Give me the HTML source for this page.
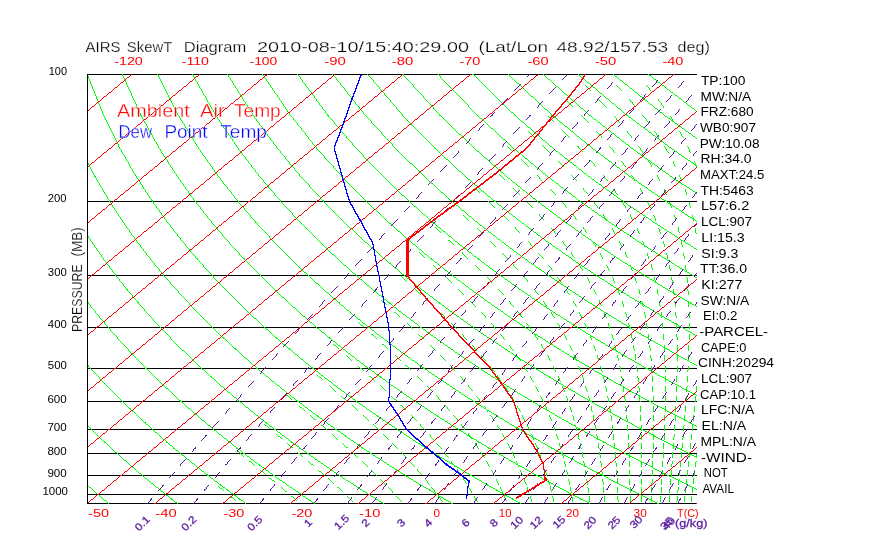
<!DOCTYPE html><html><head><meta charset="utf-8"><title>AIRS SkewT Diagram</title>
<style>html,body{margin:0;padding:0;background:#fff}svg{display:block}text{font-family:"Liberation Sans",sans-serif}</style></head><body>
<svg width="870" height="560" viewBox="0 0 870 560">
<rect width="870" height="560" fill="#fff"/>
<g fill="none" stroke-width="1" shape-rendering="crispEdges">
<path stroke="#000" d="M87 74.5h610m-610 127h610m-610 74h610m-610 52h610m-610 41h610m-610 33h610m-610 28h610m-610 24h610m-610 22h610m-610 19h610m-610 9h610"/>
<path stroke="#00ff00" d="M87 74.5h1m34 0h1m34 0h1m34 0h1m34 0h1m34 0h1m34 0h1m34 0h1m34 0h1m35 0h1m34 0h1m33 0h2m34 0h1m34 0h1m34 0h1m34 0h1m34 0h1m-562 1h1m34 0h1m35 0h1m34 0h1m34 0h1m34 0h1m34 0h1m34 0h1m34 0h1m34 0h1m35 0h1m34 0h1m34 0h1m34 0h1m34 0h1m34 0h1m34 0h2m-563 1h1m34 0h1m34 0h1m34 0h1m34 0h1m35 0h1m34 0h1m34 0h1m34 0h1m34 0h1m35 0h1m34 0h1m34 0h1m34 0h1m34 0h1m34 0h2m34 0h1m-564 1h1m34 0h1m35 0h1m34 0h1m34 0h1m34 0h1m35 0h1m34 0h1m34 0h1m34 0h1m34 0h1m35 0h1m34 0h1m34 0h1m34 0h2m34 0h1m34 0h1m-565 1h1m35 0h1m34 0h1m34 0h1m35 0h1m34 0h1m34 0h1m35 0h1m34 0h1m34 0h1m34 0h1m35 0h1m34 0h1m34 0h1m35 0h1m34 0h1m34 0h1m-565 1h1m34 0h1m35 0h1m34 0h1m34 0h1m35 0h1m34 0h1m34 0h1m35 0h1m34 0h1m34 0h1m35 0h1m34 0h1m34 0h2m34 0h1m34 0h1m34 0h2m-567 1h1m35 0h1m34 0h1m34 0h1m35 0h1m34 0h1m35 0h1m34 0h1m35 0h1m34 0h1m34 0h1m35 0h1m34 0h1m35 0h1m34 0h1m34 0h2m34 0h1m-567 1h1m34 0h1m35 0h1m34 0h1m35 0h1m34 0h1m34 0h1m35 0h1m34 0h1m35 0h1m34 0h1m35 0h1m34 0h1m35 0h1m34 0h1m35 0h1m34 0h1m-568 1h1m35 0h1m34 0h1m35 0h1m34 0h1m35 0h1m34 0h1m35 0h1m34 0h1m35 0h1m34 0h1m35 0h1m34 0h1m35 0h1m34 0h2m34 0h1m34 0h2m-570 1h1m35 0h1m35 0h1m34 0h1m35 0h1m34 0h1m35 0h1m35 0h1m34 0h1m35 0h1m34 0h1m35 0h1m34 0h2m34 0h1m35 0h1m34 0h1m35 0h1m-570 1h1m34 0h1m35 0h1m35 0h1m34 0h1m35 0h1m35 0h1m34 0h1m35 0h1m35 0h1m34 0h1m35 0h1m35 0h1m34 0h1m35 0h1m34 0h2m34 0h1m-571 1h1m35 0h1m35 0h1m34 0h1m35 0h1m35 0h1m34 0h1m35 0h1m35 0h1m35 0h1m34 0h1m35 0h1m35 0h1m34 0h1m35 0h1m35 0h1m34 0h2m-572 1h1m34 0h1m35 0h1m35 0h1m35 0h1m34 0h1m35 0h1m35 0h1m35 0h1m34 0h1m35 0h1m35 0h1m35 0h1m34 0h2m34 0h1m35 0h1m35 0h1m-573 1h1m35 0h1m35 0h1m34 0h1m35 0h1m35 0h1m35 0h1m35 0h1m35 0h1m34 0h1m35 0h1m35 0h1m35 0h1m35 0h1m34 0h2m34 0h1m35 0h1m-574 1h1m35 0h1m35 0h1m35 0h1m35 0h1m35 0h1m35 0h1m35 0h1m34 0h1m35 0h1m35 0h1m35 0h1m35 0h1m35 0h1m35 0h1m34 0h2m34 0h1m-574 1h1m35 0h1m35 0h1m35 0h1m35 0h1m34 0h1m35 0h1m35 0h1m35 0h1m35 0h1m35 0h1m35 0h1m35 0h1m35 0h1m35 0h1m35 0h1m34 0h2m-576 1h1m35 0h1m35 0h1m35 0h1m35 0h1m35 0h1m35 0h1m35 0h1m35 0h1m35 0h1m35 0h1m35 0h1m35 0h1m35 0h1m35 0h1m35 0h1m35 0h1m-576 1h1m35 0h1m35 0h1m35 0h1m35 0h1m35 0h1m35 0h1m35 0h1m35 0h1m35 0h1m35 0h1m35 0h1m35 0h1m35 0h1m35 0h1m35 0h1m35 0h1m-577 1h1m35 0h1m35 0h1m35 0h1m35 0h1m35 0h1m36 0h1m35 0h1m35 0h1m35 0h1m35 0h1m35 0h1m35 0h1m35 0h1m35 0h1m35 0h2m34 0h2m-579 1h1m36 0h1m35 0h1m35 0h1m35 0h1m35 0h1m35 0h1m35 0h1m36 0h1m35 0h1m35 0h1m35 0h1m35 0h1m35 0h1m35 0h2m35 0h1m35 0h1m-579 1h1m35 0h1m35 0h1m35 0h1m36 0h1m35 0h1m35 0h1m35 0h1m35 0h1m36 0h1m35 0h1m35 0h1m35 0h1m35 0h2m35 0h1m35 0h1m35 0h1m-580 1h1m35 0h1m36 0h1m35 0h1m35 0h1m36 0h1m35 0h1m35 0h1m35 0h1m36 0h1m35 0h1m35 0h1m35 0h1m36 0h1m35 0h1m35 0h1m35 0h2m-581 1h1m35 0h1m35 0h1m36 0h1m35 0h1m35 0h1m36 0h1m35 0h1m35 0h1m36 0h1m35 0h1m35 0h1m35 0h2m35 0h1m35 0h1m35 0h2m35 0h1m-582 1h1m35 0h1m36 0h1m35 0h1m36 0h1m35 0h1m35 0h1m36 0h1m35 0h1m35 0h1m36 0h1m35 0h1m36 0h1m35 0h1m35 0h1m36 0h1m35 0h1m-583 1h1m36 0h1m35 0h1m36 0h1m35 0h1m36 0h1m35 0h1m35 0h1m36 0h1m35 0h1m36 0h1m35 0h1m36 0h1m35 0h1m35 0h2m35 0h1m35 0h2m-584 1h1m35 0h1m36 0h1m35 0h1m36 0h1m35 0h1m36 0h1m35 0h1m36 0h1m35 0h1m36 0h1m35 0h1m36 0h1m35 0h1m36 0h1m35 0h1m36 0h1m-585 1h1m36 0h1m35 0h1m36 0h1m35 0h1m36 0h1m35 0h1m36 0h1m36 0h1m35 0h1m36 0h1m35 0h1m36 0h1m35 0h1m36 0h1m35 0h2m35 0h1m-585 1h1m35 0h1m36 0h1m35 0h1m36 0h1m36 0h1m35 0h1m36 0h1m35 0h1m36 0h1m36 0h1m35 0h1m36 0h1m35 0h2m35 0h1m36 0h1m35 0h1m-586 1h1m36 0h1m35 0h1m36 0h1m36 0h1m35 0h1m36 0h1m36 0h1m35 0h1m36 0h1m36 0h1m35 0h1m36 0h1m36 0h1m35 0h1m36 0h1m35 0h2m-588 1h1m36 0h1m36 0h1m36 0h1m35 0h1m36 0h1m36 0h1m35 0h1m36 0h1m36 0h1m36 0h1m35 0h1m36 0h1m36 0h1m35 0h2m35 0h1m36 0h1m-588 1h1m36 0h1m35 0h1m36 0h1m36 0h1m36 0h1m35 0h1m36 0h1m36 0h1m36 0h1m36 0h1m35 0h1m36 0h1m36 0h1m36 0h1m35 0h2m35 0h1m-589 1h1m36 0h1m36 0h1m36 0h1m36 0h1m35 0h1m36 0h1m36 0h1m36 0h1m36 0h1m36 0h1m35 0h1m36 0h1m36 0h1m36 0h1m36 0h1m35 0h2m-590 1h1m35 0h1m36 0h1m36 0h1m36 0h1m36 0h1m36 0h1m36 0h1m36 0h1m36 0h1m35 0h1m36 0h1m36 0h1m36 0h1m36 0h1m36 0h1m36 0h1m-591 1h1m36 0h1m36 0h1m36 0h1m36 0h1m36 0h1m36 0h1m36 0h1m36 0h1m36 0h1m35 0h1m36 0h1m36 0h1m36 0h1m36 0h1m36 0h1m36 0h1m-592 1h1m36 0h1m36 0h1m36 0h1m36 0h1m36 0h1m36 0h1m36 0h1m36 0h1m36 0h1m36 0h1m36 0h1m36 0h1m36 0h2m35 0h2m35 0h2m35 0h2m-593 1h1m36 0h1m36 0h1m36 0h1m36 0h1m36 0h1m36 0h1m36 0h1m36 0h1m36 0h1m36 0h1m36 0h1m36 0h2m36 0h1m36 0h1m36 0h1m36 0h1m-594 1h1m36 0h1m36 0h1m37 0h1m36 0h1m36 0h1m36 0h1m36 0h1m36 0h1m36 0h1m36 0h1m36 0h1m37 0h1m36 0h1m36 0h1m36 0h1m36 0h1m-594 1h1m36 0h1m36 0h1m36 0h1m36 0h1m36 0h1m37 0h1m36 0h1m36 0h1m36 0h1m36 0h1m36 0h1m37 0h1m36 0h1m36 0h1m36 0h1m36 0h1m-595 1h1m36 0h1m36 0h1m37 0h1m36 0h1m36 0h1m36 0h1m37 0h1m36 0h1m36 0h1m36 0h1m36 0h2m36 0h1m36 0h1m36 0h1m36 0h2m-560 1h1m37 0h1m36 0h1m36 0h1m37 0h1m36 0h1m36 0h1m36 0h1m37 0h1m36 0h1m36 0h1m37 0h1m36 0h1m36 0h1m36 0h1m37 0h1m-560 1h1m36 0h1m36 0h1m37 0h1m36 0h1m36 0h1m37 0h1m36 0h1m37 0h1m36 0h1m36 0h1m37 0h1m36 0h1m36 0h1m36 0h2m36 0h1m-561 1h1m36 0h2m36 0h1m36 0h1m36 0h2m36 0h1m36 0h2m36 0h1m36 0h1m36 0h2m36 0h1m36 0h2m35 0h2m36 0h2m35 0h2m36 0h1m-561 1h1m36 0h1m37 0h1m36 0h1m37 0h1m36 0h1m36 0h1m37 0h1m36 0h1m37 0h1m36 0h1m37 0h1m36 0h1m37 0h1m36 0h1m36 0h2m-563 1h1m37 0h1m36 0h1m37 0h1m36 0h1m37 0h1m36 0h1m37 0h1m36 0h1m37 0h1m36 0h1m37 0h1m36 0h2m36 0h1m36 0h2m36 0h1m-563 1h1m36 0h1m37 0h1m36 0h1m37 0h1m37 0h1m36 0h1m37 0h1m36 0h1m37 0h1m36 0h2m36 0h1m37 0h1m36 0h1m37 0h1m36 0h2m-565 1h1m37 0h1m36 0h1m37 0h1m37 0h1m36 0h1m37 0h1m37 0h1m36 0h1m37 0h1m37 0h1m36 0h1m37 0h1m36 0h2m36 0h1m37 0h1m-565 1h1m36 0h1m37 0h1m37 0h1m36 0h1m37 0h1m37 0h1m37 0h1m36 0h1m37 0h1m37 0h1m36 0h1m37 0h1m37 0h1m36 0h2m36 0h1m-566 1h1m37 0h1m37 0h1m36 0h1m37 0h1m37 0h1m37 0h1m37 0h1m36 0h1m37 0h1m37 0h1m36 0h2m36 0h1m37 0h1m37 0h1m36 0h2m-567 1h1m36 0h1m37 0h1m37 0h1m37 0h1m37 0h1m37 0h1m36 0h1m37 0h1m37 0h1m37 0h1m37 0h1m36 0h2m36 0h2m36 0h1m37 0h1m-568 1h1m37 0h1m37 0h1m37 0h1m37 0h1m37 0h1m36 0h1m37 0h1m37 0h1m37 0h1m37 0h1m37 0h1m37 0h1m37 0h1m36 0h2m36 0h2m-569 1h1m37 0h1m37 0h1m36 0h1m37 0h1m37 0h1m37 0h1m37 0h1m37 0h1m37 0h1m37 0h1m37 0h1m37 0h1m37 0h1m37 0h1m37 0h1m-570 1h1m37 0h1m37 0h1m37 0h1m37 0h1m37 0h1m37 0h1m37 0h1m37 0h1m37 0h1m37 0h1m37 0h1m37 0h1m37 0h1m37 0h1m37 0h1m-570 1h1m37 0h1m37 0h1m37 0h1m37 0h1m37 0h1m37 0h1m37 0h1m37 0h1m37 0h1m37 0h1m37 0h1m37 0h2m36 0h2m36 0h2m36 0h2m-572 1h1m37 0h1m37 0h1m37 0h1m38 0h1m37 0h1m37 0h1m37 0h1m37 0h1m37 0h1m37 0h1m37 0h2m37 0h1m37 0h1m37 0h1m37 0h1m-572 1h1m37 0h1m37 0h1m37 0h1m37 0h1m38 0h1m37 0h1m37 0h1m37 0h1m37 0h1m37 0h2m37 0h1m37 0h1m37 0h1m37 0h1m37 0h2m-574 1h1m37 0h1m38 0h1m37 0h1m37 0h1m37 0h1m38 0h1m37 0h1m37 0h1m37 0h1m38 0h1m37 0h1m37 0h1m37 0h1m37 0h2m37 0h1m-574 1h1m37 0h1m37 0h1m38 0h1m37 0h1m37 0h1m37 0h1m38 0h1m37 0h1m37 0h1m38 0h1m37 0h1m37 0h1m37 0h2m37 0h1m37 0h1m-575 1h1m37 0h1m38 0h1m37 0h1m38 0h1m37 0h1m37 0h1m38 0h1m37 0h1m37 0h1m38 0h1m37 0h1m37 0h2m37 0h1m37 0h1m37 0h2m-576 1h1m37 0h1m37 0h1m38 0h1m37 0h1m38 0h1m37 0h1m38 0h1m37 0h1m37 0h1m38 0h1m37 0h1m38 0h1m37 0h1m37 0h2m37 0h1m-577 1h1m38 0h1m37 0h1m38 0h1m37 0h1m38 0h1m37 0h1m37 0h1m38 0h1m37 0h1m38 0h1m37 0h2m37 0h1m37 0h2m37 0h1m37 0h2m-578 1h1m37 0h1m38 0h1m37 0h1m38 0h1m37 0h1m38 0h1m37 0h1m38 0h1m37 0h2m37 0h1m38 0h1m37 0h1m38 0h1m37 0h1m38 0h1m-579 1h1m38 0h1m37 0h1m38 0h1m37 0h1m38 0h1m38 0h1m37 0h1m38 0h1m38 0h1m37 0h1m38 0h1m37 0h1m38 0h1m37 0h2m37 0h1m-579 1h1m37 0h1m38 0h1m38 0h1m37 0h1m38 0h1m38 0h1m37 0h1m38 0h1m38 0h1m37 0h1m38 0h1m37 0h2m37 0h1m38 0h1m37 0h2m-581 1h1m38 0h1m38 0h1m37 0h1m38 0h1m38 0h1m37 0h1m38 0h1m38 0h1m38 0h1m37 0h1m38 0h1m38 0h1m37 0h2m37 0h1m38 0h1m-581 1h1m37 0h1m38 0h1m38 0h1m38 0h1m37 0h1m38 0h1m38 0h1m38 0h1m38 0h1m37 0h1m38 0h1m38 0h1m38 0h1m37 0h2m37 0h1m-582 1h1m38 0h1m38 0h1m38 0h1m37 0h1m38 0h1m38 0h1m38 0h1m38 0h1m38 0h1m37 0h2m37 0h1m38 0h1m38 0h1m38 0h1m-544 1h1m37 0h1m38 0h1m38 0h1m38 0h1m38 0h1m38 0h1m38 0h1m38 0h1m38 0h1m38 0h1m37 0h2m37 0h2m37 0h1m38 0h1m-545 1h1m38 0h1m38 0h1m38 0h1m38 0h1m38 0h1m38 0h1m38 0h1m38 0h1m38 0h1m38 0h1m38 0h1m38 0h1m37 0h2m37 0h2m-546 1h1m38 0h1m38 0h1m38 0h1m38 0h1m38 0h1m38 0h1m38 0h1m38 0h1m38 0h1m38 0h1m38 0h1m38 0h1m38 0h1m38 0h1m-547 1h1m38 0h1m38 0h1m38 0h1m38 0h1m38 0h1m39 0h1m38 0h1m38 0h1m38 0h1m38 0h1m38 0h1m38 0h1m38 0h1m38 0h1m-547 1h1m38 0h1m38 0h1m38 0h1m38 0h1m38 0h1m38 0h1m39 0h1m38 0h1m38 0h1m38 0h1m38 0h1m38 0h1m38 0h2m37 0h2m-549 1h1m38 0h1m38 0h1m39 0h1m38 0h1m38 0h1m38 0h1m38 0h1m39 0h1m38 0h1m38 0h1m38 0h1m38 0h2m38 0h1m38 0h1m-550 1h1m39 0h1m38 0h1m38 0h1m39 0h1m38 0h1m38 0h1m38 0h1m39 0h1m38 0h1m38 0h1m38 0h2m38 0h1m38 0h1m38 0h1m-550 1h1m38 0h1m39 0h1m38 0h1m38 0h1m39 0h1m38 0h1m38 0h1m39 0h1m38 0h1m38 0h1m39 0h1m38 0h1m38 0h1m38 0h2m-552 1h1m39 0h1m38 0h1m39 0h1m38 0h1m38 0h1m39 0h1m38 0h1m38 0h2m38 0h1m38 0h1m39 0h1m38 0h1m38 0h2m38 0h1m-552 1h1m39 0h1m38 0h1m38 0h1m39 0h1m38 0h1m39 0h1m38 0h1m39 0h1m38 0h1m38 0h2m38 0h1m38 0h2m38 0h1m38 0h2m-553 1h1m38 0h1m39 0h1m38 0h1m39 0h1m38 0h1m39 0h1m38 0h1m39 0h1m38 0h1m39 0h1m38 0h1m39 0h1m38 0h2m38 0h1m-554 1h1m39 0h1m38 0h1m39 0h1m39 0h1m38 0h1m39 0h1m38 0h1m39 0h1m38 0h2m38 0h1m38 0h2m38 0h1m39 0h1m38 0h2m-555 1h1m38 0h1m39 0h1m39 0h1m38 0h1m39 0h1m39 0h1m38 0h1m39 0h1m39 0h1m38 0h1m39 0h1m38 0h2m38 0h1m39 0h1m-556 1h1m39 0h1m39 0h1m38 0h1m39 0h1m39 0h1m39 0h1m38 0h1m39 0h1m39 0h1m38 0h2m38 0h1m39 0h1m38 0h2m38 0h1m-556 1h1m39 0h1m38 0h1m39 0h1m39 0h1m39 0h1m39 0h1m38 0h1m39 0h1m39 0h1m39 0h1m38 0h2m38 0h1m39 0h1m38 0h2m-557 1h1m38 0h1m39 0h1m39 0h1m39 0h1m39 0h1m39 0h1m38 0h1m39 0h1m39 0h1m39 0h1m39 0h1m38 0h2m38 0h2m38 0h1m-558 1h1m39 0h1m39 0h1m39 0h1m39 0h1m39 0h1m38 0h1m39 0h1m39 0h1m39 0h1m39 0h1m39 0h1m39 0h1m39 0h1m38 0h2m-559 1h1m39 0h1m39 0h1m39 0h1m39 0h1m38 0h1m39 0h1m39 0h1m39 0h1m39 0h1m39 0h1m39 0h1m39 0h1m39 0h1m39 0h1m-560 1h1m39 0h1m39 0h1m39 0h1m39 0h1m39 0h1m39 0h1m39 0h1m39 0h1m39 0h2m38 0h2m38 0h2m38 0h2m38 0h2m38 0h2m-561 1h1m39 0h1m39 0h1m39 0h1m39 0h1m39 0h1m39 0h1m39 0h1m39 0h2m39 0h1m39 0h1m39 0h1m39 0h1m39 0h1m39 0h1m-562 1h1m40 0h1m39 0h1m39 0h1m39 0h1m39 0h1m39 0h1m39 0h1m40 0h1m39 0h1m39 0h1m39 0h1m39 0h1m39 0h2m38 0h2m-603 1h1m39 0h1m39 0h1m39 0h1m40 0h1m39 0h1m39 0h1m39 0h1m39 0h1m40 0h1m39 0h1m39 0h1m39 0h1m39 0h2m39 0h1m39 0h1m-604 1h1m40 0h1m39 0h1m39 0h1m39 0h1m40 0h1m39 0h1m39 0h1m39 0h1m40 0h1m39 0h1m39 0h1m39 0h2m39 0h1m39 0h1m39 0h2m-605 1h1m39 0h1m39 0h1m40 0h1m39 0h1m39 0h1m40 0h1m39 0h1m39 0h2m39 0h1m39 0h1m39 0h2m39 0h1m39 0h1m39 0h2m39 0h1m-606 1h1m40 0h1m39 0h1m40 0h1m39 0h1m39 0h1m40 0h1m39 0h1m40 0h1m39 0h1m39 0h1m40 0h1m39 0h1m39 0h2m39 0h1m39 0h2m-607 1h1m39 0h1m40 0h1m39 0h1m40 0h1m39 0h1m40 0h1m39 0h1m40 0h1m39 0h1m39 0h2m39 0h1m39 0h2m39 0h1m39 0h2m39 0h1m-608 1h1m40 0h1m39 0h1m40 0h1m39 0h1m40 0h1m40 0h1m39 0h1m40 0h1m39 0h1m40 0h1m39 0h1m40 0h1m39 0h1m40 0h1m-568 1h1m39 0h1m40 0h1m40 0h1m39 0h1m40 0h1m39 0h1m40 0h1m40 0h1m39 0h1m40 0h1m39 0h1m40 0h1m39 0h2m39 0h1m-569 1h1m40 0h1m40 0h1m39 0h1m40 0h1m40 0h1m39 0h1m40 0h1m40 0h1m39 0h1m40 0h1m39 0h2m39 0h1m40 0h1m39 0h2m-570 1h1m40 0h1m39 0h1m40 0h1m40 0h1m39 0h1m40 0h1m40 0h1m40 0h1m39 0h1m40 0h1m40 0h1m39 0h2m39 0h1m40 0h1m-571 1h1m40 0h1m40 0h1m40 0h1m40 0h1m39 0h1m40 0h1m40 0h1m40 0h1m39 0h1m40 0h1m40 0h1m40 0h1m39 0h2m39 0h1m-571 1h1m40 0h1m40 0h1m39 0h1m40 0h1m40 0h1m40 0h1m40 0h1m40 0h1m39 0h2m39 0h1m40 0h1m40 0h1m40 0h1m39 0h2m-573 1h1m40 0h1m40 0h1m40 0h1m40 0h1m40 0h1m40 0h1m40 0h1m40 0h1m40 0h1m39 0h2m39 0h1m40 0h1m40 0h1m40 0h1m-573 1h1m40 0h1m40 0h1m40 0h1m40 0h1m40 0h1m40 0h1m40 0h1m40 0h1m40 0h1m40 0h1m39 0h2m39 0h2m39 0h2m39 0h2m-575 1h1m41 0h1m40 0h1m40 0h1m40 0h1m40 0h1m40 0h1m40 0h1m40 0h1m40 0h1m40 0h1m40 0h1m40 0h1m40 0h1m40 0h1m-575 1h1m40 0h1m40 0h1m40 0h1m40 0h1m40 0h1m41 0h1m40 0h1m40 0h1m40 0h1m40 0h1m40 0h1m40 0h1m40 0h1m40 0h1m-576 1h2m40 0h1m40 0h1m40 0h1m40 0h1m40 0h1m40 0h1m41 0h1m40 0h1m40 0h1m40 0h1m40 0h1m40 0h2m39 0h2m39 0h2m-577 1h1m40 0h1m41 0h1m40 0h1m40 0h1m40 0h1m40 0h1m41 0h1m40 0h1m40 0h1m40 0h1m40 0h2m40 0h1m40 0h1m40 0h1m-577 1h1m40 0h1m40 0h1m41 0h1m40 0h1m40 0h1m40 0h1m41 0h1m40 0h1m40 0h1m40 0h2m40 0h1m40 0h1m40 0h2m39 0h2m-579 1h1m41 0h1m40 0h1m40 0h1m41 0h1m40 0h1m40 0h1m41 0h1m40 0h1m40 0h2m40 0h1m40 0h1m40 0h2m40 0h1m40 0h1m-579 1h1m40 0h1m41 0h1m40 0h1m41 0h1m40 0h1m40 0h1m41 0h1m40 0h1m41 0h1m40 0h1m40 0h2m40 0h1m40 0h2m39 0h2m-581 1h1m41 0h1m40 0h1m41 0h1m40 0h1m41 0h1m40 0h1m41 0h1m40 0h1m41 0h1m40 0h1m41 0h1m40 0h1m41 0h1m40 0h1m-581 1h1m41 0h1m40 0h1m41 0h1m40 0h1m41 0h1m40 0h1m41 0h1m40 0h1m41 0h1m40 0h2m40 0h1m40 0h2m40 0h1m40 0h2m-582 1h1m40 0h1m41 0h1m40 0h1m41 0h1m41 0h1m40 0h1m41 0h1m40 0h2m40 0h1m41 0h1m40 0h2m40 0h1m40 0h2m40 0h1m-583 1h1m41 0h1m41 0h1m40 0h1m41 0h1m41 0h1m40 0h1m41 0h1m41 0h1m40 0h1m41 0h1m41 0h1m40 0h2m40 0h1m40 0h2m-584 1h1m41 0h1m40 0h1m41 0h1m41 0h1m41 0h1m40 0h1m41 0h1m41 0h1m40 0h2m40 0h1m41 0h1m41 0h1m40 0h2m40 0h2m-586 1h1m41 0h1m41 0h1m41 0h1m41 0h1m40 0h1m41 0h1m41 0h1m41 0h1m41 0h1m40 0h2m40 0h1m41 0h1m41 0h1m41 0h1m-586 1h1m41 0h1m41 0h1m41 0h1m40 0h1m41 0h1m41 0h1m41 0h1m41 0h1m41 0h1m41 0h1m40 0h2m40 0h2m40 0h2m40 0h2m-587 1h1m40 0h1m41 0h1m41 0h1m41 0h1m41 0h1m41 0h1m41 0h1m41 0h1m41 0h1m41 0h1m41 0h1m41 0h1m41 0h1m41 0h1m-588 1h1m41 0h1m41 0h1m41 0h1m41 0h1m41 0h1m41 0h1m41 0h1m41 0h1m41 0h1m41 0h1m41 0h1m41 0h1m41 0h1m41 0h2m-589 1h1m41 0h1m41 0h1m41 0h1m41 0h1m41 0h1m41 0h1m41 0h1m41 0h1m41 0h1m41 0h2m40 0h2m40 0h2m40 0h2m41 0h1m-590 1h1m41 0h1m42 0h1m41 0h1m41 0h1m41 0h1m41 0h1m41 0h1m41 0h1m41 0h2m41 0h1m41 0h1m41 0h1m41 0h1m41 0h2m-591 1h1m41 0h1m41 0h1m42 0h1m41 0h1m41 0h1m41 0h1m41 0h1m41 0h2m41 0h1m41 0h1m41 0h1m41 0h2m40 0h2m41 0h1m-592 1h1m42 0h1m41 0h1m41 0h1m42 0h1m41 0h1m41 0h1m41 0h1m42 0h1m41 0h1m41 0h1m41 0h2m41 0h1m41 0h1m41 0h1m-592 1h1m41 0h1m42 0h1m41 0h1m41 0h1m42 0h1m41 0h1m41 0h1m42 0h1m41 0h1m41 0h2m41 0h1m41 0h1m41 0h2m-551 1h1m41 0h1m41 0h1m42 0h1m41 0h1m42 0h1m41 0h1m41 0h2m41 0h1m41 0h1m42 0h1m41 0h1m41 0h2m41 0h1m-552 1h1m42 0h1m41 0h1m42 0h1m41 0h1m42 0h1m41 0h1m42 0h1m41 0h1m41 0h2m41 0h1m41 0h2m41 0h1m41 0h2m-553 1h1m41 0h1m42 0h1m41 0h1m42 0h1m42 0h1m41 0h1m42 0h1m41 0h1m42 0h1m41 0h1m42 0h1m41 0h1m42 0h1m-554 1h1m42 0h1m42 0h1m41 0h1m42 0h1m41 0h1m42 0h1m42 0h1m41 0h1m42 0h1m41 0h2m41 0h1m41 0h2m41 0h1m-554 1h1m42 0h1m41 0h1m42 0h1m42 0h1m41 0h1m42 0h1m42 0h1m41 0h1m42 0h1m42 0h1m41 0h1m42 0h1m41 0h2m-555 1h1m41 0h2m41 0h1m42 0h1m42 0h1m41 0h2m41 0h1m42 0h1m41 0h2m41 0h2m41 0h1m41 0h2m41 0h2m41 0h2m-557 1h1m42 0h1m42 0h1m42 0h1m41 0h1m42 0h1m42 0h1m42 0h1m42 0h1m41 0h2m41 0h1m42 0h1m42 0h1m41 0h2m-557 1h1m42 0h1m42 0h1m41 0h1m42 0h1m42 0h1m42 0h1m42 0h1m42 0h1m42 0h1m41 0h2m41 0h2m41 0h2m41 0h1m-557 1h1m41 0h1m42 0h1m42 0h1m42 0h1m42 0h1m42 0h1m42 0h1m42 0h1m42 0h1m42 0h1m42 0h1m42 0h1m41 0h2m-559 1h1m42 0h1m42 0h1m42 0h1m42 0h1m42 0h1m42 0h1m42 0h1m42 0h1m42 0h1m42 0h1m42 0h1m42 0h1m42 0h2m-560 1h1m42 0h1m42 0h1m42 0h1m42 0h1m42 0h1m42 0h1m42 0h1m42 0h2m41 0h2m41 0h2m41 0h2m41 0h2m42 0h1m-561 1h1m43 0h1m42 0h1m42 0h1m42 0h1m42 0h1m42 0h1m42 0h2m42 0h1m42 0h1m42 0h1m42 0h1m42 0h1m42 0h2m-562 1h1m42 0h1m43 0h1m42 0h1m42 0h1m42 0h1m42 0h1m43 0h1m42 0h1m42 0h1m42 0h1m42 0h2m41 0h2m42 0h1m-562 1h1m42 0h1m42 0h1m43 0h1m42 0h1m42 0h1m42 0h1m43 0h1m42 0h1m42 0h1m42 0h2m42 0h1m42 0h1m42 0h2m-564 1h1m43 0h1m42 0h1m42 0h1m43 0h1m42 0h1m42 0h2m42 0h1m42 0h1m42 0h2m42 0h1m42 0h1m42 0h2m42 0h1m-564 1h1m43 0h1m42 0h1m42 0h1m43 0h1m42 0h1m43 0h1m42 0h1m42 0h2m42 0h1m42 0h1m42 0h2m42 0h1m42 0h2m-565 1h1m42 0h1m43 0h1m42 0h1m43 0h1m42 0h1m43 0h1m42 0h1m43 0h1m42 0h1m42 0h2m42 0h1m42 0h2m42 0h1m-566 1h1m43 0h1m42 0h1m43 0h1m43 0h1m42 0h1m43 0h1m42 0h1m43 0h1m42 0h1m43 0h1m42 0h2m42 0h1m42 0h2m-567 1h1m43 0h1m42 0h1m43 0h1m43 0h1m42 0h1m43 0h1m42 0h1m43 0h1m42 0h2m42 0h1m43 0h1m42 0h2m42 0h1m-567 1h1m42 0h1m43 0h1m43 0h1m42 0h1m43 0h1m43 0h1m42 0h2m42 0h1m43 0h1m42 0h2m42 0h1m43 0h1m42 0h2m-569 1h1m43 0h1m43 0h1m43 0h1m42 0h1m43 0h1m43 0h1m43 0h1m42 0h1m43 0h1m43 0h1m42 0h2m42 0h2m42 0h1m-569 1h1m43 0h1m43 0h1m42 0h1m43 0h1m43 0h1m43 0h1m43 0h1m42 0h2m42 0h2m42 0h1m43 0h1m43 0h1m42 0h2m-570 1h1m43 0h1m42 0h1m43 0h1m43 0h1m43 0h1m43 0h1m43 0h1m43 0h1m43 0h1m42 0h2m42 0h2m42 0h2m42 0h2m-572 1h1m43 0h1m43 0h1m43 0h1m43 0h1m43 0h1m43 0h1m43 0h1m43 0h1m43 0h1m43 0h1m43 0h1m43 0h1m43 0h1m-572 1h1m43 0h1m43 0h1m43 0h1m43 0h1m43 0h1m43 0h1m43 0h1m43 0h1m43 0h1m43 0h1m43 0h1m43 0h2m42 0h2m-573 1h1m43 0h1m43 0h1m43 0h1m43 0h1m43 0h1m43 0h1m43 0h1m43 0h1m43 0h2m42 0h2m42 0h2m43 0h1m43 0h1m-574 1h1m43 0h1m44 0h1m43 0h1m43 0h1m43 0h1m43 0h1m43 0h1m43 0h2m43 0h1m43 0h1m43 0h1m43 0h1m43 0h1m-574 1h1m43 0h1m43 0h1m43 0h2m43 0h1m43 0h1m43 0h1m43 0h2m43 0h1m43 0h1m43 0h1m43 0h2m42 0h2m-531 1h1m43 0h1m43 0h1m44 0h1m43 0h1m43 0h1m43 0h2m43 0h1m43 0h1m43 0h2m42 0h2m43 0h1m43 0h2m-533 1h1m44 0h1m43 0h1m43 0h1m44 0h1m43 0h1m44 0h1m43 0h1m43 0h1m44 0h1m43 0h1m43 0h2m43 0h1m-533 1h1m44 0h1m43 0h1m43 0h1m44 0h1m43 0h1m44 0h1m43 0h1m43 0h2m43 0h1m43 0h2m43 0h1m43 0h2m-534 1h1m43 0h1m44 0h1m43 0h1m44 0h1m43 0h1m44 0h1m43 0h1m44 0h1m43 0h2m43 0h1m43 0h2m43 0h1m-535 1h1m44 0h1m44 0h1m43 0h1m44 0h1m43 0h1m44 0h1m43 0h2m43 0h1m44 0h1m43 0h2m43 0h1m43 0h2m-536 1h1m44 0h1m44 0h1m43 0h1m44 0h1m43 0h2m43 0h1m44 0h1m43 0h2m43 0h1m44 0h1m43 0h2m43 0h1m-536 1h1m44 0h1m43 0h1m44 0h1m44 0h1m44 0h1m43 0h1m44 0h1m44 0h1m43 0h2m43 0h1m44 0h1m43 0h2m-537 1h1m43 0h1m44 0h1m44 0h1m44 0h1m44 0h1m43 0h1m44 0h1m44 0h1m44 0h1m43 0h2m43 0h2m43 0h1m-538 1h1m44 0h1m44 0h1m44 0h1m44 0h1m44 0h1m43 0h2m43 0h2m43 0h1m44 0h1m44 0h1m44 0h1m43 0h2m-539 1h1m44 0h1m44 0h1m44 0h1m44 0h1m44 0h1m44 0h1m44 0h1m43 0h2m43 0h2m43 0h2m43 0h2m43 0h2m-540 1h1m44 0h1m44 0h1m44 0h1m44 0h1m44 0h1m44 0h1m44 0h1m44 0h1m44 0h1m44 0h1m44 0h1m44 0h1m-541 1h1m45 0h1m44 0h1m44 0h1m44 0h1m44 0h1m44 0h1m44 0h1m44 0h1m44 0h1m44 0h1m44 0h2m43 0h2m-587 1h1m44 0h1m44 0h1m44 0h1m45 0h1m44 0h1m44 0h1m44 0h1m44 0h1m44 0h2m43 0h2m43 0h2m44 0h1m44 0h1m-587 1h1m44 0h1m44 0h1m44 0h1m45 0h1m44 0h1m44 0h1m44 0h1m44 0h2m44 0h1m44 0h1m44 0h1m44 0h2m43 0h2m-589 1h1m45 0h1m44 0h1m44 0h1m44 0h1m45 0h1m44 0h1m44 0h1m45 0h1m44 0h1m44 0h1m44 0h2m44 0h1m44 0h1m-589 1h1m44 0h1m45 0h1m44 0h1m44 0h1m45 0h1m44 0h1m44 0h2m44 0h1m44 0h1m44 0h2m44 0h1m44 0h2m43 0h2m-590 1h1m44 0h1m44 0h1m45 0h1m44 0h1m45 0h1m44 0h1m45 0h1m44 0h1m44 0h2m44 0h1m44 0h2m44 0h1m44 0h1m-591 1h1m45 0h1m44 0h1m45 0h1m44 0h1m45 0h1m44 0h1m45 0h1m44 0h1m45 0h1m44 0h1m45 0h1m44 0h1m44 0h2m-592 1h1m44 0h1m45 0h1m45 0h1m44 0h1m45 0h1m44 0h1m45 0h1m44 0h2m44 0h1m44 0h2m44 0h1m44 0h2m44 0h2m-593 1h1m44 0h1m45 0h1m45 0h1m44 0h1m45 0h1m44 0h2m44 0h1m45 0h1m44 0h2m44 0h1m44 0h2m44 0h2m44 0h1m-594 1h1m45 0h1m45 0h1m44 0h1m45 0h1m45 0h1m45 0h1m44 0h1m45 0h1m45 0h1m44 0h2m44 0h1m45 0h1m44 0h2m-595 1h1m45 0h1m45 0h1m44 0h1m45 0h1m45 0h1m45 0h1m44 0h2m44 0h1m45 0h1m45 0h1m44 0h2m44 0h2m44 0h2m-596 1h1m45 0h1m44 0h1m45 0h1m45 0h1m45 0h1m45 0h1m45 0h1m44 0h2m44 0h2m44 0h1m45 0h1m45 0h1m45 0h1m-597 1h1m45 0h1m45 0h1m45 0h1m45 0h1m45 0h1m45 0h1m45 0h1m45 0h1m45 0h1m44 0h2m44 0h2m44 0h2m44 0h2m-598 1h1m45 0h1m45 0h1m45 0h1m45 0h1m45 0h1m45 0h1m45 0h1m45 0h1m45 0h1m45 0h1m45 0h1m45 0h1m45 0h1m-598 1h1m45 0h1m45 0h1m45 0h1m45 0h1m45 0h1m45 0h1m45 0h1m45 0h2m44 0h2m44 0h2m44 0h2m44 0h2m44 0h2m-600 1h1m46 0h1m45 0h1m45 0h1m45 0h1m45 0h1m45 0h1m45 0h2m45 0h1m45 0h1m45 0h1m45 0h1m45 0h2m44 0h1m-600 1h1m45 0h1m46 0h1m45 0h1m45 0h1m45 0h1m45 0h2m45 0h1m45 0h1m45 0h1m45 0h2m44 0h2m45 0h1m-555 1h1m45 0h1m45 0h1m46 0h1m45 0h1m45 0h1m46 0h1m45 0h1m45 0h1m45 0h2m45 0h1m45 0h1m45 0h2m-556 1h1m45 0h1m45 0h1m46 0h1m45 0h1m45 0h1m46 0h1m45 0h1m45 0h2m45 0h1m45 0h1m45 0h2m45 0h1m-557 1h1m46 0h1m45 0h1m46 0h1m45 0h1m45 0h1m46 0h1m45 0h1m46 0h1m45 0h1m45 0h2m45 0h1m45 0h2m-558 1h1m45 0h1m46 0h1m45 0h1m46 0h1m45 0h2m45 0h1m45 0h2m45 0h1m45 0h2m45 0h1m45 0h2m45 0h1m-558 1h1m45 0h1m46 0h1m45 0h1m46 0h1m46 0h1m45 0h1m46 0h1m45 0h1m46 0h1m45 0h2m45 0h1m45 0h2m-560 1h1m46 0h1m46 0h1m45 0h1m46 0h1m46 0h1m45 0h1m46 0h1m45 0h2m45 0h1m46 0h1m45 0h2m45 0h1m-560 1h1m46 0h1m45 0h1m46 0h1m46 0h1m46 0h1m45 0h1m46 0h1m46 0h1m45 0h2m45 0h2m45 0h1m45 0h2m-561 1h1m46 0h1m45 0h2m45 0h2m45 0h1m46 0h1m45 0h2m45 0h2m45 0h2m45 0h1m46 0h1m45 0h2m45 0h2m-563 1h1m46 0h1m46 0h1m46 0h1m46 0h1m46 0h1m46 0h1m45 0h2m45 0h2m45 0h2m45 0h1m46 0h1m46 0h1m-563 1h1m46 0h1m46 0h1m46 0h1m46 0h1m46 0h1m46 0h1m46 0h1m46 0h1m46 0h1m45 0h2m45 0h2m45 0h2m-564 1h1m46 0h1m46 0h1m46 0h1m46 0h1m46 0h1m46 0h1m46 0h1m46 0h1m46 0h1m46 0h1m46 0h1m46 0h2m-565 1h1m46 0h1m46 0h1m46 0h1m46 0h1m46 0h1m46 0h1m46 0h2m45 0h2m45 0h2m45 0h2m45 0h2m46 0h1m-566 1h1m47 0h1m46 0h1m46 0h1m46 0h1m46 0h1m46 0h2m46 0h1m46 0h1m46 0h1m46 0h1m46 0h2m45 0h2m-567 1h1m46 0h1m47 0h1m46 0h1m46 0h1m46 0h1m47 0h1m46 0h1m46 0h1m46 0h2m45 0h2m46 0h1m46 0h1m-567 1h1m46 0h1m47 0h1m46 0h1m46 0h1m46 0h2m46 0h1m46 0h1m46 0h2m46 0h1m46 0h1m46 0h2m45 0h2m-568 1h1m46 0h1m46 0h1m47 0h1m46 0h1m47 0h1m46 0h1m46 0h2m46 0h1m46 0h1m46 0h2m46 0h1m46 0h2m-570 1h1m47 0h1m46 0h1m47 0h1m46 0h1m47 0h1m46 0h1m47 0h1m46 0h1m46 0h2m46 0h1m46 0h2m46 0h1m-570 1h1m47 0h1m46 0h1m47 0h1m46 0h1m47 0h1m46 0h2m46 0h1m46 0h2m46 0h1m46 0h2m46 0h1m46 0h2m-571 1h1m47 0h1m46 0h1m47 0h1m46 0h1m47 0h1m47 0h1m46 0h1m47 0h1m46 0h2m46 0h1m46 0h2m46 0h2m-572 1h1m46 0h1m47 0h1m47 0h1m46 0h1m47 0h1m47 0h1m46 0h2m46 0h1m47 0h1m46 0h2m46 0h2m46 0h1m-573 1h1m47 0h1m47 0h1m47 0h1m46 0h1m47 0h1m47 0h1m47 0h1m46 0h2m46 0h2m46 0h1m47 0h1m46 0h2m-574 1h1m47 0h1m47 0h1m47 0h1m46 0h2m46 0h1m47 0h1m47 0h1m47 0h1m47 0h1m46 0h2m46 0h2m46 0h2m-575 1h1m47 0h1m47 0h1m47 0h1m47 0h1m46 0h2m46 0h1m47 0h1m47 0h1m47 0h1m47 0h1m47 0h1m47 0h1m-575 1h1m47 0h1m47 0h1m47 0h1m47 0h1m47 0h1m46 0h2m46 0h2m46 0h2m46 0h2m46 0h2m46 0h2m46 0h2m-577 1h1m47 0h1m48 0h1m47 0h1m47 0h1m47 0h1m47 0h1m47 0h1m47 0h1m47 0h1m47 0h1m47 0h1m47 0h2m-578 1h1m47 0h1m48 0h1m47 0h1m47 0h1m47 0h1m47 0h1m47 0h1m47 0h2m46 0h2m46 0h2m46 0h2m47 0h1m-578 1h1m47 0h1m47 0h1m48 0h1m47 0h1m47 0h1m47 0h1m47 0h2m47 0h1m47 0h1m47 0h1m47 0h2m46 0h2m-579 1h1m47 0h1m47 0h1m48 0h1m47 0h1m47 0h1m47 0h2m47 0h1m47 0h1m47 0h2m46 0h2m47 0h1m-531 1h1m47 0h1m47 0h1m48 0h1m47 0h1m47 0h2m47 0h1m47 0h1m47 0h2m47 0h1m47 0h2m46 0h2m-533 1h1m48 0h1m47 0h1m48 0h1m47 0h1m48 0h1m47 0h1m47 0h2m47 0h1m47 0h2m47 0h1m47 0h2m-534 1h1m48 0h1m47 0h1m48 0h1m47 0h1m48 0h1m47 0h1m48 0h1m47 0h2m47 0h1m47 0h2m47 0h1m-534 1h1m48 0h1m47 0h1m48 0h1m47 0h1m48 0h1m47 0h2m47 0h1m48 0h1m47 0h2m47 0h1m47 0h2m-535 1h1m47 0h1m48 0h1m48 0h1m47 0h2m47 0h1m48 0h1m47 0h2m47 0h1m48 0h1m47 0h2m47 0h1m-535 1h1m47 0h1m48 0h1m48 0h1m48 0h1m47 0h1m48 0h1m48 0h1m47 0h2m47 0h2m47 0h1m47 0h2m-537 1h1m48 0h1m48 0h1m48 0h1m48 0h1m47 0h2m47 0h1m48 0h1m48 0h1m48 0h1m47 0h2m47 0h2m-538 1h1m48 0h1m48 0h1m48 0h1m48 0h1m48 0h1m47 0h2m47 0h2m47 0h2m47 0h2m47 0h1m48 0h1m-538 1h1m48 0h1m48 0h1m48 0h1m48 0h1m48 0h1m48 0h1m48 0h1m48 0h1m48 0h1m47 0h2m47 0h2m-539 1h1m48 0h1m48 0h1m48 0h1m48 0h1m48 0h1m48 0h1m48 0h1m48 0h1m48 0h1m48 0h2m47 0h2m-541 1h2m48 0h1m48 0h1m48 0h1m48 0h1m48 0h1m48 0h1m48 0h2m47 0h2m47 0h2m48 0h1m48 0h1m-541 1h1m49 0h1m48 0h1m48 0h1m48 0h1m48 0h2m47 0h2m48 0h1m48 0h1m48 0h2m47 0h2m47 0h2m-542 1h1m49 0h1m48 0h1m48 0h1m48 0h1m49 0h1m48 0h1m48 0h1m48 0h2m48 0h1m48 0h1m48 0h2m-543 1h1m48 0h1m49 0h1m48 0h1m48 0h2m48 0h1m48 0h1m48 0h2m48 0h1m48 0h2m47 0h2m48 0h1m-543 1h1m48 0h1m49 0h1m48 0h1m49 0h1m48 0h1m48 0h2m48 0h1m48 0h2m48 0h1m48 0h2m47 0h2m-544 1h1m48 0h1m49 0h1m48 0h1m49 0h1m48 0h1m49 0h1m48 0h2m48 0h1m48 0h2m48 0h1m48 0h2m-545 1h1m48 0h1m49 0h1m48 0h1m49 0h1m48 0h2m48 0h1m49 0h1m48 0h2m48 0h1m48 0h2m48 0h1m-546 1h1m49 0h1m49 0h1m48 0h1m49 0h1m49 0h1m48 0h2m48 0h1m49 0h1m48 0h2m48 0h1m48 0h2m-547 1h1m49 0h1m49 0h1m48 0h2m48 0h1m49 0h1m49 0h1m48 0h2m48 0h1m49 0h1m48 0h2m48 0h2m-548 1h1m49 0h1m49 0h1m49 0h1m48 0h1m49 0h1m49 0h1m49 0h1m48 0h2m48 0h2m48 0h2m48 0h2m-549 1h1m49 0h1m49 0h1m49 0h1m48 0h2m48 0h2m48 0h2m48 0h1m49 0h1m49 0h1m49 0h1m49 0h1m-549 1h1m49 0h1m49 0h1m49 0h1m49 0h1m49 0h1m49 0h1m48 0h2m48 0h2m48 0h2m48 0h2m48 0h2m-600 1h1m49 0h1m49 0h1m49 0h1m49 0h1m49 0h1m49 0h1m49 0h1m49 0h1m49 0h1m49 0h1m49 0h2m48 0h2m-602 1h2m48 0h2m49 0h1m49 0h1m49 0h1m49 0h2m48 0h2m48 0h2m48 0h2m48 0h2m48 0h2m49 0h2m48 0h2m-603 1h1m49 0h1m50 0h1m49 0h1m49 0h1m49 0h1m49 0h2m48 0h2m49 0h1m49 0h1m49 0h2m48 0h2m48 0h2m-603 1h1m49 0h1m49 0h1m50 0h1m49 0h1m49 0h1m50 0h1m49 0h1m49 0h1m49 0h2m49 0h1m49 0h2m48 0h2m-604 1h1m49 0h1m49 0h1m50 0h1m49 0h1m49 0h2m49 0h1m49 0h2m48 0h2m49 0h1m49 0h2m49 0h1m49 0h2m-606 1h1m50 0h1m49 0h1m50 0h1m49 0h1m50 0h1m49 0h1m50 0h1m49 0h1m49 0h2m49 0h1m49 0h2m49 0h1m-606 1h1m50 0h1m49 0h1m50 0h1m49 0h2m49 0h1m49 0h2m49 0h1m49 0h2m49 0h1m49 0h2m49 0h2m-557 1h1m50 0h1m49 0h1m50 0h1m50 0h1m49 0h1m50 0h1m49 0h2m49 0h1m49 0h2m49 0h2m49 0h1m-557 1h1m50 0h1m49 0h1m50 0h1m50 0h1m49 0h1m50 0h1m50 0h1m49 0h2m49 0h1m50 0h1m49 0h2m-558 1h1m49 0h1m50 0h1m50 0h1m50 0h1m49 0h2m49 0h1m50 0h1m50 0h1m49 0h2m49 0h2m49 0h2m-559 1h1m49 0h1m50 0h1m50 0h1m50 0h1m50 0h1m49 0h2m49 0h2m49 0h2m49 0h1m50 0h1m50 0h1m-560 1h1m50 0h1m50 0h1m50 0h1m50 0h1m50 0h1m50 0h1m50 0h1m50 0h1m49 0h2m49 0h2m49 0h2m-561 1h1m50 0h1m50 0h1m50 0h1m50 0h1m50 0h1m50 0h1m50 0h1m50 0h1m50 0h1m50 0h2m49 0h2m-562 1h1m50 0h1m50 0h1m50 0h1m50 0h1m50 0h1m50 0h2m49 0h2m49 0h2m49 0h2m50 0h1m50 0h1m-562 1h1m50 0h1m50 0h1m50 0h1m50 0h1m50 0h2m50 0h1m50 0h1m50 0h1m50 0h2m49 0h2m49 0h2m-563 1h1m50 0h1m50 0h1m50 0h1m50 0h2m50 0h1m50 0h1m50 0h2m49 0h2m50 0h1m50 0h1m50 0h2m-565 1h1m51 0h1m50 0h1m50 0h1m51 0h1m50 0h1m50 0h2m50 0h1m50 0h1m50 0h2m49 0h2m50 0h1m-565 1h1m51 0h1m50 0h1m50 0h2m50 0h1m50 0h1m51 0h1m50 0h1m50 0h2m50 0h1m50 0h2m49 0h2m-566 1h1m51 0h1m50 0h1m51 0h1m50 0h1m50 0h2m50 0h1m50 0h2m50 0h1m50 0h2m50 0h1m50 0h2m-567 1h1m50 0h1m51 0h1m51 0h1m50 0h1m51 0h1m50 0h2m50 0h1m50 0h2m50 0h1m50 0h2m50 0h2m-568 1h1m50 0h1m51 0h1m51 0h1m50 0h1m51 0h1m51 0h1m50 0h2m50 0h1m50 0h2m50 0h2m50 0h1m-568 1h1m50 0h1m51 0h1m51 0h1m50 0h2m50 0h1m51 0h1m51 0h1m50 0h2m50 0h2m50 0h1m50 0h2m-570 1h1m51 0h1m51 0h1m51 0h1m51 0h1m50 0h2m50 0h2m50 0h1m51 0h1m51 0h1m50 0h2m50 0h2m-571 1h1m51 0h1m51 0h1m51 0h1m51 0h1m51 0h1m51 0h1m50 0h2m50 0h2m50 0h2m50 0h2m50 0h2m-572 1h1m51 0h1m51 0h1m51 0h1m51 0h1m51 0h1m51 0h1m51 0h1m51 0h1m51 0h1m51 0h1m51 0h1m-572 1h1m51 0h1m51 0h1m51 0h1m51 0h1m51 0h1m51 0h1m51 0h2m50 0h2m50 0h2m50 0h2m50 0h2m-573 1h1m51 0h1m51 0h1m51 0h1m51 0h1m51 0h2m50 0h2m51 0h1m51 0h1m51 0h1m51 0h2m50 0h2m-574 1h1m51 0h1m51 0h1m51 0h1m51 0h2m51 0h1m51 0h1m51 0h1m51 0h2m50 0h2m51 0h1m51 0h2m-575 1h1m51 0h1m51 0h1m51 0h2m51 0h1m51 0h1m51 0h2m50 0h2m51 0h1m51 0h2m50 0h2m51 0h1m-576 1h1m52 0h1m51 0h1m52 0h1m51 0h1m51 0h2m51 0h1m51 0h1m51 0h2m51 0h1m51 0h2m50 0h2m-577 1h1m52 0h1m51 0h1m52 0h1m51 0h1m52 0h1m51 0h1m51 0h2m51 0h1m51 0h2m51 0h1m51 0h2m-578 1h1m52 0h1m51 0h1m52 0h1m51 0h2m51 0h1m51 0h2m51 0h1m51 0h2m51 0h1m51 0h2m51 0h2m-579 1h1m52 0h1m51 0h1m52 0h1m52 0h1m51 0h1m52 0h1m51 0h2m51 0h1m51 0h2m51 0h2m51 0h1m-579 1h1m52 0h1m51 0h1m52 0h1m52 0h1m51 0h2m51 0h1m52 0h1m51 0h2m51 0h2m51 0h1m51 0h2m-580 1h1m52 0h1m51 0h1m52 0h1m52 0h1m52 0h1m51 0h2m51 0h2m51 0h1m52 0h1m51 0h2m51 0h2m-581 1h1m52 0h1m51 0h1m52 0h1m52 0h1m52 0h1m52 0h1m52 0h1m51 0h2m51 0h2m51 0h2m-529 1h1m52 0h1m51 0h2m51 0h2m51 0h2m51 0h2m51 0h2m51 0h2m51 0h2m51 0h2m51 0h2m-531 1h1m52 0h1m52 0h2m51 0h2m51 0h2m52 0h1m52 0h1m52 0h1m52 0h1m52 0h1m52 0h1m-531 1h1m52 0h1m53 0h1m52 0h1m52 0h1m52 0h1m52 0h1m52 0h2m51 0h2m51 0h2m51 0h2m-532 1h1m52 0h1m53 0h1m52 0h1m52 0h1m52 0h2m51 0h2m52 0h1m52 0h1m52 0h2m51 0h2m-533 1h1m52 0h1m53 0h1m52 0h1m52 0h2m52 0h1m52 0h1m52 0h2m51 0h2m52 0h1m52 0h2m-534 1h1m52 0h1m53 0h1m52 0h1m53 0h1m52 0h1m52 0h2m52 0h1m52 0h1m52 0h2m52 0h1m-534 1h1m52 0h1m53 0h1m52 0h1m53 0h1m52 0h2m52 0h1m52 0h2m51 0h2m52 0h2m51 0h2m-535 1h1m52 0h1m53 0h1m52 0h2m52 0h1m53 0h1m52 0h1m53 0h1m52 0h2m52 0h1m52 0h2m-536 1h1m52 0h1m53 0h1m53 0h1m52 0h2m52 0h1m52 0h2m52 0h2m52 0h1m52 0h2m52 0h2m-537 1h1m52 0h1m53 0h1m53 0h1m53 0h1m52 0h2m52 0h1m53 0h1m52 0h2m52 0h2m52 0h1m-537 1h1m52 0h1m53 0h1m53 0h1m53 0h1m53 0h1m52 0h2m52 0h2m52 0h1m53 0h1m52 0h2m-538 1h1m52 0h1m53 0h2m52 0h2m52 0h1m53 0h1m53 0h1m53 0h1m52 0h2m52 0h2m52 0h2m-539 1h1m52 0h1m53 0h2m52 0h2m52 0h2m52 0h2m52 0h2m52 0h2m52 0h2m52 0h2m52 0h2m-541 1h1m53 0h2m53 0h1m53 0h1m53 0h1m53 0h1m53 0h1m53 0h1m53 0h1m53 0h1m53 0h1m-541 1h1m54 0h1m53 0h1m53 0h1m53 0h1m53 0h1m53 0h1m53 0h2m52 0h2m52 0h2m52 0h2m-542 1h1m54 0h1m53 0h1m53 0h1m53 0h1m53 0h2m52 0h2m53 0h1m53 0h1m53 0h2m52 0h2m-543 1h1m54 0h1m53 0h1m53 0h1m53 0h2m53 0h1m53 0h1m53 0h2m52 0h2m53 0h1m53 0h2m-544 1h1m54 0h1m53 0h1m53 0h2m53 0h1m53 0h1m53 0h2m53 0h1m53 0h2m52 0h2m53 0h2m-545 1h1m54 0h1m53 0h1m54 0h1m53 0h1m53 0h2m53 0h1m53 0h2m53 0h1m53 0h2m53 0h1m-545 1h1m54 0h1m53 0h1m54 0h1m53 0h2m53 0h1m53 0h2m53 0h1m53 0h2m53 0h2m52 0h2m-546 1h1m54 0h1m53 0h1m54 0h1m54 0h1m53 0h2m53 0h1m53 0h2m53 0h2m53 0h1m53 0h2m-547 1h1m54 0h1m53 0h2m53 0h1m54 0h1m54 0h1m53 0h2m53 0h1m54 0h1m53 0h2m53 0h2m-548 1h1m54 0h1m54 0h1m53 0h2m53 0h1m54 0h1m54 0h1m53 0h2m53 0h2m53 0h2m53 0h2m-549 1h1m54 0h1m54 0h1m54 0h1m53 0h2m53 0h2m53 0h2m53 0h2m53 0h2m53 0h2m53 0h2m-550 1h1m54 0h1m54 0h1m54 0h1m54 0h1m54 0h1m54 0h1m54 0h1m54 0h1m54 0h1m54 0h1m-550 1h1m54 0h1m54 0h1m54 0h1m54 0h1m54 0h2m53 0h2m53 0h2m53 0h2m53 0h2m53 0h2m-551 1h1m54 0h1m54 0h1m54 0h2m53 0h2m54 0h1m54 0h1m54 0h1m54 0h2m53 0h2m53 0h2m-607 1h1m54 0h1m54 0h1m54 0h1m55 0h1m54 0h1m54 0h1m54 0h2m53 0h2m54 0h1m54 0h2m53 0h2m-608 1h1m54 0h1m54 0h1m54 0h2m54 0h1m54 0h1m54 0h2m54 0h1m54 0h2m53 0h2m54 0h1m54 0h1m-609 1h1m55 0h1m54 0h1m55 0h1m54 0h1m54 0h2m54 0h1m54 0h2m54 0h1m54 0h2m53 0h2m-555 1h1m55 0h1m54 0h1m55 0h1m54 0h2m54 0h1m54 0h2m54 0h1m54 0h2m54 0h1m54 0h2m-556 1h1m54 0h2m54 0h1m54 0h2m54 0h2m54 0h1m54 0h2m54 0h2m53 0h2m54 0h2m53 0h3m-557 1h1m55 0h1m54 0h2m54 0h1m55 0h1m54 0h2m54 0h2m54 0h1m54 0h2m54 0h2m54 0h1m-557 1h1m55 0h1m55 0h1m54 0h1m55 0h1m55 0h1m55 0h1m54 0h2m54 0h2m54 0h1m54 0h2m-558 1h1m55 0h1m55 0h1m54 0h2m54 0h2m54 0h2m54 0h1m55 0h1m55 0h1m54 0h2m54 0h2m-559 1h1m55 0h1m55 0h1m55 0h1m55 0h1m55 0h1m54 0h2m54 0h2m54 0h2m54 0h2m54 0h2m-560 1h1m55 0h1m55 0h1m55 0h1m55 0h1m55 0h1m55 0h1m55 0h1m55 0h1m55 0h2m54 0h2m-561 1h1m55 0h1m55 0h1m55 0h1m55 0h1m55 0h2m54 0h2m54 0h2m54 0h2m55 0h1m55 0h1m-561 1h1m55 0h1m55 0h1m55 0h1m55 0h2m55 0h1m55 0h1m55 0h1m55 0h2m54 0h2m54 0h2m-562 1h1m55 0h1m55 0h2m54 0h2m55 0h1m55 0h2m54 0h2m54 0h2m55 0h2m54 0h2m54 0h2m-563 1h1m55 0h1m55 0h1m56 0h1m55 0h1m55 0h2m55 0h1m55 0h2m54 0h2m55 0h1m55 0h2m-565 1h1m56 0h1m55 0h2m55 0h1m55 0h2m55 0h1m55 0h2m55 0h1m55 0h2m54 0h2m55 0h2m-566 1h1m56 0h1m56 0h1m55 0h1m56 0h1m55 0h2m55 0h1m55 0h2m55 0h1m55 0h2m55 0h2m-567 1h1m56 0h1m56 0h1m55 0h1m56 0h1m56 0h1m55 0h2m55 0h1m55 0h2m55 0h2m55 0h1m-567 1h1m56 0h1m56 0h1m55 0h2m55 0h2m55 0h1m56 0h1m55 0h2m55 0h2m55 0h1m55 0h2m-568 1h1m56 0h1m56 0h1m56 0h1m56 0h1m55 0h2m55 0h2m55 0h1m56 0h1m55 0h2m55 0h2m-569 1h1m56 0h1m56 0h1m56 0h1m56 0h1m56 0h1m56 0h1m55 0h2m55 0h2m55 0h2m55 0h2m-570 1h1m56 0h1m56 0h1m56 0h1m56 0h1m56 0h1m56 0h2m55 0h2m55 0h2m55 0h2m55 0h2m-571 1h1m56 0h1m56 0h1m56 0h2m55 0h2m55 0h2m56 0h1m56 0h1m56 0h1m56 0h2m55 0h2m-572 1h1m56 0h1m56 0h2m56 0h1m56 0h1m56 0h1m56 0h2m55 0h2m55 0h2m56 0h1m56 0h2m-573 1h1m56 0h1m57 0h1m56 0h1m56 0h1m56 0h2m56 0h1m56 0h1m56 0h2m55 0h2m56 0h1m-573 1h1m56 0h2m56 0h1m56 0h1m56 0h2m56 0h1m56 0h2m55 0h2m56 0h1m56 0h2m55 0h2m-574 1h1m57 0h1m56 0h1m56 0h2m56 0h1m56 0h2m56 0h1m56 0h2m55 0h2m56 0h2m55 0h2m-575 1h1m57 0h1m56 0h1m57 0h1m56 0h1m57 0h1m56 0h2m56 0h1m56 0h2m56 0h1m56 0h2m-576 1h1m57 0h1m56 0h1m57 0h1m56 0h2m56 0h1m57 0h1m56 0h2m56 0h2m55 0h2m56 0h2m-577 1h1m57 0h1m56 0h2m56 0h1m57 0h1m56 0h2m56 0h2m56 0h1m57 0h1m56 0h2m56 0h2m-578 1h1m57 0h1m57 0h1m56 0h2m56 0h1m57 0h1m57 0h1m56 0h2m56 0h2m56 0h2m56 0h2m-579 1h1m57 0h1m57 0h1m57 0h1m56 0h2m56 0h2m56 0h2m56 0h2m56 0h2m56 0h2m56 0h2m-580 1h1m57 0h1m57 0h1m57 0h1m57 0h1m57 0h1m57 0h1m57 0h1m57 0h1m57 0h2m56 0h1m-580 1h1m57 0h1m57 0h1m57 0h1m57 0h2m56 0h2m56 0h2m56 0h2m56 0h2m57 0h1m-523 1h1m57 0h1m57 0h2m56 0h2m57 0h1m57 0h1m57 0h1m57 0h2m56 0h2m56 0h2m-524 1h1m57 0h1m58 0h1m57 0h1m57 0h1m57 0h2m56 0h2m57 0h1m57 0h2m56 0h2m-525 1h1m57 0h1m58 0h1m57 0h1m57 0h2m57 0h1m57 0h2m56 0h2m57 0h1m57 0h2m-526 1h1m57 0h2m57 0h1m57 0h2m57 0h1m57 0h2m57 0h1m57 0h2m56 0h2m57 0h2m-527 1h1m57 0h2m57 0h1m57 0h2m57 0h1m58 0h1m57 0h2m57 0h1m57 0h2m57 0h2m-528 1h1m58 0h1m57 0h2m57 0h1m57 0h2m57 0h2m57 0h1m57 0h2m57 0h2m57 0h1m-528 1h1m58 0h1m58 0h1m57 0h2m57 0h1m58 0h1m57 0h2m57 0h2m57 0h1m57 0h2m-529 1h1m58 0h1m58 0h1m58 0h1m57 0h2m57 0h2m57 0h1m58 0h1m57 0h2m57 0h2m-530 1h1m58 0h1m58 0h1m58 0h1m58 0h1m58 0h1m57 0h2m57 0h2m57 0h2m57 0h2m-531 1h1m58 0h1m58 0h1m58 0h1m58 0h2m57 0h2m57 0h2m57 0h2m57 0h2m57 0h2m-532 1h1m58 0h1m58 0h2m57 0h2m58 0h1m58 0h1m58 0h1m58 0h1m58 0h2m57 0h2m-533 1h2m57 0h2m58 0h1m58 0h1m58 0h1m58 0h2m57 0h2m57 0h2m58 0h1m58 0h2m-534 1h1m59 0h1m58 0h1m58 0h1m58 0h2m58 0h1m58 0h1m58 0h2m57 0h2m58 0h1m-534 1h1m59 0h1m58 0h1m58 0h2m58 0h1m58 0h2m57 0h2m58 0h2m57 0h2m57 0h2m-535 1h2m58 0h1m58 0h2m58 0h1m58 0h2m58 0h1m58 0h2m58 0h1m58 0h2m57 0h2m-535 1h1m58 0h1m59 0h1m58 0h1m59 0h1m58 0h2m58 0h1m58 0h2m58 0h2m57 0h2m-536 1h1m58 0h1m59 0h1m58 0h2m58 0h2m58 0h1m58 0h2m58 0h2m58 0h1m58 0h2m-537 1h1m58 0h2m58 0h1m59 0h1m59 0h1m58 0h2m58 0h2m58 0h1m58 0h2m58 0h2m-538 1h1m59 0h1m58 0h2m58 0h2m58 0h2m58 0h2m58 0h2m57 0h2m58 0h2m58 0h2m-539 1h1m59 0h1m59 0h1m58 0h2m58 0h2m58 0h2m58 0h2m58 0h2m58 0h2m58 0h2m-540 1h1m59 0h1m59 0h1m59 0h1m59 0h1m59 0h1m59 0h1m59 0h2m58 0h2m58 0h2m-541 1h1m59 0h1m59 0h1m59 0h2m58 0h2m58 0h2m58 0h2m59 0h1m59 0h1m59 0h2m-542 1h1m59 0h1m59 0h2m59 0h1m59 0h1m59 0h2m58 0h2m58 0h2m58 0h2m59 0h2m-543 1h1m59 0h2m59 0h1m59 0h1m59 0h2m59 0h1m59 0h1m59 0h2m58 0h2m59 0h2m-544 1h1m60 0h1m59 0h1m59 0h2m59 0h1m59 0h2m58 0h2m59 0h2m58 0h2m59 0h1m-544 1h2m59 0h1m59 0h2m59 0h1m59 0h2m59 0h1m59 0h2m59 0h1m59 0h2m58 0h3m-546 1h1m60 0h1m59 0h2m59 0h1m60 0h1m59 0h2m59 0h1m59 0h2m59 0h2m58 0h2m-546 1h2m59 0h1m60 0h1m59 0h2m59 0h2m59 0h1m59 0h2m59 0h2m59 0h2m58 0h2m-607 1h1m60 0h1m59 0h2m59 0h1m60 0h1m60 0h1m59 0h2m59 0h2m59 0h2m59 0h1m59 0h2m-608 1h1m60 0h1m60 0h1m59 0h2m59 0h2m59 0h2m59 0h2m59 0h1m60 0h1m59 0h2m59 0h1m-608 1h1m60 0h1m60 0h1m60 0h1m60 0h1m60 0h1m60 0h1m59 0h2m59 0h2m59 0h2m-549 1h1m60 0h1m60 0h1m60 0h1m60 0h1m60 0h2m59 0h2m59 0h2m59 0h2m59 0h2m-550 1h1m60 0h1m60 0h1m60 0h2m59 0h2m60 0h1m60 0h1m60 0h2m59 0h2m59 0h2m-551 1h1m60 0h1m60 0h2m60 0h1m60 0h1m60 0h2m59 0h2m60 0h1m60 0h2m59 0h2m-552 1h1m60 0h1m61 0h1m60 0h1m60 0h2m60 0h1m60 0h2m59 0h2m60 0h1m60 0h2m-553 1h1m60 0h2m60 0h1m60 0h2m60 0h1m60 0h2m60 0h1m60 0h2m59 0h2m60 0h2m-554 1h1m61 0h1m60 0h1m61 0h1m60 0h2m60 0h1m60 0h2m60 0h1m60 0h2m60 0h2m-555 1h1m61 0h1m60 0h2m60 0h1m61 0h1m60 0h2m60 0h1m60 0h2m60 0h2m60 0h2m-556 1h1m61 0h1m61 0h1m60 0h2m60 0h2m60 0h1m60 0h2m60 0h2m60 0h2m60 0h2m-557 1h1m61 0h1m61 0h1m61 0h1m60 0h2m60 0h2m60 0h2m60 0h2m60 0h1m60 0h2m-557 1h1m61 0h1m61 0h1m61 0h1m61 0h1m61 0h1m61 0h1m61 0h1m60 0h2m60 0h2m-558 1h1m61 0h1m61 0h2m60 0h2m60 0h2m60 0h2m60 0h2m60 0h2m60 0h2m60 0h2m-559 1h1m61 0h2m61 0h1m61 0h1m61 0h1m61 0h1m61 0h2m60 0h2m60 0h2m60 0h2m-560 1h1m62 0h1m61 0h1m61 0h1m61 0h2m60 0h2m61 0h1m61 0h2m60 0h2m60 0h2m-561 1h2m61 0h1m61 0h1m61 0h2m61 0h1m61 0h1m61 0h2m61 0h1m61 0h2m60 0h2m-562 1h2m60 0h2m61 0h2m60 0h2m61 0h2m60 0h2m60 0h3m60 0h2m60 0h3m60 0h2m-562 1h1m61 0h1m62 0h1m61 0h1m62 0h1m61 0h2m61 0h1m61 0h2m61 0h1m61 0h2m-563 1h1m61 0h1m62 0h1m61 0h2m61 0h2m61 0h1m61 0h2m61 0h2m60 0h2m61 0h2m-564 1h1m61 0h2m61 0h1m62 0h1m62 0h1m61 0h2m61 0h2m61 0h1m61 0h2m61 0h2m-565 1h1m62 0h1m61 0h2m61 0h2m61 0h1m62 0h1m62 0h1m61 0h2m61 0h2m61 0h2m-566 1h1m62 0h1m62 0h1m62 0h1m61 0h2m61 0h2m61 0h2m61 0h2m61 0h2m61 0h2m-567 1h1m61 0h2m61 0h2m61 0h2m61 0h2m61 0h3m60 0h3m60 0h3m60 0h3m60 0h3m-568 1h1m62 0h1m62 0h2m61 0h2m61 0h2m62 0h1m62 0h1m62 0h1m62 0h2m61 0h2m-569 1h1m62 0h2m62 0h1m62 0h1m62 0h1m62 0h2m61 0h2m61 0h2m62 0h2m61 0h2m-570 1h1m63 0h1m62 0h1m62 0h2m61 0h2m62 0h1m62 0h2m61 0h2m62 0h1m62 0h2m-571 1h2m62 0h1m62 0h1m63 0h1m62 0h1m62 0h2m62 0h1m62 0h2m61 0h2m62 0h2m-571 1h1m62 0h1m62 0h2m62 0h2m61 0h2m62 0h2m61 0h2m62 0h2m61 0h2m62 0h2m-572 1h1m62 0h1m63 0h1m62 0h2m62 0h1m63 0h1m62 0h2m62 0h1m62 0h2m62 0h2m-573 1h1m62 0h2m62 0h1m63 0h1m62 0h2m62 0h2m62 0h2m61 0h2m62 0h2m62 0h2m-574 1h1m63 0h1m62 0h2m62 0h2m62 0h1m63 0h1m63 0h1m62 0h2m62 0h2m62 0h2m-575 1h1m63 0h1m63 0h1m63 0h1m62 0h2m62 0h2m62 0h2m62 0h2m62 0h2m62 0h1m-575 1h1m63 0h1m63 0h1m63 0h1m63 0h2m62 0h2m62 0h2m62 0h2m62 0h2m-513 1h1m63 0h2m62 0h2m62 0h2m63 0h1m63 0h1m63 0h1m63 0h2m62 0h2m-514 1h2m63 0h1m63 0h1m63 0h1m63 0h2m62 0h2m62 0h2m63 0h1m63 0h2m-514 1h1m63 0h1m63 0h1m63 0h2m63 0h1m63 0h2m62 0h2m62 0h2m63 0h2m-515 1h1m63 0h1m63 0h2m63 0h1m63 0h2m63 0h1m63 0h2m62 0h2m63 0h2m-516 1h1m63 0h2m63 0h1m63 0h2m63 0h1m63 0h2m63 0h1m63 0h2m63 0h2m-517 1h1m64 0h1m63 0h2m63 0h1m63 0h2m63 0h2m62 0h2m63 0h2m63 0h2m-518 1h1m64 0h1m63 0h2m63 0h2m63 0h1m64 0h1m63 0h2m63 0h2m63 0h2m-519 1h1m64 0h1m64 0h1m64 0h1m63 0h2m63 0h2m63 0h2m63 0h2m63 0h2m-520 1h2m63 0h2m63 0h2m63 0h2m63 0h2m63 0h2m63 0h2m63 0h1m64 0h1m-519 1h1m64 0h1m64 0h1m64 0h1m64 0h1m64 0h1m64 0h1m63 0h2m63 0h2m-520 1h1m64 0h1m64 0h1m64 0h1m64 0h2m63 0h2m63 0h2m63 0h2m63 0h2m-521 1h1m64 0h1m64 0h2m63 0h2m63 0h2m64 0h2m63 0h2m63 0h2m63 0h2m-522 1h1m64 0h2m64 0h1m64 0h1m64 0h2m64 0h1m64 0h2m63 0h2m63 0h2m-523 1h1m65 0h1m64 0h1m64 0h2m64 0h1m64 0h2m64 0h1m64 0h2m63 0h2m-524 1h2m64 0h1m64 0h2m64 0h1m64 0h2m64 0h2m63 0h2m64 0h2m63 0h2m-524 1h1m64 0h2m64 0h1m64 0h2m64 0h2m64 0h1m64 0h2m64 0h2m63 0h2m-525 1h1m64 0h2m64 0h2m64 0h1m65 0h1m64 0h2m64 0h2m64 0h2m63 0h2m-526 1h1m65 0h1m65 0h1m64 0h2m64 0h2m64 0h2m64 0h2m64 0h2m63 0h3m-528 1h1m65 0h1m65 0h1m65 0h1m65 0h1m65 0h1m65 0h2m64 0h2m64 0h2m-529 1h2m64 0h2m64 0h2m64 0h2m64 0h2m64 0h2m65 0h1m65 0h1m65 0h2m-529 1h1m65 0h1m65 0h1m65 0h1m65 0h2m64 0h2m64 0h2m64 0h2m65 0h2m-530 1h1m65 0h1m65 0h2m64 0h2m65 0h1m65 0h2m64 0h2m64 0h2m65 0h2m-531 1h1m65 0h2m65 0h1m65 0h2m64 0h2m65 0h1m65 0h2m64 0h2m65 0h2m-532 1h1m66 0h1m65 0h2m65 0h1m65 0h2m64 0h2m65 0h2m64 0h2m65 0h2m-533 1h2m65 0h1m66 0h1m65 0h2m65 0h1m65 0h2m65 0h2m64 0h2m65 0h2m-533 1h1m65 0h2m65 0h1m66 0h1m65 0h2m65 0h2m65 0h1m65 0h2m65 0h2m-601 1h1m66 0h1m65 0h2m65 0h2m65 0h2m65 0h2m64 0h2m65 0h2m65 0h2m65 0h2m-602 1h1m66 0h1m66 0h1m66 0h1m66 0h1m66 0h1m65 0h2m65 0h2m65 0h2m65 0h2m-603 1h2m65 0h2m65 0h2m65 0h2m65 0h2m65 0h2m65 0h2m65 0h2m65 0h2m65 0h2m-603 1h1m66 0h1m66 0h1m66 0h1m66 0h1m66 0h2m65 0h2m65 0h2m65 0h2m65 0h2m-604 1h1m66 0h2m65 0h2m65 0h2m65 0h2m66 0h2m65 0h2m65 0h2m65 0h2m65 0h1m-604 1h1m66 0h1m66 0h2m66 0h1m66 0h1m66 0h2m65 0h2m66 0h2m65 0h2m-539 1h1m66 0h2m66 0h1m66 0h2m65 0h2m66 0h2m65 0h2m66 0h2m65 0h2m-540 1h1m67 0h1m66 0h1m67 0h1m66 0h2m66 0h1m66 0h2m66 0h1m66 0h2m-541 1h1m67 0h1m66 0h2m66 0h2m66 0h1m66 0h2m66 0h2m65 0h2m66 0h2m-542 1h2m66 0h1m67 0h1m67 0h1m66 0h2m66 0h2m66 0h1m66 0h2m66 0h2m-542 1h1m66 0h2m66 0h2m66 0h1m67 0h1m67 0h1m66 0h2m66 0h2m66 0h2m-543 1h1m67 0h1m67 0h1m66 0h2m66 0h2m66 0h2m66 0h2m66 0h2m66 0h2m-544 1h1m67 0h1m67 0h1m67 0h1m67 0h2m66 0h2m66 0h2m66 0h2m66 0h2m-545 1h1m67 0h2m66 0h2m66 0h2m67 0h1m67 0h1m67 0h2m66 0h2m66 0h2m-546 1h1m67 0h2m66 0h2m67 0h1m67 0h2m66 0h2m66 0h2m66 0h3m66 0h2m-547 1h2m67 0h1m67 0h2m66 0h2m67 0h1m67 0h2m66 0h2m67 0h2m66 0h2m-547 1h1m67 0h1m68 0h1m67 0h1m67 0h2m67 0h2m66 0h2m67 0h2m66 0h2m-548 1h1m67 0h2m67 0h1m67 0h2m67 0h2m67 0h1m67 0h2m67 0h2m66 0h2m-549 1h1m68 0h1m67 0h1m68 0h1m68 0h1m67 0h2m67 0h1m68 0h1m67 0h2"/>
<path stroke="#00ff00" d="M585 85.5h1m30 0h1m29 0h1m-61 1h1m30 0h1m29 0h1m-61 1h1m30 0h1m29 0h1m-61 1h1m30 0h1m29 0h1m-61 1h1m30 0h1m28 0h1m-60 1h1m30 0h1m28 0h1m-53 9h1m30 0h1m28 0h1m-60 1h1m30 0h1m27 0h1m-92 1h1m32 0h1m29 0h2m27 0h1m-92 1h1m32 0h1m30 0h1m27 0h1m-92 1h1m32 0h1m29 0h1m28 0h1m-92 1h1m32 0h1m29 0h1m27 0h1m-91 1h1m32 0h1m29 0h1m27 0h1m-91 1h1m32 0h1m29 0h1m27 0h1m-58 1h1m56 0h1m-83 8h1m60 0h1m-95 1h1m33 0h1m31 0h1m28 0h1m26 0h1m-122 1h1m33 0h1m31 0h1m28 0h1m26 0h1m-122 1h1m33 0h1m31 0h1m28 0h1m25 0h1m-121 1h1m33 0h1m30 0h1m29 0h1m25 0h1m-121 1h1m33 0h1m30 0h1m28 0h1m25 0h1m-120 1h1m33 0h1m30 0h1m28 0h1m25 0h1m-86 1h1m30 0h1m28 0h1m25 0h1m-113 8h1m-35 1h1m34 0h1m32 0h1m30 0h1m26 0h1m24 0h1m-151 1h1m34 0h1m32 0h1m29 0h1m27 0h1m24 0h1m-151 1h1m34 0h1m32 0h1m29 0h1m27 0h1m23 0h1m-150 1h1m34 0h1m32 0h1m29 0h1m26 0h1m24 0h1m-150 1h1m34 0h1m32 0h1m29 0h1m26 0h1m23 0h1m-149 1h1m34 0h1m32 0h1m29 0h1m26 0h1m23 0h1m-114 1h1m31 0h1m29 0h1m26 0h1m24 0h1m-142 8h1m-36 1h1m35 0h1m33 0h2m30 0h1m28 0h1m25 0h1m22 0h1m-180 1h1m35 0h1m33 0h1m31 0h1m28 0h1m25 0h1m22 0h1m-180 1h1m35 0h1m33 0h1m31 0h1m28 0h1m24 0h1m22 0h1m-179 1h1m35 0h1m33 0h1m31 0h1m27 0h1m25 0h1m22 0h1m-179 1h1m35 0h1m33 0h1m31 0h1m27 0h1m24 0h1m22 0h1m-178 1h1m35 0h1m33 0h1m30 0h1m28 0h1m24 0h1m21 0h1m-141 1h1m64 0h1m27 0h1m25 0h1m21 0h1m-170 7h1m0 1h1m67 0h1m-68 1h1m34 0h1m32 0h1m29 0h1m26 0h1m24 0h1m20 0h1m-171 1h1m34 0h1m32 0h1m29 0h1m26 0h1m23 0h1m20 0h1m-170 1h1m34 0h1m32 0h1m29 0h1m26 0h1m22 0h1m21 0h1m-170 1h1m34 0h1m32 0h1m28 0h1m26 0h1m23 0h1m20 0h1m-169 1h1m34 0h1m31 0h1m29 0h1m26 0h1m22 0h1m20 0h1m-168 1h1m34 0h1m31 0h1m29 0h1m25 0h1m23 0h1m20 0h1m-198 8h1m0 1h1m36 0h1m33 0h1m31 0h1m27 0h1m25 0h1m21 0h1m-179 1h1m36 0h1m33 0h1m31 0h1m27 0h1m24 0h1m21 0h1m-178 1h1m36 0h1m33 0h1m30 0h1m28 0h1m24 0h1m21 0h1m-178 1h1m35 0h1m34 0h1m30 0h1m27 0h1m24 0h1m21 0h1m-177 1h1m35 0h1m34 0h1m30 0h1m27 0h1m24 0h1m21 0h1m-141 1h1m34 0h1m30 0h1m26 0h1m24 0h1m21 0h1m-208 8h2m37 0h1m69 0h1m56 0h1m-165 1h1m37 0h1m35 0h1m32 0h1m29 0h1m26 0h1m23 0h1m20 0h1m-209 1h1m37 0h1m35 0h1m32 0h1m29 0h1m26 0h1m22 0h1m20 0h1m-208 1h1m37 0h1m35 0h1m32 0h1m29 0h1m25 0h1m23 0h1m19 0h1m-207 1h1m37 0h1m35 0h1m32 0h1m28 0h1m26 0h1m22 0h1m20 0h1m-169 1h1m35 0h1m32 0h1m28 0h1m25 0h1m22 0h1m20 0h1m-168 1h1m35 0h1m61 0h1m48 0h1m19 0h1m-199 7h1m0 1h1m37 0h1m34 0h1m31 0h1m27 0h1m24 0h1m21 0h1m19 0h1m-200 1h1m37 0h1m34 0h1m30 0h1m28 0h1m24 0h1m21 0h1m18 0h1m-199 1h1m37 0h1m34 0h1m30 0h1m27 0h1m24 0h1m21 0h1m18 0h1m-198 1h1m37 0h1m34 0h1m30 0h1m27 0h1m24 0h1m20 0h1m18 0h1m-197 1h1m37 0h1m33 0h1m31 0h1m27 0h1m23 0h1m21 0h1m18 0h1m-197 1h1m37 0h1m33 0h1m30 0h1m27 0h1m24 0h1m20 0h1m18 0h1m-152 7h1m33 0h1m29 0h1m26 0h1m-168 1h1m39 0h1m35 0h1m33 0h1m29 0h1m26 0h1m22 0h1m20 0h1m17 0h1m-229 1h1m39 0h1m35 0h1m33 0h1m29 0h1m25 0h1m23 0h1m19 0h1m17 0h1m-228 1h1m39 0h1m35 0h1m33 0h1m28 0h1m26 0h1m22 0h1m20 0h1m17 0h1m-228 1h1m39 0h1m35 0h1m32 0h1m29 0h1m25 0h1m23 0h1m19 0h1m17 0h1m-227 1h1m39 0h1m35 0h1m32 0h1m29 0h1m25 0h1m22 0h1m19 0h1m17 0h1m-226 1h1m39 0h1m146 0h1m19 0h1m17 0h1m-259 7h1m79 0h1m67 0h1m94 0h1m-243 1h1m40 0h1m37 0h1m35 0h1m31 0h1m28 0h1m24 0h1m20 0h1m19 0h1m16 0h1m-259 1h1m40 0h1m37 0h1m35 0h1m31 0h1m27 0h1m24 0h1m21 0h1m18 0h1m16 0h1m-258 1h1m40 0h1m37 0h1m35 0h1m31 0h1m27 0h1m23 0h1m21 0h1m18 0h1m16 0h1m-257 1h1m40 0h1m37 0h1m35 0h1m30 0h1m27 0h1m24 0h1m20 0h1m18 0h1m16 0h1m-256 1h1m40 0h1m37 0h1m34 0h1m31 0h1m27 0h1m23 0h1m21 0h1m18 0h1m15 0h1m-214 1h1m72 0h1m58 0h1m24 0h1m20 0h1m35 0h1m-249 7h2m0 1h1m39 0h1m37 0h1m33 0h1m29 0h1m26 0h1m22 0h1m20 0h1m17 0h1m-231 1h1m39 0h1m37 0h1m33 0h1m29 0h1m25 0h1m23 0h1m19 0h1m17 0h1m-230 1h1m39 0h1m37 0h1m32 0h1m29 0h1m26 0h1m22 0h1m19 0h1m17 0h1m-229 1h1m39 0h1m36 0h1m33 0h1m29 0h1m25 0h1m22 0h1m20 0h1m16 0h1m-188 1h1m36 0h1m33 0h1m29 0h1m25 0h1m22 0h1m19 0h1m17 0h1m-188 1h1m36 0h1m33 0h1m28 0h1m25 0h1m22 0h1m19 0h1m17 0h1m-264 6h1m42 0h1m108 0h1m53 0h1m-206 1h1m41 0h1m39 0h1m35 0h1m32 0h1m28 0h1m24 0h1m21 0h1m18 0h1m16 0h1m-263 1h1m41 0h1m39 0h1m35 0h1m32 0h1m27 0h1m24 0h1m21 0h1m18 0h1m16 0h1m-262 1h1m41 0h1m39 0h1m35 0h1m31 0h1m28 0h1m24 0h1m20 0h1m19 0h1m15 0h1m-261 1h1m41 0h1m39 0h1m35 0h1m31 0h1m27 0h1m24 0h1m21 0h1m18 0h1m16 0h1m-261 1h1m41 0h1m39 0h1m35 0h1m31 0h1m27 0h1m24 0h1m20 0h1m18 0h1m16 0h1m-218 1h1m39 0h1m35 0h1m58 0h1m45 0h1m18 0h1m16 0h1m-172 6h1m137 0h1m-219 1h1m41 0h1m37 0h1m34 0h1m30 0h1m26 0h1m23 0h1m20 0h1m17 0h1m15 0h1m-252 1h1m41 0h1m37 0h1m34 0h1m30 0h1m26 0h1m22 0h1m20 0h1m17 0h1m15 0h1m-251 1h1m41 0h1m37 0h1m34 0h1m29 0h1m26 0h1m23 0h1m19 0h1m17 0h1m15 0h1m-250 1h1m41 0h1m37 0h1m34 0h1m29 0h1m26 0h1m22 0h1m20 0h1m16 0h1m15 0h1m-249 1h1m41 0h1m37 0h1m33 0h1m30 0h1m25 0h1m22 0h1m20 0h1m17 0h1m14 0h1m-248 1h1m41 0h1m71 0h1m29 0h1m26 0h1m22 0h1m37 0h1m15 0h1m-286 6h1m122 0h1m-123 1h1m43 0h1m40 0h1m36 0h1m32 0h1m29 0h1m24 0h1m21 0h1m19 0h1m16 0h1m14 0h1m-284 1h1m43 0h1m40 0h1m36 0h1m32 0h1m28 0h1m25 0h1m21 0h1m18 0h1m16 0h1m15 0h1m-284 1h1m43 0h1m40 0h1m36 0h1m32 0h1m28 0h1m24 0h1m21 0h1m18 0h1m16 0h1m15 0h1m-283 1h1m43 0h1m40 0h1m36 0h1m31 0h1m28 0h1m24 0h1m21 0h1m19 0h1m16 0h1m14 0h1m-282 1h1m43 0h1m40 0h1m35 0h1m32 0h1m28 0h1m24 0h1m21 0h1m18 0h1m16 0h1m14 0h1m-237 1h1m39 0h1m69 0h1m27 0h1m24 0h1m21 0h1m18 0h1m16 0h1m14 0h1m-273 7h1m42 0h1m39 0h1m35 0h1m31 0h1m26 0h1m23 0h1m20 0h1m18 0h1m15 0h1m13 0h1m-272 1h1m42 0h1m39 0h1m35 0h1m30 0h1m27 0h1m23 0h1m20 0h1m17 0h1m15 0h1m13 0h1m-271 1h1m42 0h1m39 0h1m34 0h1m31 0h1m26 0h1m23 0h1m20 0h1m17 0h1m15 0h1m14 0h1m-271 1h1m42 0h1m39 0h1m34 0h1m30 0h1m27 0h1m22 0h1m20 0h1m17 0h1m15 0h1m14 0h1m-270 1h1m42 0h1m39 0h1m34 0h1m30 0h1m26 0h1m23 0h1m19 0h1m17 0h1m15 0h1m14 0h1m-269 1h1m42 0h1m39 0h1m34 0h1m30 0h1m26 0h1m22 0h1m20 0h1m17 0h1m15 0h1m13 0h1m-308 6h1m44 0h2m171 0h1m-218 1h1m45 0h1m41 0h1m38 0h1m33 0h1m29 0h1m25 0h1m22 0h1m18 0h1m17 0h1m14 0h1m13 0h1m-306 1h2m44 0h1m41 0h1m38 0h1m33 0h1m28 0h1m25 0h1m22 0h1m19 0h1m16 0h1m14 0h1m13 0h1m-304 1h1m44 0h1m41 0h1m37 0h1m33 0h1m29 0h1m25 0h1m21 0h1m19 0h1m16 0h1m15 0h1m12 0h1m-303 1h1m44 0h1m41 0h1m37 0h1m33 0h1m29 0h1m24 0h1m22 0h1m18 0h1m16 0h1m15 0h1m12 0h1m-215 1h1m37 0h1m33 0h1m28 0h1m25 0h1m21 0h1m18 0h1m16 0h1m15 0h1m12 0h1m-214 1h1m37 0h1m32 0h1m29 0h1m46 0h1m19 0h1m16 0h1m14 0h1m12 0h1m-295 6h2m43 0h1m41 0h1m36 0h1m32 0h1m27 0h1m24 0h1m20 0h1m18 0h1m16 0h1m13 0h1m13 0h1m-294 1h1m43 0h2m40 0h1m36 0h1m31 0h1m27 0h1m24 0h1m20 0h1m18 0h1m16 0h1m13 0h1m13 0h1m-293 1h1m44 0h1m40 0h1m36 0h1m31 0h1m27 0h1m23 0h1m21 0h1m17 0h1m16 0h1m13 0h1m13 0h1m-292 1h1m44 0h1m40 0h1m35 0h1m31 0h1m27 0h1m24 0h1m20 0h1m18 0h1m15 0h1m13 0h1m13 0h1m-291 1h1m44 0h1m40 0h1m35 0h1m31 0h1m27 0h1m23 0h1m20 0h1m18 0h1m15 0h1m14 0h1m12 0h1m-205 1h1m36 0h1m31 0h1m26 0h1m24 0h1m20 0h1m17 0h1m15 0h1m14 0h1m12 0h1m-332 5h1m0 1h1m47 0h1m43 0h1m39 0h1m34 0h1m30 0h1m26 0h1m23 0h1m19 0h1m17 0h1m15 0h1m13 0h1m12 0h1m-330 1h1m47 0h1m43 0h1m39 0h1m34 0h1m30 0h1m26 0h1m22 0h1m19 0h1m17 0h1m15 0h1m13 0h1m12 0h1m-329 1h2m46 0h1m43 0h1m39 0h1m34 0h1m30 0h1m25 0h1m22 0h1m20 0h1m16 0h1m15 0h1m13 0h1m12 0h1m-327 1h1m46 0h1m43 0h1m38 0h1m35 0h1m29 0h1m26 0h1m22 0h1m19 0h1m17 0h1m14 0h1m13 0h1m12 0h1m-279 1h1m43 0h1m38 0h1m34 0h1m30 0h1m25 0h1m22 0h1m19 0h1m17 0h1m14 0h1m13 0h1m12 0h1m-278 1h1m43 0h1m38 0h1m34 0h1m29 0h1m26 0h1m21 0h1m19 0h1m17 0h1m14 0h1m13 0h1m12 0h1m-319 6h2m45 0h1m43 0h1m37 0h1m33 0h1m29 0h1m24 0h1m21 0h1m19 0h1m16 0h1m14 0h1m12 0h1m12 0h1m-317 1h1m45 0h1m43 0h1m37 0h1m33 0h1m28 0h1m25 0h1m21 0h1m18 0h1m16 0h1m14 0h1m12 0h1m12 0h1m-316 1h1m45 0h2m41 0h1m38 0h1m32 0h1m29 0h1m24 0h1m21 0h1m18 0h1m16 0h1m14 0h1m12 0h1m12 0h1m-315 1h1m46 0h1m41 0h1m38 0h1m32 0h1m28 0h1m24 0h1m21 0h1m18 0h1m16 0h1m14 0h1m13 0h1m11 0h1m-314 1h1m46 0h1m41 0h1m37 0h1m33 0h1m28 0h1m24 0h1m21 0h1m18 0h1m15 0h1m14 0h1m13 0h1m11 0h1m-224 1h1m37 0h1m32 0h1m28 0h1m24 0h1m21 0h1m18 0h1m15 0h1m14 0h1m13 0h1m11 0h1m-357 5h1m48 0h2m157 0h1m-208 1h2m48 0h1m45 0h1m41 0h1m36 0h1m31 0h1m27 0h1m23 0h1m20 0h1m18 0h1m15 0h1m14 0h1m12 0h1m10 0h1m-353 1h1m48 0h1m45 0h1m41 0h1m36 0h1m31 0h1m27 0h1m23 0h1m20 0h1m17 0h1m15 0h1m14 0h1m12 0h1m10 0h1m-352 1h1m48 0h1m45 0h1m41 0h1m35 0h1m31 0h1m27 0h1m23 0h1m20 0h1m17 0h1m15 0h1m14 0h1m12 0h1m10 0h1m-351 1h1m48 0h1m45 0h1m40 0h1m36 0h1m31 0h1m27 0h1m22 0h1m20 0h1m17 0h1m16 0h1m13 0h1m12 0h1m10 0h1m-255 1h1m40 0h1m36 0h1m31 0h1m26 0h1m23 0h1m19 0h1m18 0h1m15 0h1m13 0h1m12 0h1m10 0h1m-254 1h1m40 0h1m36 0h1m58 0h1m22 0h1m20 0h1m17 0h1m15 0h1m13 0h1m12 0h1m10 0h1m-54 4h1m-290 1h1m48 0h1m44 0h1m40 0h1m34 0h1m30 0h1m26 0h1m22 0h1m19 0h1m17 0h1m14 0h1m13 0h1m12 0h1m10 0h1m-342 1h1m48 0h1m44 0h1m39 0h1m35 0h1m30 0h1m25 0h1m22 0h1m19 0h1m17 0h1m14 0h1m13 0h1m12 0h1m10 0h1m-341 1h1m48 0h1m44 0h1m39 0h1m35 0h1m29 0h1m26 0h1m21 0h1m19 0h1m17 0h1m14 0h1m13 0h1m12 0h1m10 0h1m-340 1h1m48 0h1m44 0h1m39 0h1m34 0h1m30 0h1m25 0h1m22 0h1m19 0h1m16 0h1m15 0h1m12 0h1m12 0h1m10 0h1m-339 1h1m48 0h1m44 0h1m39 0h1m34 0h1m29 0h1m25 0h1m22 0h1m19 0h1m16 0h1m15 0h1m12 0h1m12 0h1m10 0h1m-338 1h1m48 0h1m44 0h1m39 0h1m34 0h1m29 0h1m25 0h1m21 0h1m19 0h1m32 0h1m12 0h1m12 0h1m10 0h1m-284 5h2m43 0h1m-93 1h1m48 0h1m43 0h1m38 0h1m33 0h1m28 0h1m24 0h1m21 0h1m18 0h1m16 0h1m14 0h1m13 0h1m11 0h1m10 0h1m-330 1h1m48 0h1m43 0h1m37 0h1m33 0h1m28 0h1m25 0h1m20 0h1m19 0h1m15 0h1m14 0h1m13 0h1m11 0h1m10 0h1m-329 1h2m47 0h1m42 0h1m38 0h1m33 0h1m28 0h1m24 0h1m21 0h1m18 0h1m15 0h1m14 0h1m13 0h1m11 0h1m10 0h1m-327 1h1m47 0h1m42 0h1m38 0h1m32 0h1m28 0h1m24 0h1m21 0h1m18 0h1m16 0h1m13 0h1m13 0h1m11 0h1m10 0h1m-326 1h1m90 0h1m38 0h1m32 0h1m28 0h1m24 0h1m20 0h1m18 0h1m16 0h1m13 0h1m13 0h1m11 0h1m9 0h1m-194 1h1m32 0h1m27 0h1m24 0h1m21 0h1m17 0h1m16 0h1m14 0h1m12 0h1m11 0h1m9 0h1m-371 4h1m179 0h1m84 0h1m-265 1h1m50 0h2m46 0h1m42 0h1m36 0h1m32 0h1m27 0h1m23 0h1m20 0h1m17 0h1m15 0h1m14 0h1m12 0h1m10 0h1m10 0h1m-369 1h2m50 0h1m46 0h1m42 0h1m36 0h1m31 0h1m27 0h1m23 0h1m20 0h1m17 0h1m15 0h1m14 0h1m12 0h1m10 0h1m10 0h1m-367 1h1m50 0h1m46 0h1m42 0h1m36 0h1m31 0h1m27 0h1m23 0h1m19 0h1m18 0h1m15 0h1m13 0h1m12 0h1m10 0h1m10 0h1m-366 1h1m50 0h1m46 0h1m41 0h1m36 0h1m31 0h1m27 0h1m23 0h1m20 0h1m17 0h1m15 0h1m13 0h1m12 0h1m10 0h1m10 0h1m-314 1h1m46 0h1m41 0h1m36 0h1m31 0h1m26 0h1m23 0h1m20 0h1m17 0h1m15 0h1m13 0h1m12 0h1m10 0h1m10 0h1m-266 1h1m41 0h1m68 0h1m26 0h1m43 0h1m17 0h1m15 0h1m13 0h1m12 0h1m10 0h1m10 0h1m8 0h1m-317 4h1m87 0h1m-139 1h1m50 0h1m45 0h1m40 0h1m35 0h1m30 0h1m26 0h1m22 0h1m19 0h1m17 0h1m14 0h1m13 0h1m12 0h1m10 0h1m10 0h1m8 0h1m-366 1h1m50 0h1m45 0h1m40 0h1m35 0h1m30 0h1m25 0h1m22 0h1m19 0h1m17 0h1m14 0h1m13 0h1m12 0h1m10 0h1m9 0h1m9 0h1m-365 1h1m50 0h1m45 0h1m40 0h1m35 0h1m29 0h1m26 0h1m22 0h1m19 0h1m16 0h1m15 0h1m12 0h1m12 0h1m10 0h1m9 0h1m9 0h1m-364 1h1m50 0h1m45 0h1m40 0h1m34 0h1m30 0h1m25 0h1m22 0h1m19 0h1m16 0h1m15 0h1m12 0h1m12 0h1m10 0h1m9 0h1m9 0h1m-363 1h1m50 0h1m45 0h1m40 0h1m34 0h1m29 0h1m26 0h1m21 0h1m19 0h1m16 0h1m15 0h1m12 0h1m12 0h1m10 0h1m9 0h1m9 0h1m-362 1h1m96 0h1m75 0h1m29 0h1m25 0h1m22 0h1m18 0h1m16 0h1m15 0h1m12 0h1m12 0h1m10 0h1m9 0h1m9 0h1m-411 4h2m148 0h1m-149 1h1m52 0h1m49 0h1m45 0h1m38 0h1m34 0h1m28 0h1m25 0h1m21 0h1m18 0h1m16 0h1m14 0h1m13 0h1m11 0h1m10 0h1m9 0h1m8 0h1m-407 1h1m52 0h1m49 0h1m45 0h1m38 0h1m34 0h1m28 0h1m24 0h1m21 0h1m18 0h1m16 0h1m14 0h1m13 0h1m11 0h1m10 0h1m9 0h1m8 0h1m-406 1h1m52 0h2m48 0h1m44 0h1m39 0h1m33 0h1m28 0h1m25 0h1m21 0h1m18 0h1m15 0h1m14 0h1m13 0h1m11 0h1m10 0h1m9 0h1m8 0h1m-405 1h1m53 0h1m48 0h2m43 0h1m39 0h1m33 0h1m28 0h1m24 0h1m21 0h1m18 0h1m16 0h1m13 0h1m13 0h1m11 0h1m10 0h1m9 0h1m8 0h1m-350 1h1m49 0h1m43 0h1m38 0h1m33 0h1m28 0h1m24 0h1m21 0h1m18 0h1m16 0h1m13 0h1m13 0h1m11 0h1m10 0h1m9 0h1m8 0h1m-216 1h1m33 0h1m28 0h1m24 0h1m20 0h1m18 0h1m16 0h1m14 0h1m12 0h1m11 0h1m10 0h1m8 0h1m9 0h1m-344 4h1m47 0h2m43 0h1m99 0h1m-247 1h1m53 0h1m48 0h1m43 0h1m37 0h1m32 0h1m27 0h1m23 0h1m21 0h1m17 0h1m15 0h1m14 0h1m12 0h1m11 0h1m9 0h1m9 0h1m8 0h1m-395 1h2m52 0h1m48 0h1m43 0h1m37 0h1m31 0h1m28 0h1m23 0h1m20 0h1m17 0h1m15 0h1m14 0h1m12 0h1m11 0h1m9 0h1m9 0h1m8 0h1m-393 1h1m52 0h1m48 0h1m42 0h1m37 0h1m32 0h1m27 0h1m23 0h1m20 0h1m17 0h1m16 0h1m13 0h1m12 0h1m11 0h1m9 0h1m9 0h1m8 0h1m-392 1h1m52 0h1m48 0h1m42 0h1m37 0h1m32 0h1m26 0h1m23 0h1m20 0h1m18 0h1m15 0h1m13 0h1m12 0h1m11 0h1m9 0h1m9 0h1m8 0h1m-391 1h1m52 0h1m91 0h1m37 0h1m31 0h1m27 0h1m23 0h1m19 0h1m18 0h1m15 0h1m13 0h1m12 0h1m11 0h1m9 0h1m9 0h1m8 0h1m-208 1h1m32 0h1m50 0h1m20 0h1m17 0h1m15 0h1m13 0h1m12 0h1m11 0h1m9 0h1m9 0h1m8 0h1m-385 4h1m52 0h1m47 0h1m41 0h1m36 0h1m31 0h1m26 0h1m22 0h1m20 0h1m16 0h1m15 0h1m13 0h1m12 0h1m10 0h1m10 0h1m8 0h1m8 0h1m-383 1h1m52 0h1m47 0h1m41 0h1m36 0h1m30 0h1m26 0h1m23 0h1m19 0h1m17 0h1m14 0h1m13 0h1m12 0h1m10 0h1m10 0h1m8 0h1m8 0h1m-382 1h1m52 0h1m47 0h1m41 0h1m36 0h1m30 0h1m26 0h1m22 0h1m19 0h1m17 0h1m14 0h1m13 0h1m12 0h1m10 0h1m10 0h1m8 0h1m8 0h1m-381 1h1m52 0h1m47 0h1m41 0h1m35 0h1m30 0h1m26 0h1m22 0h1m19 0h1m17 0h1m14 0h1m13 0h1m12 0h1m10 0h1m10 0h1m8 0h1m8 0h1m-380 1h2m51 0h1m47 0h1m41 0h1m35 0h1m30 0h1m26 0h1m21 0h1m19 0h1m17 0h1m15 0h1m12 0h1m12 0h1m10 0h1m10 0h1m8 0h1m8 0h1m-326 1h1m47 0h1m40 0h1m36 0h1m29 0h1m26 0h1m22 0h1m19 0h1m16 0h1m15 0h1m12 0h1m12 0h1m10 0h1m10 0h1m8 0h1m8 0h1m-430 4h1m108 0h1m46 0h1m40 0h1m-197 1h2m54 0h2m51 0h1m45 0h1m40 0h1m35 0h1m29 0h1m25 0h1m21 0h1m19 0h1m16 0h1m14 0h1m13 0h1m11 0h1m10 0h1m9 0h1m9 0h1m7 0h1m-426 1h1m55 0h1m51 0h1m45 0h1m40 0h1m34 0h1m29 0h1m25 0h1m21 0h1m19 0h1m16 0h1m14 0h1m13 0h1m11 0h1m10 0h1m9 0h1m8 0h1m8 0h1m-425 1h1m55 0h1m51 0h1m45 0h1m40 0h1m34 0h1m29 0h1m25 0h1m21 0h1m18 0h1m16 0h1m14 0h1m13 0h1m11 0h1m10 0h1m9 0h1m8 0h1m8 0h1m-424 1h1m55 0h1m51 0h1m45 0h1m40 0h1m34 0h1m28 0h1m25 0h1m21 0h1m18 0h1m16 0h1m14 0h1m13 0h1m11 0h1m10 0h1m9 0h1m8 0h1m8 0h1m-367 1h1m51 0h1m45 0h1m39 0h1m34 0h1m29 0h1m24 0h1m21 0h1m18 0h1m16 0h1m14 0h1m13 0h1m11 0h1m10 0h1m9 0h1m8 0h1m8 0h1m-193 1h1m28 0h1m25 0h1m20 0h1m19 0h1m15 0h1m14 0h1m13 0h1m11 0h1m10 0h1m9 0h1m8 0h1m8 0h1m-225 3h1m-193 1h1m55 0h1m50 0h1m45 0h1m38 0h1m33 0h1m28 0h1m24 0h1m21 0h1m17 0h1m16 0h1m14 0h1m12 0h1m11 0h1m10 0h1m9 0h1m8 0h1m7 0h1m-415 1h1m55 0h1m50 0h1m45 0h1m38 0h1m33 0h1m28 0h1m23 0h1m21 0h1m17 0h1m16 0h1m14 0h1m12 0h1m11 0h1m10 0h1m9 0h1m8 0h1m7 0h1m-414 1h2m54 0h1m50 0h1m44 0h1m39 0h1m32 0h1m28 0h1m24 0h1m20 0h1m18 0h1m15 0h1m14 0h1m12 0h1m11 0h1m10 0h1m9 0h1m8 0h1m7 0h1m-412 1h1m54 0h1m50 0h1m44 0h1m38 0h1m33 0h1m27 0h1m24 0h1m20 0h1m18 0h1m15 0h1m14 0h1m12 0h1m11 0h1m10 0h1m8 0h1m9 0h1m7 0h1m-411 1h1m54 0h1m50 0h1m44 0h1m38 0h1m32 0h1m28 0h1m23 0h1m20 0h1m18 0h1m15 0h1m14 0h1m12 0h1m11 0h1m10 0h1m8 0h1m8 0h1m8 0h1m-355 1h1m50 0h1m44 0h1m71 0h1m27 0h1m24 0h1m20 0h1m17 0h1m15 0h1m14 0h1m12 0h1m11 0h1m10 0h1m8 0h1m8 0h1m8 0h1m-405 4h1m54 0h1m49 0h1m43 0h1m38 0h1m31 0h1m27 0h1m23 0h1m20 0h1m17 0h1m15 0h1m13 0h1m12 0h1m11 0h1m9 0h1m9 0h1m8 0h1m7 0h1m-403 1h1m54 0h1m49 0h1m43 0h1m37 0h1m32 0h1m26 0h1m23 0h1m20 0h1m17 0h1m15 0h1m13 0h1m12 0h1m11 0h1m9 0h1m9 0h1m8 0h1m7 0h1m-402 1h1m54 0h1m49 0h1m43 0h1m37 0h1m31 0h1m27 0h1m22 0h1m20 0h1m17 0h1m15 0h1m13 0h1m12 0h1m11 0h1m9 0h1m9 0h1m8 0h1m7 0h1m-401 1h1m54 0h1m49 0h1m43 0h1m37 0h1m31 0h1m26 0h1m23 0h1m19 0h1m17 0h1m15 0h1m13 0h1m12 0h1m11 0h1m9 0h1m9 0h1m8 0h1m7 0h1m-400 1h2m53 0h2m48 0h1m43 0h1m36 0h1m31 0h1m27 0h1m22 0h1m19 0h1m17 0h1m15 0h1m13 0h1m12 0h1m11 0h1m9 0h1m9 0h1m8 0h1m7 0h1m-294 1h1m43 0h1m36 0h1m31 0h1m26 0h1m22 0h1m20 0h1m17 0h1m14 0h1m13 0h1m12 0h1m11 0h1m9 0h1m9 0h1m7 0h1m8 0h1m-453 3h1m0 1h1m57 0h1m54 0h1m48 0h1m42 0h1m35 0h1m31 0h1m25 0h1m23 0h1m19 0h1m16 0h1m15 0h1m13 0h1m11 0h1m11 0h1m9 0h1m8 0h1m8 0h1m7 0h1m-450 1h1m57 0h2m53 0h1m48 0h1m42 0h1m35 0h1m30 0h1m26 0h1m22 0h1m19 0h1m16 0h1m15 0h1m13 0h1m11 0h1m10 0h1m10 0h1m8 0h1m8 0h1m7 0h1m-449 1h1m58 0h1m53 0h1m48 0h1m41 0h1m36 0h1m30 0h1m25 0h1m22 0h1m19 0h1m16 0h1m15 0h1m13 0h1m11 0h1m10 0h1m10 0h1m8 0h1m8 0h1m7 0h1m6 0h1m-455 1h1m58 0h1m53 0h1m48 0h1m41 0h1m35 0h1m30 0h1m26 0h1m21 0h1m19 0h1m17 0h1m14 0h1m13 0h1m11 0h1m10 0h1m10 0h1m8 0h1m8 0h1m7 0h1m6 0h1m-454 1h1m58 0h1m53 0h1m48 0h1m41 0h1m35 0h1m30 0h1m25 0h1m22 0h1m18 0h1m17 0h1m14 0h1m13 0h1m11 0h1m10 0h1m10 0h1m8 0h1m8 0h1m7 0h1m6 0h1m-340 1h1m48 0h1m41 0h1m35 0h1m29 0h1m25 0h1m22 0h1m19 0h1m16 0h1m14 0h1m13 0h1m11 0h1m10 0h1m10 0h1m8 0h1m8 0h1m7 0h1m6 0h1m-448 4h2m57 0h1m53 0h1m46 0h1m41 0h1m34 0h1m29 0h1m25 0h1m21 0h1m18 0h1m16 0h1m14 0h1m13 0h1m11 0h1m10 0h1m9 0h1m9 0h1m7 0h1m7 0h1m7 0h1m-446 1h1m57 0h1m53 0h1m46 0h1m40 0h1m35 0h1m28 0h1m25 0h1m21 0h1m18 0h1m16 0h1m14 0h1m13 0h1m11 0h1m10 0h1m9 0h1m9 0h1m7 0h1m7 0h1m6 0h1m-444 1h1m57 0h1m53 0h1m46 0h1m40 0h1m34 0h1m29 0h1m24 0h1m21 0h1m19 0h1m16 0h1m14 0h1m12 0h1m11 0h1m10 0h1m9 0h1m9 0h1m7 0h1m7 0h1m6 0h1m-443 1h1m57 0h2m52 0h1m46 0h1m40 0h1m34 0h1m28 0h1m25 0h1m21 0h1m18 0h1m16 0h1m14 0h1m12 0h1m11 0h1m10 0h1m9 0h1m8 0h1m8 0h1m7 0h1m6 0h1m-442 1h1m58 0h1m52 0h1m46 0h1m40 0h1m33 0h1m29 0h1m24 0h1m21 0h1m18 0h1m16 0h1m14 0h1m12 0h1m11 0h1m10 0h1m9 0h1m8 0h1m8 0h1m7 0h1m6 0h1m-329 1h1m46 0h1m39 0h1m34 0h1m28 0h1m24 0h1m21 0h1m18 0h1m16 0h1m14 0h1m12 0h1m11 0h1m10 0h1m9 0h1m8 0h1m8 0h1m7 0h1m6 0h1m-279 3h1m39 0h1m-198 1h1m57 0h1m52 0h1m45 0h1m39 0h1m33 0h1m28 0h1m24 0h1m20 0h1m18 0h1m15 0h1m14 0h1m12 0h1m11 0h1m10 0h1m9 0h1m8 0h1m7 0h1m7 0h1m6 0h1m-434 1h2m56 0h2m51 0h1m45 0h1m39 0h1m33 0h1m27 0h1m24 0h1m20 0h1m18 0h1m15 0h1m14 0h1m12 0h1m11 0h1m10 0h1m9 0h1m8 0h1m7 0h1m7 0h1m6 0h1m-432 1h1m57 0h1m51 0h1m45 0h1m39 0h1m32 0h1m28 0h1m23 0h1m21 0h1m17 0h1m16 0h1m13 0h1m12 0h1m11 0h1m10 0h1m9 0h1m8 0h1m7 0h1m7 0h1m6 0h1m-431 1h1m57 0h1m51 0h1m45 0h1m38 0h1m33 0h1m27 0h1m24 0h1m20 0h1m17 0h1m16 0h1m13 0h1m12 0h1m11 0h1m10 0h1m9 0h1m8 0h1m7 0h1m7 0h1m6 0h1m-430 1h1m57 0h1m51 0h1m45 0h1m38 0h1m32 0h1m28 0h1m23 0h1m20 0h1m17 0h1m16 0h1m13 0h1m12 0h1m11 0h1m10 0h1m9 0h1m8 0h1m7 0h1m7 0h1m6 0h1m-319 1h1m117 0h1m27 0h1m23 0h1m20 0h1m18 0h1m15 0h1m13 0h1m12 0h1m11 0h1m10 0h1m9 0h1m8 0h1m7 0h1m7 0h1m6 0h1m-426 3h2m57 0h1m134 0h1m153 0h1m75 0h1m-423 1h1m57 0h1m50 0h1m44 0h1m37 0h1m32 0h1m27 0h1m22 0h1m20 0h1m17 0h1m15 0h1m14 0h1m11 0h1m11 0h1m10 0h1m8 0h1m8 0h1m8 0h1m6 0h1m6 0h1m-422 1h2m56 0h1m50 0h1m44 0h1m37 0h1m31 0h1m27 0h1m23 0h1m19 0h1m17 0h1m15 0h1m14 0h1m11 0h1m11 0h1m10 0h1m8 0h1m8 0h1m7 0h1m7 0h1m6 0h1m-420 1h1m56 0h1m50 0h1m44 0h1m37 0h1m31 0h1m26 0h1m23 0h1m20 0h1m17 0h1m14 0h1m14 0h1m11 0h1m11 0h1m10 0h1m8 0h1m8 0h1m7 0h1m7 0h1m6 0h1m-362 1h1m50 0h1m43 0h1m37 0h1m31 0h1m27 0h1m22 0h1m20 0h1m17 0h1m15 0h1m13 0h1m11 0h1m11 0h1m10 0h1m8 0h1m8 0h1m7 0h1m7 0h1m6 0h1m-361 1h1m50 0h1m43 0h1m37 0h1m31 0h1m26 0h1m23 0h1m19 0h1m17 0h1m15 0h1m13 0h1m11 0h1m11 0h1m9 0h1m9 0h1m8 0h1m7 0h1m7 0h1m6 0h1m-309 1h1m43 0h1m68 0h1m27 0h1m22 0h1m19 0h1m17 0h1m15 0h1m25 0h1m11 0h1m9 0h1m9 0h1m8 0h1m7 0h1m7 0h1m-469 2h1m331 0h1m-332 1h1m61 0h1m55 0h2m49 0h1m42 0h1m36 0h1m31 0h1m26 0h1m22 0h1m19 0h1m16 0h1m15 0h1m13 0h1m12 0h1m10 0h1m9 0h1m9 0h1m8 0h1m7 0h1m6 0h1m6 0h1m-473 1h2m60 0h1m56 0h1m49 0h1m42 0h1m36 0h1m30 0h1m26 0h1m22 0h1m19 0h1m17 0h1m14 0h1m13 0h1m12 0h1m10 0h1m9 0h1m9 0h1m8 0h1m7 0h1m6 0h1m6 0h1m-471 1h1m60 0h1m56 0h1m49 0h1m42 0h1m36 0h1m30 0h1m25 0h1m22 0h1m19 0h1m17 0h1m14 0h1m13 0h1m12 0h1m10 0h1m9 0h1m9 0h1m7 0h1m8 0h1m6 0h1m6 0h1m-470 1h1m60 0h1m56 0h1m49 0h1m42 0h1m35 0h1m30 0h1m26 0h1m22 0h1m18 0h1m17 0h1m14 0h1m13 0h1m12 0h1m10 0h1m9 0h1m9 0h1m7 0h1m7 0h1m7 0h1m6 0h1m-408 1h2m55 0h1m49 0h1m41 0h1m36 0h1m30 0h1m25 0h1m22 0h1m19 0h1m16 0h1m14 0h1m13 0h1m12 0h1m10 0h1m9 0h1m9 0h1m7 0h1m7 0h1m7 0h1m6 0h1m-301 1h1m42 0h1m35 0h1m30 0h1m25 0h1m42 0h1m16 0h1m14 0h1m13 0h1m12 0h1m10 0h1m9 0h1m9 0h1m7 0h1m7 0h1m7 0h1m6 0h1m-189 3h1m-275 1h1m60 0h2m54 0h1m48 0h1m41 0h1m35 0h1m29 0h1m25 0h1m21 0h1m18 0h1m17 0h1m14 0h1m12 0h1m12 0h1m10 0h1m9 0h1m8 0h1m8 0h1m7 0h1m6 0h1m6 0h1m-461 1h2m60 0h1m54 0h1m48 0h1m41 0h1m34 0h1m29 0h1m25 0h1m21 0h1m19 0h1m16 0h1m14 0h1m12 0h1m12 0h1m10 0h1m9 0h1m8 0h1m8 0h1m7 0h1m6 0h1m6 0h1m-459 1h1m60 0h1m54 0h1m48 0h1m41 0h1m34 0h1m29 0h1m24 0h1m22 0h1m18 0h1m16 0h1m14 0h1m12 0h1m12 0h1m10 0h1m9 0h1m8 0h1m8 0h1m7 0h1m6 0h1m6 0h1m-458 1h1m60 0h1m54 0h1m48 0h1m40 0h1m34 0h1m29 0h1m25 0h1m21 0h1m18 0h1m16 0h1m14 0h1m12 0h1m12 0h1m10 0h1m9 0h1m8 0h1m8 0h1m7 0h1m6 0h1m6 0h1m-457 1h1m60 0h1m54 0h1m48 0h1m40 0h1m34 0h1m29 0h1m24 0h1m21 0h1m18 0h1m16 0h1m14 0h1m13 0h1m11 0h1m10 0h1m9 0h1m8 0h1m8 0h1m7 0h1m6 0h1m6 0h1m-340 1h1m48 0h1m40 0h1m34 0h1m53 0h1m21 0h1m18 0h1m16 0h1m14 0h1m13 0h1m11 0h1m10 0h1m9 0h1m8 0h1m8 0h1m6 0h1m7 0h1m6 0h1"/>
<path stroke="#5c1c9e" d="M529 74.5h1m36 0h1m52 0h1m-92 1h1m37 0h1m-40 1h1m37 0h1m-2 1h1m-2 1h1m-2 1h1m94 1h1m-2 1h1m26 0h1m-72 1h1m43 0h1m25 0h1m-72 1h1m43 0h1m25 0h1m-162 1h1m90 0h1m42 0h1m26 0h1m-163 1h1m90 0h1m42 0h1m26 0h1m-163 1h1m90 0h1m42 0h1m26 0h1m-163 1h1m37 0h1m52 0h1m69 0h1m-163 1h1m37 0h1m52 0h1m-93 1h1m37 0h1m-40 1h1m37 0h1m-2 1h1m-2 1h1m-2 1h1m95 1h1m-2 1h1m26 0h1m19 0h1m-92 1h1m43 0h1m25 0h1m19 0h1m-92 1h1m43 0h1m26 0h1m18 0h1m-183 1h1m90 0h1m43 0h1m26 0h1m18 0h1m-183 1h1m90 0h1m43 0h1m26 0h1m19 0h1m-184 1h1m91 0h1m42 0h1m26 0h1m19 0h1m-184 1h1m37 0h1m53 0h1m69 0h1m19 0h1m-184 1h1m37 0h1m53 0h1m-94 1h1m37 0h1m-39 1h1m36 0h1m-2 1h1m-1 1h1m-2 1h1m95 1h1m-1 1h1m26 0h1m18 0h1m-92 1h1m43 0h1m26 0h1m18 0h1m-92 1h1m43 0h1m26 0h1m19 0h1m-185 1h1m91 0h1m43 0h1m26 0h1m19 0h1m-185 1h1m91 0h1m43 0h1m26 0h1m19 0h1m-185 1h1m91 0h1m70 0h1m19 0h1m-185 1h2m36 0h2m53 0h1m-95 1h1m38 0h1m-2 1h1m-2 1h1m-2 1h1m96 1h1m-2 1h1m26 0h1m19 0h1m-93 1h1m44 0h1m26 0h1m19 0h1m-93 1h1m43 0h1m26 0h1m19 0h1m-186 1h1m92 0h1m43 0h1m26 0h1m19 0h1m28 0h1m-215 1h1m92 0h1m43 0h1m26 0h1m19 0h1m28 0h1m-215 1h1m92 0h1m43 0h1m26 0h1m19 0h1m28 0h1m-215 1h1m38 0h1m53 0h1m70 0h1m19 0h1m29 0h1m-216 1h1m38 0h1m53 0h1m120 0h1m-215 1h1m37 0h1m174 0h1m-215 1h1m37 0h1m174 0h1m-177 1h1m-2 1h1m-2 1h1m97 1h1m-2 1h1m27 0h1m19 0h1m-94 1h1m44 0h1m26 0h1m19 0h1m-94 1h1m44 0h1m26 0h1m19 0h1m-187 1h1m92 0h1m44 0h1m26 0h1m19 0h1m29 0h1m-217 1h1m93 0h1m43 0h1m27 0h1m19 0h1m28 0h1m-216 1h1m92 0h1m71 0h1m19 0h1m28 0h1m-216 1h1m37 0h1m54 0h1m120 0h1m-216 1h1m37 0h1m175 0h1m-216 1h1m37 0h1m176 0h1m-179 1h1m-1 1h1m-2 1h1m97 1h1m-2 1h2m26 0h1m19 0h1m-94 1h1m44 0h1m26 0h1m19 0h1m-94 1h1m44 0h1m26 0h1m20 0h1m-189 1h1m93 0h1m44 0h1m27 0h1m19 0h1m28 0h1m21 0h1m-239 1h1m92 0h1m44 0h1m27 0h1m19 0h1m28 0h1m21 0h1m-239 1h1m92 0h1m72 0h1m19 0h1m29 0h1m20 0h1m-239 1h1m38 0h1m54 0h1m71 0h1m19 0h1m29 0h1m20 0h1m-239 1h1m38 0h1m54 0h1m121 0h1m21 0h1m-240 1h1m38 0h1m176 0h1m-218 1h1m38 0h1m176 0h1m-179 1h1m-2 1h1m-2 1h1m99 0h1m-1 1h1m-2 1h1m26 0h1m20 0h1m-95 1h1m44 0h1m27 0h1m19 0h1m50 0h1m-146 1h1m44 0h1m27 0h1m19 0h1m51 0h1m-241 1h1m93 0h1m44 0h1m27 0h1m19 0h1m29 0h1m21 0h1m-241 1h1m93 0h1m44 0h1m27 0h1m20 0h1m28 0h1m21 0h1m-241 1h1m93 0h1m72 0h1m20 0h1m28 0h1m21 0h1m-241 1h1m38 0h1m55 0h1m71 0h1m20 0h1m29 0h1m20 0h1m-241 1h1m38 0h1m55 0h1m122 0h1m21 0h1m-242 1h1m38 0h1m178 0h1m-220 1h1m38 0h1m178 0h1m-181 1h1m-1 1h1m-2 1h1m100 0h1m-2 1h1m-2 1h1m27 0h1m19 0h1m-95 1h1m44 0h1m27 0h1m20 0h1m50 0h1m-147 1h1m44 0h1m27 0h1m20 0h1m51 0h1m-243 1h1m94 0h1m44 0h1m27 0h1m20 0h1m29 0h1m21 0h1m-243 1h1m94 0h1m73 0h1m19 0h1m29 0h1m21 0h1m-243 1h1m94 0h1m73 0h1m19 0h1m29 0h1m21 0h1m-243 1h1m39 0h1m54 0h1m123 0h1m21 0h1m-243 1h1m39 0h1m179 0h1m-222 1h1m39 0h1m179 0h1m-182 1h1m-2 1h1m-2 1h1m101 0h1m-2 1h1m-2 1h1m27 0h1m20 0h1m-96 1h1m44 0h1m27 0h1m20 0h1m51 0h1m-148 1h1m44 0h1m28 0h1m19 0h1m51 0h1m-244 1h1m95 0h1m45 0h1m27 0h1m19 0h1m30 0h1m21 0h1m31 0h1m-277 1h1m95 0h1m45 0h1m27 0h1m20 0h1m29 0h1m21 0h1m31 0h1m-277 1h1m95 0h1m73 0h1m20 0h1m29 0h1m21 0h1m31 0h1m-277 1h1m39 0h1m55 0h1m73 0h1m20 0h1m29 0h1m21 0h1m32 0h1m-277 1h1m38 0h1m55 0h1m124 0h1m22 0h1m31 0h1m-277 1h1m38 0h1m181 0h1m53 0h1m-277 1h1m38 0h1m181 0h1m-184 1h1m-2 1h2m100 1h1m-2 1h1m-2 1h1m28 0h1m20 0h1m-97 1h1m45 0h1m27 0h1m20 0h1m51 0h1m-149 1h1m45 0h1m27 0h1m20 0h1m52 0h1m31 0h1m-278 1h1m95 0h1m45 0h1m27 0h1m20 0h1m29 0h1m22 0h1m31 0h1m-278 1h1m95 0h1m73 0h1m20 0h1m30 0h1m21 0h1m31 0h1m-278 1h1m39 0h1m55 0h1m74 0h1m20 0h1m29 0h1m21 0h1m32 0h1m-279 1h1m39 0h1m55 0h1m125 0h1m21 0h1m32 0h1m-279 1h1m39 0h1m181 0h1m54 0h1m-279 1h1m39 0h1m182 0h1m-185 1h1m-2 1h1m101 1h1m-2 1h1m-1 1h1m27 0h1m20 0h1m-98 1h1m46 0h1m27 0h1m20 0h1m52 0h1m-150 1h1m45 0h1m28 0h1m19 0h1m52 0h1m32 0h1m-280 1h1m96 0h1m45 0h1m28 0h1m20 0h1m29 0h1m22 0h1m31 0h1m-280 1h1m96 0h1m45 0h1m28 0h1m20 0h1m29 0h1m22 0h1m32 0h1m-281 1h1m39 0h1m56 0h1m74 0h1m20 0h1m30 0h1m21 0h1m32 0h1m-281 1h1m39 0h1m56 0h1m74 0h1m20 0h1m30 0h1m21 0h2m31 0h1m-281 1h1m39 0h1m56 0h1m126 0h1m54 0h1m23 0h1m-305 1h1m39 0h1m183 0h1m55 0h1m23 0h1m-306 1h1m40 0h1m183 0h1m78 0h1m-265 1h1m262 0h1m-265 1h1m102 1h1m-2 1h1m-2 1h1m28 0h1m20 0h1m52 0h1m-152 1h1m46 0h1m28 0h1m20 0h1m52 0h1m-151 1h1m45 0h1m28 0h1m20 0h1m53 0h1m32 0h1m-283 1h1m97 0h1m46 0h1m27 0h1m20 0h1m30 0h1m22 0h1m32 0h1m-283 1h1m97 0h1m46 0h1m28 0h1m20 0h1m30 0h1m21 0h1m32 0h1m23 0h1m-307 1h1m40 0h1m56 0h1m75 0h1m20 0h1m30 0h1m21 0h1m32 0h1m24 0h1m-308 1h1m40 0h1m56 0h1m75 0h1m20 0h1m30 0h1m22 0h1m32 0h1m23 0h1m-307 1h1m39 0h1m56 0h1m127 0h1m55 0h1m23 0h1m-307 1h1m39 0h1m184 0h1m55 0h1m23 0h1m-307 1h1m39 0h1m185 0h1m79 0h1m-268 1h1m265 0h1m-268 1h1m103 1h1m-2 1h1m-2 1h1m28 0h1m21 0h1m52 0h1m-152 1h1m46 0h1m28 0h1m20 0h1m53 0h1m-153 1h1m46 0h1m28 0h1m20 0h1m53 0h1m32 0h1m-284 1h1m97 0h1m46 0h1m28 0h1m20 0h1m30 0h1m22 0h1m32 0h1m-284 1h1m97 0h1m75 0h1m20 0h1m31 0h1m21 0h1m33 0h1m23 0h1m-309 1h1m39 0h1m57 0h1m75 0h1m21 0h1m30 0h1m22 0h1m32 0h1m23 0h1m-309 1h1m40 0h1m56 0h1m128 0h1m55 0h1m24 0h1m-310 1h1m40 0h1m185 0h1m55 0h1m24 0h1m-310 1h1m40 0h1m185 0h1m80 0h1m-269 1h1m266 0h1m-269 1h1m103 1h1m181 0h1m-183 1h1m181 0h1m-184 1h1m28 0h1m20 0h1m54 0h1m76 0h1m-232 1h2m46 0h1m28 0h1m20 0h2m52 0h2m76 0h1m-330 1h1m98 0h1m46 0h1m28 0h1m21 0h1m30 0h1m22 0h1m32 0h1m44 0h1m-331 1h1m98 0h1m46 0h1m28 0h1m21 0h1m30 0h1m22 0h1m33 0h1m23 0h1m19 0h1m-331 1h1m40 0h1m57 0h1m46 0h1m29 0h1m20 0h1m30 0h1m22 0h1m33 0h1m24 0h1m18 0h1m-331 1h1m40 0h1m57 0h1m76 0h1m20 0h1m31 0h1m22 0h1m32 0h1m24 0h1m-312 1h1m40 0h1m57 0h1m76 0h1m52 0h1m56 0h1m23 0h1m-312 1h1m40 0h1m187 0h1m56 0h1m23 0h1m-312 1h1m40 0h1m187 0h1m56 0h1m24 0h1m-271 1h1m268 0h1m-271 1h1m103 2h1m182 0h1m-185 1h1m50 0h1m54 0h1m77 0h1m-233 1h1m46 0h1m29 0h1m20 0h1m54 0h1m77 0h1m-233 1h1m46 0h1m29 0h1m20 0h1m54 0h1m77 0h1m-333 1h1m99 0h1m47 0h1m28 0h1m21 0h1m30 0h1m22 0h1m33 0h1m44 0h1m15 0h1m-350 1h1m40 0h1m58 0h1m47 0h1m28 0h1m21 0h1m30 0h1m22 0h2m32 0h1m24 0h1m19 0h1m15 0h1m-350 1h1m41 0h1m57 0h1m76 0h1m21 0h1m31 0h1m56 0h1m23 0h1m36 0h1m-350 1h1m40 0h1m57 0h1m77 0h1m52 0h1m56 0h1m24 0h1m35 0h1m-350 1h1m40 0h1m188 0h1m56 0h1m24 0h1m-314 1h1m40 0h1m188 0h1m56 0h1m24 0h1m-273 1h1m271 0h1m-169 3h1m106 0h1m77 0h1m-187 1h1m51 0h1m54 0h1m77 0h1m-234 1h1m47 0h1m28 0h1m21 0h1m54 0h1m78 0h1m15 0h1m-251 1h1m47 0h1m28 0h1m21 0h1m54 0h1m78 0h1m16 0h1m-352 1h1m99 0h1m47 0h1m29 0h1m20 0h1m31 0h1m22 0h1m34 0h1m43 0h1m16 0h1m-352 1h1m40 0h1m58 0h1m47 0h1m29 0h1m21 0h1m30 0h1m23 0h1m33 0h1m24 0h1m19 0h1m15 0h1m-352 1h1m40 0h1m58 0h1m47 0h1m29 0h1m21 0h1m31 0h1m22 0h1m33 0h1m24 0h1m19 0h1m16 0h1m-353 1h1m40 0h2m57 0h1m77 0h1m21 0h1m31 0h1m56 0h1m24 0h1m36 0h1m-353 1h1m41 0h1m58 0h1m76 0h1m53 0h1m57 0h1m24 0h1m35 0h1m-353 1h1m41 0h1m189 0h1m57 0h1m24 0h1m-317 1h1m41 0h1m190 0h1m56 0h1m24 0h1m-2 1h1m-169 3h1m106 0h1m78 0h1m-188 1h1m51 0h1m54 0h1m79 0h1m-237 1h1m47 0h1m29 0h1m21 0h1m54 0h1m79 0h1m16 0h1m-254 1h1m47 0h1m29 0h1m21 0h1m55 0h1m78 0h1m16 0h1m-355 1h1m41 0h1m58 0h1m48 0h1m28 0h1m21 0h1m31 0h1m23 0h1m33 0h1m44 0h1m16 0h1m-355 1h1m41 0h1m58 0h1m48 0h1m29 0h1m21 0h1m31 0h1m22 0h1m34 0h1m24 0h1m19 0h1m15 0h1m-355 1h1m41 0h1m58 0h1m48 0h1m29 0h1m21 0h1m31 0h1m22 0h1m33 0h2m24 0h1m19 0h1m15 0h2m19 0h1m-375 1h1m40 0h1m59 0h1m77 0h1m21 0h1m31 0h1m57 0h1m24 0h1m36 0h1m20 0h1m-376 1h1m40 0h1m59 0h1m77 0h1m53 0h1m57 0h1m25 0h1m56 0h1m-376 1h1m41 0h1m191 0h1m57 0h1m24 0h1m-319 1h1m41 0h1m191 0h1m82 0h1m-2 1h1m-171 3h1m107 0h1m79 0h1m-189 1h1m51 0h1m55 0h1m79 0h1m16 0h1m-256 1h1m48 0h1m29 0h1m21 0h1m55 0h1m79 0h1m16 0h1m20 0h1m-277 1h1m48 0h1m29 0h1m21 0h1m55 0h1m34 0h1m44 0h1m16 0h1m20 0h1m-378 1h1m41 0h1m58 0h1m48 0h1m29 0h1m21 0h1m32 0h1m22 0h1m34 0h1m45 0h1m15 0h1m20 0h1m-378 1h1m41 0h1m59 0h1m47 0h1m30 0h1m21 0h1m31 0h1m23 0h1m33 0h1m25 0h1m19 0h1m16 0h1m20 0h1m-379 1h1m41 0h1m59 0h1m78 0h1m21 0h1m31 0h1m58 0h1m24 0h1m36 0h1m20 0h1m-379 1h1m41 0h1m59 0h1m78 0h1m53 0h1m58 0h1m24 0h1m57 0h1m-379 1h1m41 0h1m193 0h1m57 0h1m25 0h1m-322 1h1m41 0h1m193 0h1m83 0h1m-2 1h1m-172 3h1m108 0h1m79 0h1m-191 1h1m52 0h1m55 0h1m80 0h1m16 0h1m-258 1h1m48 0h1m30 0h1m21 0h1m55 0h1m80 0h1m16 0h1m20 0h1m-279 1h1m49 0h1m29 0h1m21 0h1m55 0h1m34 0h1m45 0h1m16 0h1m20 0h1m-381 1h1m41 0h2m59 0h1m48 0h1m29 0h1m21 0h1m32 0h1m23 0h1m34 0h1m45 0h1m16 0h1m20 0h1m-382 1h1m42 0h1m59 0h1m48 0h1m29 0h1m22 0h1m31 0h1m23 0h1m34 0h1m25 0h1m19 0h1m16 0h1m20 0h1m-382 1h1m42 0h1m59 0h1m48 0h1m29 0h1m22 0h1m31 0h1m23 0h1m34 0h1m25 0h1m19 0h1m16 0h1m20 0h1m-381 1h1m41 0h1m59 0h1m79 0h1m21 0h1m32 0h1m57 0h1m25 0h1m37 0h1m20 0h1m-382 1h1m41 0h1m59 0h1m79 0h1m54 0h1m58 0h1m24 0h1m58 0h1m-382 1h1m41 0h1m194 0h1m58 0h1m25 0h1m-324 1h1m236 0h1m84 0h1m-2 1h1m-173 3h1m108 0h1m81 0h1m-243 1h1m49 0h1m52 0h1m56 0h1m80 0h1m16 0h1m-259 1h1m48 0h1m30 0h1m21 0h1m56 0h1m80 0h1m16 0h1m21 0h1m-342 1h1m60 0h1m48 0h1m30 0h1m21 0h1m56 0h1m34 0h1m46 0h1m16 0h1m20 0h1m-384 1h1m41 0h1m60 0h1m48 0h1m30 0h1m21 0h1m32 0h1m23 0h1m35 0h1m24 0h1m20 0h1m16 0h1m20 0h1m-384 1h1m42 0h1m59 0h1m49 0h1m29 0h1m22 0h1m32 0h1m23 0h1m34 0h1m25 0h1m19 0h1m16 0h1m21 0h1m-385 1h1m42 0h1m59 0h1m79 0h1m22 0h1m32 0h1m58 0h1m25 0h1m37 0h1m20 0h1m-385 1h1m42 0h1m140 0h1m54 0h1m58 0h1m25 0h1m58 0h1m-385 1h1m42 0h1m195 0h1m59 0h1m25 0h1m-327 1h1m238 0h1m85 0h1m-176 4h1m110 0h1m81 0h1m-244 1h1m48 0h1m30 0h1m22 0h1m56 0h1m81 0h1m16 0h1m21 0h1m-283 1h1m49 0h1m29 0h1m22 0h1m56 0h1m81 0h1m17 0h1m20 0h1m27 0h1m-415 1h1m42 0h1m60 0h1m49 0h1m30 0h1m21 0h1m56 0h1m35 0h1m46 0h1m16 0h1m20 0h1m28 0h1m-416 1h1m42 0h1m60 0h1m49 0h1m30 0h1m21 0h1m32 0h1m24 0h1m34 0h1m25 0h1m20 0h1m16 0h1m21 0h1m27 0h1m-415 1h1m41 0h1m60 0h1m49 0h1m30 0h1m22 0h1m32 0h1m23 0h1m34 0h1m26 0h1m19 0h1m17 0h1m20 0h1m27 0h1m-415 1h1m41 0h1m61 0h1m48 0h1m30 0h1m22 0h1m32 0h1m23 0h1m35 0h1m25 0h1m20 0h1m16 0h1m20 0h1m28 0h1m-416 1h1m42 0h1m60 0h1m79 0h1m22 0h1m32 0h1m59 0h1m25 0h1m37 0h1m21 0h1m27 0h1m-416 1h1m42 0h1m196 0h1m59 0h1m25 0h1m88 0h1m-417 1h1m42 0h1m197 0h1m59 0h1m25 0h1m-88 1h1m85 0h1m-177 4h1m110 0h1m82 0h1m-246 1h1m49 0h1m30 0h1m22 0h1m57 0h1m81 0h1m17 0h1m20 0h1m28 0h1m-314 1h1m49 0h1m30 0h1m22 0h1m57 0h1m82 0h1m16 0h1m21 0h1m27 0h1m-418 1h1m42 0h1m60 0h1m50 0h1m30 0h1m21 0h1m57 0h1m35 0h1m46 0h1m16 0h1m21 0h1m28 0h1m-419 1h1m42 0h2m60 0h1m49 0h1m30 0h1m22 0h1m32 0h1m23 0h2m34 0h2m24 0h2m19 0h2m16 0h1m20 0h2m27 0h1m-419 1h1m42 0h1m61 0h1m49 0h1m30 0h1m22 0h1m32 0h1m24 0h1m34 0h1m26 0h1m20 0h1m16 0h1m21 0h1m27 0h1m-419 1h1m42 0h1m61 0h1m49 0h1m30 0h1m22 0h1m32 0h1m60 0h1m25 0h1m37 0h1m21 0h1m28 0h1m-420 1h1m43 0h1m60 0h1m81 0h1m21 0h1m33 0h1m59 0h1m25 0h1m38 0h1m49 0h1m-419 1h1m42 0h1m198 0h1m59 0h1m26 0h1m-331 1h1m241 0h1m86 0h1m-88 1h1m21 2h1m-1 1h1m82 0h1m-197 1h1m30 0h1m22 0h1m57 0h1m83 0h1m38 0h1m-287 1h1m49 0h1m30 0h1m22 0h1m57 0h1m35 0h1m47 0h1m16 0h1m21 0h1m28 0h1m-378 1h1m61 0h1m49 0h1m31 0h1m22 0h1m57 0h1m35 0h1m46 0h1m17 0h1m21 0h1m28 0h1m21 0h1m-444 1h1m42 0h1m61 0h1m50 0h1m30 0h1m22 0h1m57 0h1m35 0h1m25 0h1m21 0h1m16 0h1m21 0h1m28 0h1m22 0h1m-445 1h1m42 0h1m61 0h1m50 0h1m30 0h1m22 0h1m33 0h1m59 0h1m26 0h1m20 0h1m16 0h1m21 0h1m28 0h1m22 0h1m-445 1h1m42 0h1m61 0h1m50 0h1m30 0h1m22 0h1m33 0h1m60 0h1m25 0h1m38 0h1m21 0h1m28 0h1m22 0h1m-446 1h1m42 0h1m61 0h1m138 0h1m60 0h1m25 0h1m38 0h1m50 0h1m22 0h1m-446 1h1m43 0h1m199 0h1m87 0h1m111 0h1m-446 1h1m244 0h1m86 0h1m-89 1h1m22 2h1m-2 1h1m83 0h1m-198 1h1m30 0h1m22 0h1m58 0h1m83 0h1m38 0h1m-289 1h1m50 0h1m30 0h1m22 0h1m58 0h1m35 0h1m47 0h1m17 0h1m21 0h1m28 0h1m-381 1h1m61 0h1m50 0h1m30 0h1m23 0h1m57 0h1m35 0h2m46 0h1m17 0h1m21 0h1m28 0h1m22 0h1m-448 1h1m43 0h1m61 0h1m50 0h1m31 0h1m22 0h1m58 0h1m35 0h1m25 0h1m21 0h1m16 0h1m22 0h1m28 0h1m22 0h1m-449 1h1m43 0h1m61 0h1m50 0h1m31 0h1m22 0h1m33 0h1m24 0h1m35 0h1m26 0h1m20 0h1m17 0h1m21 0h1m28 0h1m22 0h1m-448 1h1m42 0h1m62 0h1m50 0h1m30 0h1m22 0h1m33 0h1m60 0h1m26 0h1m20 0h1m17 0h1m21 0h1m28 0h1m23 0h1m-449 1h1m42 0h1m62 0h1m50 0h1m30 0h1m23 0h1m32 0h1m61 0h1m25 0h1m38 0h1m22 0h1m28 0h1m22 0h1m-449 1h1m43 0h1m61 0h1m139 0h1m87 0h1m38 0h1m50 0h1m22 0h1m-449 1h1m43 0h1m201 0h1m87 0h1m113 0h1m-450 1h1m245 0h1m87 0h1m-89 1h1m23 1h1m-2 1h1m-2 1h1m84 0h1m-252 1h1m51 0h1m30 0h1m22 0h1m59 0h1m35 0h1m47 0h1m39 0h1m-292 1h1m51 0h1m30 0h1m23 0h1m58 0h1m35 0h1m48 0h1m17 0h1m21 0h1m28 0h1m22 0h1m-407 1h1m62 0h1m50 0h1m31 0h1m22 0h1m58 0h1m36 0h1m47 0h1m17 0h1m21 0h1m29 0h1m22 0h1m-452 1h1m43 0h1m62 0h1m50 0h1m31 0h1m22 0h1m33 0h1m61 0h1m26 0h1m20 0h1m17 0h1m21 0h1m29 0h1m22 0h1m-452 1h1m43 0h1m62 0h1m50 0h1m31 0h1m22 0h1m34 0h1m60 0h1m26 0h1m21 0h1m17 0h1m21 0h1m28 0h1m23 0h1m-453 1h1m43 0h1m62 0h1m51 0h1m30 0h1m23 0h1m33 0h1m61 0h1m26 0h1m38 0h1m21 0h1m29 0h1m22 0h1m-453 1h1m43 0h1m203 0h1m88 0h1m38 0h1m51 0h1m22 0h1m-452 1h1m43 0h1m202 0h1m88 0h1m-338 1h1m247 0h1m88 0h1m-67 2h1m-1 1h1m84 0h1m112 0h1m-315 1h1m31 0h1m82 0h1m84 0h1m112 0h1m-366 1h1m50 0h1m31 0h1m23 0h1m58 0h1m36 0h1m48 0h1m17 0h1m21 0h1m29 0h1m42 0h1m-367 1h1m50 0h1m31 0h1m23 0h1m58 0h1m36 0h1m48 0h1m17 0h1m21 0h1m29 0h1m23 0h1m18 0h1m-430 1h1m62 0h1m51 0h1m31 0h1m22 0h1m59 0h1m36 0h1m47 0h1m17 0h1m22 0h1m28 0h1m23 0h1m18 0h1m-474 1h1m43 0h1m62 0h1m51 0h1m31 0h1m22 0h1m34 0h1m24 0h1m36 0h1m26 0h1m21 0h1m17 0h1m21 0h1m29 0h1m22 0h1m19 0h1m-475 1h1m43 0h1m62 0h1m51 0h1m31 0h1m22 0h2m33 0h1m61 0h1m26 0h1m21 0h1m17 0h1m21 0h2m28 0h1m23 0h1m18 0h1m-475 1h1m43 0h1m63 0h1m50 0h1m31 0h1m23 0h1m33 0h1m62 0h1m26 0h1m38 0h1m22 0h1m29 0h1m22 0h1m-456 1h1m43 0h1m63 0h1m141 0h1m61 0h1m26 0h1m39 0h1m51 0h1m23 0h1m-457 1h1m44 0h1m204 0h1m88 0h1m115 0h1m-457 1h1m44 0h1m204 0h1m89 0h1m-342 1h1m249 0h1m89 0h1m-67 2h1m-1 1h1m85 0h1m113 0h1m-318 1h1m31 0h1m23 0h1m59 0h1m85 0h1m17 0h1m22 0h1m72 0h1m-370 1h1m51 0h1m31 0h1m23 0h1m59 0h1m36 0h1m48 0h1m18 0h1m21 0h1m29 0h1m42 0h1m-370 1h1m52 0h1m31 0h1m22 0h1m59 0h1m37 0h1m48 0h1m17 0h1m22 0h1m28 0h1m23 0h1m19 0h1m-434 1h1m63 0h1m51 0h1m31 0h1m23 0h1m59 0h1m36 0h1m48 0h1m17 0h1m22 0h1m29 0h1m23 0h1m18 0h1m-479 1h2m43 0h1m63 0h1m51 0h1m31 0h1m23 0h1m33 0h2m24 0h1m36 0h1m26 0h2m20 0h1m17 0h2m21 0h1m29 0h1m23 0h1m19 0h1m-479 1h1m43 0h1m63 0h1m51 0h1m31 0h1m23 0h1m34 0h1m62 0h1m26 0h1m21 0h1m17 0h1m22 0h1m29 0h1m22 0h1m19 0h1m-479 1h1m43 0h1m63 0h1m51 0h1m32 0h1m22 0h1m34 0h1m62 0h1m26 0h1m62 0h1m29 0h1m23 0h1m-460 1h1m44 0h1m62 0h1m142 0h1m62 0h1m27 0h1m91 0h1m23 0h1m-460 1h1m44 0h1m206 0h1m89 0h1m116 0h1m-461 1h1m44 0h1m206 0h1m89 0h1m-68 3h1m218 0h1m-337 1h1m116 0h1m85 0h1m18 0h1m95 0h1m16 0h1m-389 1h1m51 0h1m32 0h1m22 0h1m60 0h1m36 0h1m49 0h1m17 0h1m22 0h1m73 0h1m16 0h1m-390 1h1m51 0h1m32 0h1m23 0h1m59 0h1m37 0h1m48 0h1m17 0h1m22 0h1m30 0h1m42 0h1m16 0h1m-499 1h1m44 0h1m63 0h1m52 0h1m31 0h1m23 0h1m34 0h1m24 0h1m37 0h1m49 0h1m17 0h1m22 0h1m29 0h1m23 0h1m19 0h1m16 0h1m-500 1h2m43 0h2m62 0h2m51 0h1m31 0h2m22 0h2m33 0h1m25 0h1m36 0h2m26 0h1m21 0h1m17 0h2m21 0h1m29 0h2m22 0h2m18 0h1m16 0h1m-500 1h1m44 0h1m63 0h1m52 0h1m32 0h1m22 0h1m34 0h1m63 0h1m26 0h1m21 0h1m40 0h1m30 0h1m23 0h1m19 0h1m-483 1h1m43 0h1m208 0h1m90 0h1m62 0h1m29 0h1m23 0h1m-463 1h1m44 0h1m207 0h1m90 0h1m116 0h1m-210 1h1m90 0h1m-1 1h1m-69 3h1m87 0h1m17 0h1m114 0h1m-393 1h1m52 0h1m31 0h1m23 0h1m60 0h1m37 0h1m49 0h1m17 0h1m97 0h1m16 0h1m-393 1h1m52 0h1m32 0h1m23 0h1m60 0h1m36 0h1m49 0h1m18 0h1m22 0h1m29 0h1m43 0h1m17 0h1m-503 1h1m44 0h1m63 0h1m52 0h1m32 0h1m23 0h1m60 0h1m37 0h1m49 0h1m17 0h1m22 0h1m30 0h1m23 0h1m19 0h1m16 0h1m-503 1h1m44 0h1m64 0h1m51 0h1m32 0h1m23 0h1m34 0h1m25 0h1m37 0h1m27 0h1m21 0h1m18 0h1m22 0h1m29 0h1m23 0h1m19 0h1m16 0h1m-503 1h1m44 0h1m64 0h1m52 0h1m31 0h1m24 0h1m34 0h1m25 0h1m36 0h1m27 0h1m21 0h1m18 0h1m22 0h1m29 0h1m24 0h1m19 0h1m16 0h1m-504 1h1m44 0h1m64 0h1m52 0h1m32 0h1m23 0h1m34 0h1m25 0h1m37 0h1m27 0h1m21 0h1m17 0h1m22 0h1m30 0h1m23 0h1m19 0h1m16 0h1m-504 1h1m45 0h1m63 0h1m52 0h1m32 0h1m23 0h1m34 0h1m63 0h1m27 0h1m63 0h1m29 0h1m23 0h1m20 0h1m-488 1h1m44 0h2m208 0h2m90 0h1m63 0h1m30 0h1m23 0h1m-467 1h1m254 0h1m91 0h1m117 0h1m-120 1h1m-70 4h1m37 0h1m50 0h1m17 0h1m115 0h1m-396 1h1m52 0h1m32 0h1m23 0h1m61 0h1m37 0h1m49 0h1m18 0h1m22 0h1m29 0h1m44 0h1m16 0h1m14 0h1m-521 1h1m44 0h1m64 0h1m52 0h1m32 0h1m23 0h1m61 0h1m37 0h1m49 0h1m18 0h1m22 0h1m30 0h1m23 0h1m19 0h1m17 0h1m14 0h1m-522 1h1m44 0h1m64 0h1m52 0h1m32 0h1m24 0h1m34 0h1m25 0h1m37 0h1m27 0h1m22 0h1m17 0h1m23 0h1m29 0h1m24 0h1m19 0h1m16 0h1m14 0h1m-522 1h1m44 0h1m64 0h1m53 0h1m32 0h1m23 0h1m34 0h1m25 0h1m38 0h1m27 0h1m21 0h1m18 0h1m22 0h1m30 0h1m23 0h1m19 0h1m17 0h1m14 0h1m-523 1h1m45 0h1m64 0h1m52 0h1m32 0h1m23 0h1m35 0h1m25 0h1m37 0h1m27 0h1m21 0h1m18 0h1m22 0h1m30 0h1m23 0h2m19 0h1m16 0h1m14 0h1m-523 1h1m45 0h1m64 0h1m52 0h1m32 0h1m23 0h1m35 0h1m91 0h1m64 0h1m29 0h1m24 0h1m19 0h1m32 0h1m-524 1h1m45 0h1m210 0h1m92 0h1m-95 1h1m92 0h1m-133 5h1m61 0h1m37 0h1m50 0h1m18 0h1m116 0h1m-400 1h1m53 0h1m32 0h1m24 0h1m60 0h1m38 0h1m50 0h1m17 0h1m23 0h1m30 0h1m23 0h1m20 0h1m16 0h1m14 0h1m-526 1h2m44 0h1m65 0h1m52 0h1m32 0h2m23 0h1m34 0h1m26 0h1m37 0h1m27 0h1m22 0h1m18 0h1m22 0h1m30 0h1m24 0h1m19 0h1m17 0h1m14 0h1m-526 1h1m44 0h1m65 0h1m52 0h1m33 0h1m23 0h1m35 0h1m25 0h1m37 0h1m28 0h1m21 0h1m18 0h1m23 0h1m29 0h1m24 0h1m20 0h1m16 0h1m14 0h1m-526 1h1m44 0h1m65 0h1m53 0h1m32 0h1m23 0h1m35 0h1m25 0h1m38 0h1m27 0h1m22 0h1m17 0h1m23 0h1m30 0h1m24 0h1m19 0h1m16 0h1m15 0h1m-527 1h1m45 0h1m64 0h1m53 0h1m32 0h1m24 0h1m34 0h1m26 0h1m37 0h1m27 0h1m22 0h1m18 0h1m22 0h1m30 0h1m24 0h1m19 0h1m17 0h1m14 0h1m-527 1h1m44 0h2m64 0h1m53 0h1m32 0h1m24 0h1m34 0h2m25 0h1m37 0h1m28 0h1m21 0h1m18 0h1m22 0h2m29 0h2m23 0h1m20 0h1m16 0h1m15 0h1m-528 1h1m45 0h1m65 0h1m52 0h1m93 0h1m92 0h1m120 0h1m19 0h1m32 0h1m-176 1h1m-159 6h1m24 0h1m61 0h1m38 0h1m50 0h1m18 0h1m23 0h1m30 0h1m24 0h1m37 0h1m-515 1h1m45 0h1m65 0h1m53 0h1m33 0h1m23 0h1m35 0h1m26 0h1m37 0h1m28 0h1m22 0h1m18 0h1m22 0h1m30 0h1m24 0h1m20 0h1m16 0h1m15 0h1m-531 1h2m44 0h2m64 0h2m52 0h2m32 0h1m24 0h1m34 0h2m25 0h1m38 0h1m27 0h2m21 0h1m18 0h1m23 0h1m30 0h1m24 0h1m19 0h2m16 0h1m14 0h2m-531 1h1m45 0h1m65 0h1m53 0h1m32 0h1m24 0h1m35 0h1m25 0h1m38 0h1m28 0h1m21 0h1m18 0h1m23 0h1m30 0h1m24 0h1m20 0h1m16 0h1m15 0h1m-531 1h1m45 0h1m65 0h1m53 0h1m32 0h1m24 0h1m35 0h1m26 0h1m37 0h1m28 0h1m22 0h1m18 0h1m22 0h1m31 0h1m24 0h1m19 0h1m17 0h1m14 0h1m-531 1h1m45 0h1m65 0h1m53 0h1m33 0h1m23 0h1m35 0h1m26 0h1m38 0h1m27 0h1m22 0h1m18 0h1m23 0h1m30 0h1m24 0h1m20 0h1m16 0h1m15 0h1m-532 1h1m45 0h1m65 0h1m53 0h1m33 0h1m24 0h1m35 0h1m25 0h1m38 0h1m28 0h1m21 0h1m18 0h1m23 0h1m31 0h1m23 0h1m20 0h1m17 0h1m14 0h1"/>
<path stroke="#ff0000" d="M131 74.5h1m67 0h1m67 0h1m66 0h1m67 0h1m67 0h1m67 0h1m66 0h1m67 0h1m-544 1h1m67 0h1m66 0h2m66 0h1m67 0h1m67 0h1m66 0h2m66 0h1m67 0h1m-544 1h1m66 0h2m66 0h1m67 0h1m67 0h1m66 0h2m66 0h1m67 0h1m67 0h1m-545 1h2m66 0h1m67 0h1m67 0h1m66 0h2m66 0h1m67 0h1m67 0h1m66 0h2m-545 1h1m67 0h1m67 0h1m66 0h2m66 0h1m67 0h1m67 0h1m66 0h2m66 0h1m-544 1h1m67 0h1m66 0h2m66 0h1m67 0h1m67 0h1m66 0h2m66 0h1m67 0h1m-544 1h1m67 0h1m66 0h1m67 0h1m67 0h1m67 0h1m66 0h1m67 0h1m67 0h1m-544 1h1m66 0h2m66 0h1m67 0h1m67 0h1m66 0h2m66 0h1m67 0h1m67 0h1m-545 1h2m66 0h1m67 0h1m67 0h1m66 0h2m66 0h1m67 0h1m67 0h1m66 0h2m-545 1h1m67 0h1m67 0h1m66 0h2m66 0h1m67 0h1m67 0h1m66 0h2m66 0h1m-544 1h1m67 0h1m66 0h2m66 0h1m67 0h1m67 0h1m66 0h2m66 0h1m67 0h1m-544 1h1m67 0h1m66 0h1m67 0h1m67 0h1m66 0h2m66 0h1m67 0h1m67 0h1m-544 1h1m66 0h2m66 0h1m67 0h1m67 0h1m66 0h1m67 0h1m67 0h1m67 0h1m-545 1h2m66 0h1m67 0h1m67 0h1m66 0h2m66 0h1m67 0h1m67 0h1m66 0h2m-545 1h1m67 0h1m67 0h1m66 0h2m66 0h1m67 0h1m67 0h1m66 0h2m66 0h1m-544 1h1m67 0h1m66 0h2m66 0h1m67 0h1m67 0h1m66 0h2m66 0h1m67 0h1m-544 1h1m66 0h2m66 0h1m67 0h1m67 0h1m66 0h2m66 0h1m67 0h1m67 0h1m-544 1h1m66 0h1m67 0h1m67 0h1m66 0h2m66 0h1m67 0h1m67 0h1m66 0h2m-545 1h2m66 0h1m67 0h1m67 0h1m66 0h1m67 0h1m67 0h1m67 0h1m66 0h1m-544 1h1m67 0h1m67 0h1m66 0h2m66 0h1m67 0h1m67 0h1m66 0h2m66 0h1m-544 1h1m67 0h1m66 0h2m66 0h1m67 0h1m67 0h1m66 0h2m66 0h1m67 0h1m-544 1h1m66 0h2m66 0h1m67 0h1m67 0h1m66 0h2m66 0h1m67 0h1m67 0h1m-545 1h2m66 0h1m67 0h1m67 0h1m66 0h2m66 0h1m67 0h1m67 0h1m66 0h2m-545 1h1m67 0h1m67 0h1m66 0h2m66 0h1m67 0h1m67 0h1m66 0h2m66 0h1m-544 1h1m67 0h1m67 0h1m66 0h1m67 0h1m67 0h1m67 0h1m66 0h1m67 0h1m-544 1h1m67 0h1m66 0h2m66 0h1m67 0h1m67 0h1m66 0h2m66 0h1m67 0h1m-544 1h1m66 0h2m66 0h1m67 0h1m67 0h1m66 0h2m66 0h1m67 0h1m67 0h1m-545 1h2m66 0h1m67 0h1m67 0h1m66 0h2m66 0h1m67 0h1m67 0h1m66 0h2m-545 1h1m67 0h1m67 0h1m66 0h2m66 0h1m67 0h1m67 0h1m66 0h2m66 0h1m-544 1h1m67 0h1m66 0h2m66 0h1m67 0h1m67 0h1m66 0h2m66 0h1m67 0h1m-544 1h1m67 0h1m66 0h1m67 0h1m67 0h1m67 0h1m66 0h1m67 0h1m67 0h1m-544 1h1m66 0h2m66 0h1m67 0h1m67 0h1m66 0h2m66 0h1m67 0h1m67 0h1m-545 1h2m66 0h1m67 0h1m67 0h1m66 0h2m66 0h1m67 0h1m67 0h1m66 0h2m-545 1h1m67 0h1m67 0h1m66 0h2m66 0h1m67 0h1m67 0h1m66 0h2m66 0h1m-544 1h1m67 0h1m66 0h2m66 0h1m67 0h1m67 0h1m66 0h2m66 0h1m67 0h1m-544 1h1m66 0h2m66 0h1m67 0h1m67 0h1m66 0h2m66 0h1m67 0h1m67 0h1m-544 1h1m66 0h1m67 0h1m67 0h1m67 0h1m66 0h1m67 0h1m67 0h1m66 0h2m-544 1h1m66 0h1m67 0h1m67 0h1m66 0h2m66 0h1m67 0h1m67 0h1m66 0h1m67 0h1m-544 1h1m67 0h1m66 0h2m66 0h1m67 0h1m67 0h1m66 0h2m66 0h1m67 0h1m-544 1h1m66 0h2m66 0h1m67 0h1m67 0h1m66 0h2m66 0h1m67 0h1m67 0h1m-545 1h2m66 0h1m67 0h1m67 0h1m66 0h2m66 0h1m67 0h1m67 0h1m66 0h2m-545 1h1m67 0h1m67 0h1m66 0h2m66 0h1m67 0h1m67 0h1m66 0h2m66 0h1m-544 1h1m67 0h1m67 0h1m66 0h1m67 0h1m67 0h1m66 0h2m66 0h1m67 0h1m-544 1h1m67 0h1m66 0h2m66 0h1m67 0h1m67 0h1m66 0h1m67 0h1m67 0h1m-544 1h1m66 0h2m66 0h1m67 0h1m67 0h1m66 0h2m66 0h1m67 0h1m67 0h1m-545 1h2m66 0h1m67 0h1m67 0h1m66 0h2m66 0h1m67 0h1m67 0h1m66 0h2m-545 1h1m67 0h1m67 0h1m66 0h2m66 0h1m67 0h1m67 0h1m66 0h2m66 0h1m-544 1h1m67 0h1m66 0h2m66 0h1m67 0h1m67 0h1m66 0h2m66 0h1m67 0h1m-544 1h1m67 0h1m66 0h1m67 0h1m67 0h1m66 0h2m66 0h1m67 0h1m67 0h1m-544 1h1m66 0h2m66 0h1m67 0h1m67 0h1m66 0h1m67 0h1m67 0h1m67 0h1m-545 1h2m66 0h1m67 0h1m67 0h1m66 0h2m66 0h1m67 0h1m67 0h1m66 0h2m-545 1h1m67 0h1m67 0h1m66 0h2m66 0h1m67 0h1m67 0h1m66 0h2m66 0h1m-544 1h1m67 0h1m66 0h2m66 0h1m67 0h1m67 0h1m66 0h2m66 0h1m67 0h1m-544 1h1m66 0h2m66 0h1m67 0h1m67 0h1m66 0h2m66 0h1m67 0h1m67 0h1m-544 1h1m66 0h1m67 0h1m67 0h1m66 0h2m66 0h1m67 0h1m67 0h1m66 0h2m-545 1h2m66 0h1m67 0h1m67 0h1m66 0h1m67 0h1m67 0h1m67 0h1m66 0h1m-544 1h1m67 0h1m67 0h1m66 0h2m66 0h1m67 0h1m67 0h1m66 0h2m66 0h1m-544 1h1m67 0h1m66 0h2m66 0h1m67 0h1m67 0h1m66 0h2m66 0h1m67 0h1m-544 1h1m66 0h2m66 0h1m67 0h1m67 0h1m66 0h2m66 0h1m67 0h1m67 0h1m-545 1h2m66 0h1m67 0h1m67 0h1m66 0h2m66 0h1m67 0h1m67 0h1m66 0h2m-545 1h1m67 0h1m67 0h1m66 0h2m66 0h1m67 0h1m67 0h1m66 0h2m66 0h1m-544 1h1m67 0h1m67 0h1m66 0h1m67 0h1m67 0h1m67 0h1m66 0h1m67 0h1m-544 1h1m67 0h1m66 0h2m66 0h1m67 0h1m67 0h1m66 0h2m66 0h1m67 0h1m-544 1h1m66 0h2m66 0h1m67 0h1m67 0h1m66 0h2m66 0h1m67 0h1m67 0h1m-545 1h2m66 0h1m67 0h1m67 0h1m66 0h2m66 0h1m67 0h1m67 0h1m66 0h2m-545 1h1m67 0h1m67 0h1m66 0h2m66 0h1m67 0h1m67 0h1m66 0h2m66 0h1m-544 1h1m67 0h1m66 0h2m66 0h1m67 0h1m67 0h1m66 0h2m66 0h1m67 0h1m-544 1h1m67 0h1m66 0h1m67 0h1m67 0h1m67 0h1m66 0h1m67 0h1m67 0h1m-544 1h1m66 0h2m66 0h1m67 0h1m67 0h1m66 0h2m66 0h1m67 0h1m67 0h1m-545 1h2m66 0h1m67 0h1m67 0h1m66 0h2m66 0h1m67 0h1m67 0h1m66 0h2m-545 1h1m67 0h1m67 0h1m66 0h2m66 0h1m67 0h1m67 0h1m66 0h2m66 0h1m-544 1h1m67 0h1m66 0h2m66 0h1m67 0h1m67 0h1m66 0h2m66 0h1m67 0h1m-544 1h1m66 0h2m66 0h1m67 0h1m67 0h1m66 0h2m66 0h1m67 0h1m67 0h1m-544 1h1m66 0h1m67 0h1m67 0h1m67 0h1m66 0h1m67 0h1m67 0h1m66 0h2m-545 1h2m66 0h1m67 0h1m67 0h1m66 0h2m66 0h1m67 0h1m67 0h1m66 0h1m-544 1h1m67 0h1m67 0h1m66 0h2m66 0h1m67 0h1m67 0h1m66 0h2m66 0h1m-544 1h1m67 0h1m66 0h2m66 0h1m67 0h1m67 0h1m66 0h2m66 0h1m67 0h1m-544 1h1m66 0h2m66 0h1m67 0h1m67 0h1m66 0h2m66 0h1m67 0h1m67 0h1m-545 1h2m66 0h1m67 0h1m67 0h1m66 0h2m66 0h1m67 0h1m67 0h1m66 0h2m-545 1h1m67 0h1m67 0h1m67 0h1m66 0h1m67 0h1m67 0h1m67 0h1m66 0h1m-544 1h1m67 0h1m67 0h1m66 0h2m66 0h1m67 0h1m67 0h1m66 0h2m66 0h1m-544 1h1m67 0h1m66 0h2m66 0h1m67 0h1m67 0h1m66 0h2m66 0h1m67 0h1m-544 1h1m66 0h2m66 0h1m67 0h1m67 0h1m66 0h2m66 0h1m67 0h1m67 0h1m-545 1h2m66 0h1m67 0h1m67 0h1m66 0h2m66 0h1m67 0h1m67 0h1m66 0h2m-545 1h1m67 0h1m67 0h1m66 0h2m66 0h1m67 0h1m67 0h1m66 0h2m66 0h1m-544 1h1m67 0h1m67 0h1m66 0h1m67 0h1m67 0h1m67 0h1m66 0h1m67 0h1m-544 1h1m67 0h1m66 0h2m66 0h1m67 0h1m67 0h1m66 0h2m66 0h1m67 0h1m-544 1h1m66 0h2m66 0h1m67 0h1m67 0h1m66 0h2m66 0h1m67 0h1m67 0h1m-545 1h2m66 0h1m67 0h1m67 0h1m66 0h2m66 0h1m67 0h1m67 0h1m66 0h2m-545 1h1m67 0h1m67 0h1m66 0h2m66 0h1m67 0h1m67 0h1m66 0h2m66 0h1m-544 1h1m67 0h1m66 0h2m66 0h1m67 0h1m67 0h1m66 0h2m66 0h1m67 0h1m-544 1h1m67 0h1m66 0h1m67 0h1m67 0h1m67 0h1m66 0h1m67 0h1m67 0h1m-544 1h1m66 0h2m66 0h1m67 0h1m67 0h1m66 0h2m66 0h1m67 0h1m67 0h1m-544 1h1m66 0h1m67 0h1m67 0h1m66 0h2m66 0h1m67 0h1m67 0h1m66 0h2m66 0h1m-544 1h1m67 0h1m66 0h2m66 0h1m67 0h1m67 0h1m66 0h2m66 0h1m67 0h1m-544 1h1m66 0h2m66 0h1m67 0h1m67 0h1m66 0h2m66 0h1m67 0h1m67 0h1m-545 1h2m66 0h1m67 0h1m67 0h1m66 0h2m66 0h1m67 0h1m67 0h1m66 0h2m-545 1h1m67 0h1m67 0h1m67 0h1m66 0h1m67 0h1m67 0h1m66 0h2m66 0h1m-544 1h1m67 0h1m67 0h1m66 0h2m66 0h1m67 0h1m67 0h1m66 0h1m67 0h1m-544 1h1m67 0h1m66 0h2m66 0h1m67 0h1m67 0h1m66 0h2m66 0h1m67 0h1m-544 1h1m66 0h2m66 0h1m67 0h1m67 0h1m66 0h2m66 0h1m67 0h1m67 0h1m-545 1h2m66 0h1m67 0h1m67 0h1m66 0h2m66 0h1m67 0h1m67 0h1m66 0h2m-545 1h1m67 0h1m67 0h1m66 0h2m66 0h1m67 0h1m67 0h1m66 0h2m66 0h1m-544 1h1m67 0h1m67 0h1m66 0h1m67 0h1m67 0h1m66 0h2m66 0h1m67 0h1m-544 1h1m67 0h1m66 0h2m66 0h1m67 0h1m67 0h1m66 0h1m67 0h1m67 0h1m-544 1h1m66 0h2m66 0h1m67 0h1m67 0h1m66 0h2m66 0h1m67 0h1m67 0h1m-545 1h2m66 0h1m67 0h1m67 0h1m66 0h2m66 0h1m67 0h1m67 0h1m66 0h2m-545 1h1m67 0h1m67 0h1m66 0h2m66 0h1m67 0h1m67 0h1m66 0h2m66 0h1m-544 1h1m67 0h1m66 0h2m66 0h1m67 0h1m67 0h1m66 0h2m66 0h1m67 0h1m-544 1h1m67 0h1m66 0h1m67 0h1m67 0h1m66 0h2m66 0h1m67 0h1m67 0h1m-544 1h1m66 0h2m66 0h1m67 0h1m67 0h1m66 0h1m67 0h1m67 0h1m67 0h1m-545 1h2m66 0h1m67 0h1m67 0h1m66 0h2m66 0h1m67 0h1m67 0h1m66 0h2m-545 1h1m67 0h1m67 0h1m66 0h2m66 0h1m67 0h1m67 0h1m66 0h2m66 0h1m-544 1h1m67 0h1m66 0h2m66 0h1m67 0h1m67 0h1m66 0h2m66 0h1m67 0h1m-544 1h1m66 0h2m66 0h1m67 0h1m67 0h1m66 0h2m66 0h1m67 0h1m67 0h1m-544 1h1m66 0h1m67 0h1m67 0h1m66 0h2m66 0h1m67 0h1m67 0h1m66 0h2m-545 1h2m66 0h1m67 0h1m67 0h1m66 0h1m67 0h1m67 0h1m67 0h1m66 0h1m-544 1h1m67 0h1m67 0h1m66 0h2m66 0h1m67 0h1m67 0h1m66 0h2m66 0h1m-544 1h1m67 0h1m66 0h2m66 0h1m67 0h1m67 0h1m66 0h2m66 0h1m67 0h1m-544 1h1m66 0h2m66 0h1m67 0h1m67 0h1m66 0h2m66 0h1m67 0h1m67 0h1m-545 1h2m66 0h1m67 0h1m67 0h1m66 0h2m66 0h1m67 0h1m67 0h1m66 0h2m-545 1h1m67 0h1m67 0h1m66 0h2m66 0h1m67 0h1m67 0h1m66 0h2m66 0h1m-544 1h1m67 0h1m67 0h1m66 0h1m67 0h1m67 0h1m67 0h1m66 0h1m67 0h1m-544 1h1m67 0h1m66 0h2m66 0h1m67 0h1m67 0h1m66 0h2m66 0h1m67 0h1m-544 1h1m66 0h2m66 0h1m67 0h1m67 0h1m66 0h2m66 0h1m67 0h1m67 0h1m-545 1h2m66 0h1m67 0h1m67 0h1m66 0h2m66 0h1m67 0h1m67 0h1m66 0h2m-545 1h1m67 0h1m67 0h1m66 0h2m66 0h1m67 0h1m67 0h1m66 0h2m66 0h1m-544 1h1m67 0h1m66 0h2m66 0h1m67 0h1m67 0h1m66 0h2m66 0h1m67 0h1m-544 1h1m67 0h1m66 0h1m67 0h1m67 0h1m67 0h1m66 0h1m67 0h1m67 0h1m-544 1h1m66 0h2m66 0h1m67 0h1m67 0h1m66 0h2m66 0h1m67 0h1m67 0h1m-545 1h2m66 0h1m67 0h1m67 0h1m66 0h2m66 0h1m67 0h1m67 0h1m66 0h2m-545 1h1m67 0h1m67 0h1m66 0h2m66 0h1m67 0h1m67 0h1m66 0h2m66 0h1m-544 1h1m67 0h1m66 0h2m66 0h1m67 0h1m67 0h1m66 0h2m66 0h1m67 0h1m-544 1h1m66 0h2m66 0h1m67 0h1m67 0h1m66 0h2m66 0h1m67 0h1m67 0h1m-544 1h1m66 0h1m67 0h1m67 0h1m67 0h1m66 0h1m67 0h1m67 0h1m66 0h2m-545 1h2m66 0h1m67 0h1m67 0h1m66 0h2m66 0h1m67 0h1m67 0h1m66 0h1m-544 1h1m67 0h1m67 0h1m66 0h2m66 0h1m67 0h1m67 0h1m66 0h2m66 0h1m-544 1h1m67 0h1m66 0h2m66 0h1m67 0h1m67 0h1m66 0h2m66 0h1m67 0h1m-544 1h1m66 0h2m66 0h1m67 0h1m67 0h1m66 0h2m66 0h1m67 0h1m67 0h1m-545 1h2m66 0h1m67 0h1m67 0h1m66 0h2m66 0h1m67 0h1m67 0h1m66 0h2m-545 1h1m67 0h1m67 0h1m67 0h1m66 0h1m67 0h1m67 0h1m66 0h2m66 0h1m-544 1h1m67 0h1m67 0h1m66 0h2m66 0h1m67 0h1m67 0h1m66 0h1m67 0h1m-544 1h1m67 0h1m66 0h2m66 0h1m67 0h1m67 0h1m66 0h2m66 0h1m67 0h1m-544 1h1m66 0h2m66 0h1m67 0h1m67 0h1m66 0h2m66 0h1m67 0h1m67 0h1m-545 1h2m66 0h1m67 0h1m67 0h1m66 0h2m66 0h1m67 0h1m67 0h1m66 0h2m-545 1h1m67 0h1m67 0h1m66 0h2m66 0h1m67 0h1m67 0h1m66 0h2m66 0h1m-544 1h1m67 0h1m67 0h1m66 0h1m67 0h1m67 0h1m66 0h2m66 0h1m67 0h1m-544 1h1m67 0h1m66 0h2m66 0h1m67 0h1m67 0h1m66 0h1m67 0h1m67 0h1m-544 1h1m66 0h2m66 0h1m67 0h1m67 0h1m66 0h2m66 0h1m67 0h1m67 0h1m-544 1h1m66 0h1m67 0h1m67 0h1m66 0h2m66 0h1m67 0h1m67 0h1m66 0h2m66 0h1m-544 1h1m67 0h1m66 0h2m66 0h1m67 0h1m67 0h1m66 0h2m66 0h1m67 0h1m-544 1h1m66 0h2m66 0h1m67 0h1m67 0h1m66 0h2m66 0h1m67 0h1m67 0h1m-544 1h1m66 0h1m67 0h1m67 0h1m66 0h2m66 0h1m67 0h1m67 0h1m66 0h2m-545 1h2m66 0h1m67 0h1m67 0h1m66 0h1m67 0h1m67 0h1m67 0h1m66 0h1m-544 1h1m67 0h1m67 0h1m66 0h2m66 0h1m67 0h1m67 0h1m66 0h2m66 0h1m-544 1h1m67 0h1m66 0h2m66 0h1m67 0h1m67 0h1m66 0h2m66 0h1m67 0h1m-544 1h1m66 0h2m66 0h1m67 0h1m67 0h1m66 0h2m66 0h1m67 0h1m67 0h1m-545 1h2m66 0h1m67 0h1m67 0h1m66 0h2m66 0h1m67 0h1m67 0h1m66 0h2m-545 1h1m67 0h1m67 0h1m67 0h1m66 0h1m67 0h1m67 0h1m66 0h2m66 0h1m-544 1h1m67 0h1m67 0h1m66 0h2m66 0h1m67 0h1m67 0h1m66 0h1m67 0h1m-544 1h1m67 0h1m66 0h2m66 0h1m67 0h1m67 0h1m66 0h2m66 0h1m67 0h1m-544 1h1m66 0h2m66 0h1m67 0h1m67 0h1m66 0h2m66 0h1m67 0h1m67 0h1m-545 1h2m66 0h1m67 0h1m67 0h1m66 0h2m66 0h1m67 0h1m67 0h1m66 0h2m-545 1h1m67 0h1m67 0h1m66 0h2m66 0h1m67 0h1m67 0h1m66 0h2m66 0h1m-544 1h1m67 0h1m67 0h1m66 0h1m67 0h1m67 0h1m66 0h2m66 0h1m67 0h1m-544 1h1m67 0h1m66 0h2m66 0h1m67 0h1m67 0h1m66 0h1m67 0h1m67 0h1m-544 1h1m66 0h2m66 0h1m67 0h1m67 0h1m66 0h2m66 0h1m67 0h1m67 0h1m-545 1h2m66 0h1m67 0h1m67 0h1m66 0h2m66 0h1m67 0h1m67 0h1m66 0h2m-545 1h1m67 0h1m67 0h1m66 0h2m66 0h1m67 0h1m67 0h1m66 0h2m66 0h1m-544 1h1m67 0h1m66 0h2m66 0h1m67 0h1m67 0h1m66 0h2m66 0h1m67 0h1m-544 1h1m67 0h1m66 0h1m67 0h1m67 0h1m66 0h2m66 0h1m67 0h1m67 0h1m-544 1h1m66 0h2m66 0h1m67 0h1m67 0h1m66 0h1m67 0h1m67 0h1m67 0h1m-545 1h2m66 0h1m67 0h1m67 0h1m66 0h2m66 0h1m67 0h1m67 0h1m66 0h2m-545 1h1m67 0h1m67 0h1m66 0h2m66 0h1m67 0h1m67 0h1m66 0h2m66 0h1m-544 1h1m67 0h1m66 0h2m66 0h1m67 0h1m67 0h1m66 0h2m66 0h1m67 0h1m-544 1h1m66 0h2m66 0h1m67 0h1m67 0h1m66 0h2m66 0h1m67 0h1m67 0h1m-544 1h1m66 0h1m67 0h1m67 0h1m66 0h2m66 0h1m67 0h1m67 0h1m66 0h2m-545 1h2m66 0h1m67 0h1m67 0h1m66 0h1m67 0h1m67 0h1m67 0h1m66 0h1m-544 1h1m67 0h1m67 0h1m66 0h2m66 0h1m67 0h1m67 0h1m66 0h2m66 0h1m-544 1h1m67 0h1m66 0h2m66 0h1m67 0h1m67 0h1m66 0h2m66 0h1m67 0h1m-544 1h1m66 0h2m66 0h1m67 0h1m67 0h1m66 0h2m66 0h1m67 0h1m67 0h1m-545 1h2m66 0h1m67 0h1m67 0h1m66 0h2m66 0h1m67 0h1m67 0h1m66 0h2m-545 1h1m67 0h1m67 0h1m66 0h2m66 0h1m67 0h1m67 0h1m66 0h2m66 0h1m-544 1h1m67 0h1m67 0h1m66 0h1m67 0h1m67 0h1m67 0h1m66 0h1m67 0h1m-544 1h1m67 0h1m66 0h2m66 0h1m67 0h1m67 0h1m66 0h2m66 0h1m67 0h1m-544 1h1m66 0h2m66 0h1m67 0h1m67 0h1m66 0h2m66 0h1m67 0h1m67 0h1m-545 1h2m66 0h1m67 0h1m67 0h1m66 0h2m66 0h1m67 0h1m67 0h1m66 0h2m-545 1h1m67 0h1m67 0h1m66 0h2m66 0h1m67 0h1m67 0h1m66 0h2m66 0h1m-544 1h1m67 0h1m66 0h2m66 0h1m67 0h1m67 0h1m66 0h2m66 0h1m67 0h1m-544 1h1m67 0h1m66 0h1m67 0h1m67 0h1m67 0h1m66 0h1m67 0h1m67 0h1m-544 1h1m66 0h2m66 0h1m67 0h1m67 0h1m66 0h2m66 0h1m67 0h1m67 0h1m-545 1h2m66 0h1m67 0h1m67 0h1m66 0h2m66 0h1m67 0h1m67 0h1m66 0h2m-545 1h1m67 0h1m67 0h1m66 0h2m66 0h1m67 0h1m67 0h1m66 0h2m66 0h1m-544 1h1m67 0h1m66 0h2m66 0h1m67 0h1m67 0h1m66 0h2m66 0h1m67 0h1m-544 1h1m66 0h2m66 0h1m67 0h1m67 0h1m66 0h2m66 0h1m67 0h1m67 0h1m-544 1h1m66 0h1m67 0h1m67 0h1m67 0h1m66 0h1m67 0h1m67 0h1m66 0h2m-545 1h2m66 0h1m67 0h1m67 0h1m66 0h2m66 0h1m67 0h1m67 0h1m66 0h1m-544 1h1m67 0h1m67 0h1m66 0h2m66 0h1m67 0h1m67 0h1m66 0h2m66 0h1m-544 1h1m67 0h1m66 0h2m66 0h1m67 0h1m67 0h1m66 0h2m66 0h1m67 0h1m-544 1h1m66 0h2m66 0h1m67 0h1m67 0h1m66 0h2m66 0h1m67 0h1m67 0h1m-545 1h2m66 0h1m67 0h1m67 0h1m66 0h2m66 0h1m67 0h1m67 0h1m66 0h2m-545 1h1m67 0h1m67 0h1m67 0h1m66 0h1m67 0h1m67 0h1m66 0h2m66 0h1m-544 1h1m67 0h1m67 0h1m66 0h2m66 0h1m67 0h1m67 0h1m66 0h1m67 0h1m-544 1h1m67 0h1m66 0h2m66 0h1m67 0h1m67 0h1m66 0h2m66 0h1m67 0h1m-544 1h1m66 0h2m66 0h1m67 0h1m67 0h1m66 0h2m66 0h1m67 0h1m67 0h1m-544 1h1m66 0h1m67 0h1m67 0h1m66 0h2m66 0h1m67 0h1m67 0h1m66 0h2m66 0h1m-544 1h1m67 0h1m66 0h2m66 0h1m67 0h1m67 0h1m66 0h2m66 0h1m67 0h1m-544 1h1m67 0h1m66 0h1m67 0h1m67 0h1m66 0h2m66 0h1m67 0h1m67 0h1m-544 1h1m66 0h2m66 0h1m67 0h1m67 0h1m66 0h1m67 0h1m67 0h1m67 0h1m-545 1h2m66 0h1m67 0h1m67 0h1m66 0h2m66 0h1m67 0h1m67 0h1m66 0h2m-545 1h1m67 0h1m67 0h1m66 0h2m66 0h1m67 0h1m67 0h1m66 0h2m66 0h1m-544 1h1m67 0h1m66 0h2m66 0h1m67 0h1m67 0h1m66 0h2m66 0h1m67 0h1m-544 1h1m66 0h2m66 0h1m67 0h1m67 0h1m66 0h2m66 0h1m67 0h1m67 0h1m-544 1h1m66 0h1m67 0h1m67 0h1m66 0h2m66 0h1m67 0h1m67 0h1m66 0h2m-545 1h2m66 0h1m67 0h1m67 0h1m66 0h1m67 0h1m67 0h1m67 0h1m66 0h1m-544 1h1m67 0h1m67 0h1m66 0h2m66 0h1m67 0h1m67 0h1m66 0h2m66 0h1m-544 1h1m67 0h1m66 0h2m66 0h1m67 0h1m67 0h1m66 0h2m66 0h1m67 0h1m-544 1h1m66 0h2m66 0h1m67 0h1m67 0h1m66 0h2m66 0h1m67 0h1m67 0h1m-545 1h2m66 0h1m67 0h1m67 0h1m66 0h2m66 0h1m67 0h1m67 0h1m66 0h2m-545 1h1m67 0h1m67 0h1m66 0h2m66 0h1m67 0h1m67 0h1m66 0h2m66 0h1m-544 1h1m67 0h1m67 0h1m66 0h1m67 0h1m67 0h1m67 0h1m66 0h1m67 0h1m-544 1h1m67 0h1m66 0h2m66 0h1m67 0h1m67 0h1m66 0h2m66 0h1m67 0h1m-544 1h1m66 0h2m66 0h1m67 0h1m67 0h1m66 0h2m66 0h1m67 0h1m67 0h1m-545 1h2m66 0h1m67 0h1m67 0h1m66 0h2m66 0h1m67 0h1m67 0h1m66 0h2m-545 1h1m67 0h1m67 0h1m66 0h2m66 0h1m67 0h1m67 0h1m66 0h2m66 0h1m-544 1h1m67 0h1m66 0h2m66 0h1m67 0h1m67 0h1m66 0h2m66 0h1m67 0h1m-544 1h1m67 0h1m66 0h1m67 0h1m67 0h1m67 0h1m66 0h1m67 0h1m67 0h1m-544 1h1m66 0h2m66 0h1m67 0h1m67 0h1m66 0h2m66 0h1m67 0h1m67 0h1m-545 1h2m66 0h1m67 0h1m67 0h1m66 0h2m66 0h1m67 0h1m67 0h1m66 0h2m-545 1h1m67 0h1m67 0h1m66 0h2m66 0h1m67 0h1m67 0h1m66 0h2m66 0h1m-544 1h1m67 0h1m66 0h2m66 0h1m67 0h1m67 0h1m66 0h2m66 0h1m67 0h1m-544 1h1m66 0h2m66 0h1m67 0h1m67 0h1m66 0h2m66 0h1m67 0h1m67 0h1m-544 1h1m66 0h1m67 0h1m67 0h1m67 0h1m66 0h1m67 0h1m67 0h1m67 0h1m-545 1h2m66 0h1m67 0h1m67 0h1m66 0h2m66 0h1m67 0h1m67 0h1m66 0h2m-545 1h1m67 0h1m67 0h1m66 0h2m66 0h1m67 0h1m67 0h1m66 0h2m66 0h1m-544 1h1m67 0h1m66 0h2m66 0h1m67 0h1m67 0h1m66 0h2m66 0h1m67 0h1m-544 1h1m66 0h2m66 0h1m67 0h1m67 0h1m66 0h2m66 0h1m67 0h1m67 0h1m-544 1h1m66 0h1m67 0h1m67 0h1m66 0h2m66 0h1m67 0h1m67 0h1m66 0h2m-545 1h2m66 0h1m67 0h1m67 0h1m66 0h1m67 0h1m67 0h1m67 0h1m66 0h1m-544 1h1m67 0h1m67 0h1m66 0h2m66 0h1m67 0h1m67 0h1m66 0h2m66 0h1m-544 1h1m67 0h1m66 0h2m66 0h1m67 0h1m67 0h1m66 0h2m66 0h1m67 0h1m-544 1h1m66 0h2m66 0h1m67 0h1m67 0h1m66 0h2m66 0h1m67 0h1m67 0h1m-545 1h2m66 0h1m67 0h1m67 0h1m66 0h2m66 0h1m67 0h1m67 0h1m66 0h2m-545 1h1m67 0h1m67 0h1m66 0h2m66 0h1m67 0h1m67 0h1m66 0h2m66 0h1m-544 1h1m67 0h1m67 0h1m66 0h1m67 0h1m67 0h1m67 0h1m66 0h1m67 0h1m-544 1h1m67 0h1m66 0h2m66 0h1m67 0h1m67 0h1m66 0h2m66 0h1m67 0h1m-544 1h1m66 0h2m66 0h1m67 0h1m67 0h1m66 0h2m66 0h1m67 0h1m67 0h1m-545 1h2m66 0h1m67 0h1m67 0h1m66 0h2m66 0h1m67 0h1m67 0h1m66 0h2m-545 1h1m67 0h1m67 0h1m66 0h2m66 0h1m67 0h1m67 0h1m66 0h2m66 0h1m-544 1h1m67 0h1m66 0h2m66 0h1m67 0h1m67 0h1m66 0h2m66 0h1m67 0h1m-544 1h1m67 0h1m66 0h1m67 0h1m67 0h1m67 0h1m66 0h1m67 0h1m67 0h1m-544 1h1m66 0h2m66 0h1m67 0h1m67 0h1m66 0h2m66 0h1m67 0h1m67 0h1m-545 1h2m66 0h1m67 0h1m67 0h1m66 0h2m66 0h1m67 0h1m67 0h1m66 0h2m-545 1h1m67 0h1m67 0h1m66 0h2m66 0h1m67 0h1m67 0h1m66 0h2m66 0h1m-544 1h1m67 0h1m66 0h2m66 0h1m67 0h1m67 0h1m66 0h2m66 0h1m67 0h1m-544 1h1m66 0h2m66 0h1m67 0h1m67 0h1m66 0h2m66 0h1m67 0h1m67 0h1m-544 1h1m66 0h1m67 0h1m67 0h1m67 0h1m66 0h1m67 0h1m67 0h1m66 0h2m-545 1h2m66 0h1m67 0h1m67 0h1m66 0h2m66 0h1m67 0h1m67 0h1m66 0h1m-544 1h1m67 0h1m67 0h1m66 0h2m66 0h1m67 0h1m67 0h1m66 0h2m66 0h1m-544 1h1m67 0h1m66 0h2m66 0h1m67 0h1m67 0h1m66 0h2m66 0h1m67 0h1m-544 1h1m66 0h2m66 0h1m67 0h1m67 0h1m66 0h2m66 0h1m67 0h1m67 0h1m-544 1h1m66 0h1m67 0h1m67 0h1m66 0h2m66 0h1m67 0h1m67 0h1m66 0h2m66 0h1m-544 1h1m67 0h1m67 0h1m66 0h1m67 0h1m67 0h1m66 0h2m66 0h1m67 0h1m-544 1h1m67 0h1m66 0h2m66 0h1m67 0h1m67 0h1m66 0h1m67 0h1m67 0h1m-544 1h1m66 0h2m66 0h1m67 0h1m67 0h1m66 0h2m66 0h1m67 0h1m67 0h1m-545 1h2m66 0h1m67 0h1m67 0h1m66 0h2m66 0h1m67 0h1m67 0h1m66 0h2m-545 1h1m67 0h1m67 0h1m66 0h2m66 0h1m67 0h1m67 0h1m66 0h2m66 0h1m-544 1h1m67 0h1m66 0h2m66 0h1m67 0h1m67 0h1m66 0h2m66 0h1m67 0h1m-544 1h1m67 0h1m66 0h1m67 0h1m67 0h1m66 0h2m66 0h1m67 0h1m67 0h1m-544 1h1m66 0h2m66 0h1m67 0h1m67 0h1m66 0h1m67 0h1m67 0h1m67 0h1m-545 1h2m66 0h1m67 0h1m67 0h1m66 0h2m66 0h1m67 0h1m67 0h1m66 0h2m-545 1h1m67 0h1m67 0h1m66 0h2m66 0h1m67 0h1m67 0h1m66 0h2m66 0h1m-544 1h1m67 0h1m66 0h2m66 0h1m67 0h1m67 0h1m66 0h2m66 0h1m67 0h1m-544 1h1m66 0h2m66 0h1m67 0h1m67 0h1m66 0h2m66 0h1m67 0h1m67 0h1m-544 1h1m66 0h1m67 0h1m67 0h1m66 0h2m66 0h1m67 0h1m67 0h1m66 0h2m-545 1h2m66 0h1m67 0h1m67 0h1m66 0h1m67 0h1m67 0h1m67 0h1m66 0h1m-544 1h1m67 0h1m67 0h1m66 0h2m66 0h1m67 0h1m67 0h1m66 0h2m66 0h1m-544 1h1m67 0h1m66 0h2m66 0h1m67 0h1m67 0h1m66 0h2m66 0h1m67 0h1m-544 1h1m66 0h2m66 0h1m67 0h1m67 0h1m66 0h2m66 0h1m67 0h1m67 0h1m-545 1h2m66 0h1m67 0h1m67 0h1m66 0h2m66 0h1m67 0h1m67 0h1m66 0h2m-545 1h1m67 0h1m67 0h1m66 0h2m66 0h1m67 0h1m67 0h1m66 0h2m66 0h1m-544 1h1m67 0h1m67 0h1m66 0h1m67 0h1m67 0h1m67 0h1m66 0h1m67 0h1m-544 1h1m67 0h1m66 0h2m66 0h1m67 0h1m67 0h1m66 0h2m66 0h1m67 0h1m-544 1h1m66 0h2m66 0h1m67 0h1m67 0h1m66 0h2m66 0h1m67 0h1m67 0h1m-545 1h2m66 0h1m67 0h1m67 0h1m66 0h2m66 0h1m67 0h1m67 0h1m66 0h2m-545 1h1m67 0h1m67 0h1m66 0h2m66 0h1m67 0h1m67 0h1m66 0h2m66 0h1m-544 1h1m67 0h1m66 0h2m66 0h1m67 0h1m67 0h1m66 0h2m66 0h1m67 0h1m-544 1h1m67 0h1m66 0h1m67 0h1m67 0h1m67 0h1m66 0h1m67 0h1m67 0h1m-544 1h1m66 0h2m66 0h1m67 0h1m67 0h1m66 0h2m66 0h1m67 0h1m67 0h1m-545 1h2m66 0h1m67 0h1m67 0h1m66 0h2m66 0h1m67 0h1m67 0h1m66 0h2m-545 1h1m67 0h1m67 0h1m66 0h2m66 0h1m67 0h1m67 0h1m66 0h2m66 0h1m-544 1h1m67 0h1m66 0h2m66 0h1m67 0h1m67 0h1m66 0h2m66 0h1m67 0h1m-544 1h1m66 0h2m66 0h1m67 0h1m67 0h1m66 0h2m66 0h1m67 0h1m67 0h1m-544 1h1m66 0h1m67 0h1m67 0h1m67 0h1m66 0h1m67 0h1m67 0h1m66 0h2m-545 1h2m66 0h1m67 0h1m67 0h1m66 0h2m66 0h1m67 0h1m67 0h1m66 0h1m-544 1h1m67 0h1m67 0h1m66 0h2m66 0h1m67 0h1m67 0h1m66 0h2m66 0h1m-544 1h1m67 0h1m66 0h2m66 0h1m67 0h1m67 0h1m66 0h2m66 0h1m67 0h1m-544 1h1m66 0h2m66 0h1m67 0h1m67 0h1m66 0h2m66 0h1m67 0h1m67 0h1m-545 1h2m66 0h1m67 0h1m67 0h1m66 0h2m66 0h1m67 0h1m67 0h1m66 0h2m-545 1h1m67 0h1m67 0h1m67 0h1m66 0h1m67 0h1m67 0h1m66 0h2m66 0h1m-544 1h1m67 0h1m67 0h1m66 0h2m66 0h1m67 0h1m67 0h1m66 0h1m67 0h1m-544 1h1m67 0h1m66 0h2m66 0h1m67 0h1m67 0h1m66 0h2m66 0h1m67 0h1m-544 1h1m66 0h2m66 0h1m67 0h1m67 0h1m66 0h2m66 0h1m67 0h1m67 0h1m-545 1h2m66 0h1m67 0h1m67 0h1m66 0h2m66 0h1m67 0h1m67 0h1m66 0h2m-545 1h1m67 0h1m67 0h1m66 0h2m66 0h1m67 0h1m67 0h1m66 0h2m66 0h1m-544 1h1m67 0h1m67 0h1m66 0h1m67 0h1m67 0h1m66 0h2m66 0h1m67 0h1m-544 1h1m67 0h1m66 0h2m66 0h1m67 0h1m67 0h1m66 0h1m67 0h1m67 0h1m-544 1h1m66 0h2m66 0h1m67 0h1m67 0h1m66 0h2m66 0h1m67 0h1m67 0h1m-545 1h2m66 0h1m67 0h1m67 0h1m66 0h2m66 0h1m67 0h1m67 0h1m66 0h2m-545 1h1m67 0h1m67 0h1m66 0h2m66 0h1m67 0h1m67 0h1m66 0h2m66 0h1m-544 1h1m67 0h1m66 0h2m66 0h1m67 0h1m67 0h1m66 0h2m66 0h1m67 0h1m-544 1h1m67 0h1m66 0h1m67 0h1m67 0h1m67 0h1m66 0h1m67 0h1m67 0h1m-544 1h1m66 0h2m66 0h1m67 0h1m67 0h1m66 0h2m66 0h1m67 0h1m67 0h1m-545 1h2m66 0h1m67 0h1m67 0h1m66 0h2m66 0h1m67 0h1m67 0h1m66 0h2m-545 1h1m67 0h1m67 0h1m66 0h2m66 0h1m67 0h1m67 0h1m66 0h2m66 0h1m-544 1h1m67 0h1m66 0h2m66 0h1m67 0h1m67 0h1m66 0h2m66 0h1m67 0h1m-544 1h1m66 0h2m66 0h1m67 0h1m67 0h1m66 0h2m66 0h1m67 0h1m67 0h1m-544 1h1m66 0h1m67 0h1m67 0h1m67 0h1m66 0h1m67 0h1m67 0h1m66 0h2m66 0h1m-544 1h1m67 0h1m67 0h1m66 0h2m66 0h1m67 0h1m67 0h1m66 0h1m67 0h1m-544 1h1m67 0h1m66 0h2m66 0h1m67 0h1m67 0h1m66 0h2m66 0h1m67 0h1m-544 1h1m66 0h2m66 0h1m67 0h1m67 0h1m66 0h2m66 0h1m67 0h1m67 0h1m-545 1h2m66 0h1m67 0h1m67 0h1m66 0h2m66 0h1m67 0h1m67 0h1m66 0h2m-545 1h1m67 0h1m67 0h1m66 0h2m66 0h1m67 0h1m67 0h1m66 0h2m66 0h1m-544 1h1m67 0h1m67 0h1m66 0h1m67 0h1m67 0h1m66 0h2m66 0h1m67 0h1m-544 1h1m67 0h1m66 0h2m66 0h1m67 0h1m67 0h1m66 0h1m67 0h1m67 0h1m-544 1h1m66 0h2m66 0h1m67 0h1m67 0h1m66 0h2m66 0h1m67 0h1m67 0h1m-545 1h2m66 0h1m67 0h1m67 0h1m66 0h2m66 0h1m67 0h1m67 0h1m66 0h2m-545 1h1m67 0h1m67 0h1m66 0h2m66 0h1m67 0h1m67 0h1m66 0h2m66 0h1m-544 1h1m67 0h1m66 0h2m66 0h1m67 0h1m67 0h1m66 0h2m66 0h1m67 0h1m-544 1h1m67 0h1m66 0h1m67 0h1m67 0h1m66 0h2m66 0h1m67 0h1m67 0h1m-544 1h1m66 0h2m66 0h1m67 0h1m67 0h1m66 0h1m67 0h1m67 0h1m67 0h1m-545 1h2m66 0h1m67 0h1m67 0h1m66 0h2m66 0h1m67 0h1m67 0h1m66 0h2m-545 1h1m67 0h1m67 0h1m66 0h2m66 0h1m67 0h1m67 0h1m66 0h2m66 0h1m-544 1h1m67 0h1m66 0h2m66 0h1m67 0h1m67 0h1m66 0h2m66 0h1m67 0h1m-544 1h1m66 0h2m66 0h1m67 0h1m67 0h1m66 0h2m66 0h1m67 0h1m67 0h1m-544 1h1m66 0h1m67 0h1m67 0h1m66 0h2m66 0h1m67 0h1m67 0h1m66 0h2m-545 1h2m66 0h1m67 0h1m67 0h1m66 0h1m67 0h1m67 0h1m67 0h1m66 0h1m-544 1h1m67 0h1m67 0h1m66 0h2m66 0h1m67 0h1m67 0h1m66 0h2m66 0h1m-544 1h1m67 0h1m66 0h2m66 0h1m67 0h1m67 0h1m66 0h2m66 0h1m67 0h1m-544 1h1m66 0h2m66 0h1m67 0h1m67 0h1m66 0h2m66 0h1m67 0h1m67 0h1m-545 1h2m66 0h1m67 0h1m67 0h1m66 0h2m66 0h1m67 0h1m67 0h1m66 0h2m-545 1h1m67 0h1m67 0h1m66 0h2m66 0h1m67 0h1m67 0h1m66 0h2m66 0h1m-544 1h1m67 0h1m67 0h1m66 0h1m67 0h1m67 0h1m67 0h1m66 0h1m67 0h1m-544 1h1m67 0h1m66 0h2m66 0h1m67 0h1m67 0h1m66 0h2m66 0h1m67 0h1m-544 1h1m66 0h2m66 0h1m67 0h1m67 0h1m66 0h2m66 0h1m67 0h1m67 0h1m-545 1h2m66 0h1m67 0h1m67 0h1m66 0h2m66 0h1m67 0h1m67 0h1m66 0h2m-545 1h1m67 0h1m67 0h1m66 0h2m66 0h1m67 0h1m67 0h1m66 0h2m66 0h1m-544 1h1m67 0h1m66 0h2m66 0h1m67 0h1m67 0h1m66 0h2m66 0h1m67 0h1m-544 1h1m67 0h1m66 0h1m67 0h1m67 0h1m67 0h1m66 0h1m67 0h1m67 0h1m-544 1h1m66 0h2m66 0h1m67 0h1m67 0h1m66 0h2m66 0h1m67 0h1m67 0h1m-545 1h2m66 0h1m67 0h1m67 0h1m66 0h2m66 0h1m67 0h1m67 0h1m66 0h2m-545 1h1m67 0h1m67 0h1m66 0h2m66 0h1m67 0h1m67 0h1m66 0h2m66 0h1m-544 1h1m67 0h1m66 0h2m66 0h1m67 0h1m67 0h1m66 0h2m66 0h1m67 0h1m-544 1h1m66 0h2m66 0h1m67 0h1m67 0h1m66 0h2m66 0h1m67 0h1m67 0h1m-544 1h1m66 0h1m67 0h1m67 0h1m67 0h1m66 0h1m67 0h1m67 0h1m66 0h2m-545 1h2m66 0h1m67 0h1m67 0h1m66 0h2m66 0h1m67 0h1m67 0h1m66 0h1m-544 1h1m67 0h1m67 0h1m66 0h2m66 0h1m67 0h1m67 0h1m66 0h2m66 0h1m-544 1h1m67 0h1m66 0h2m66 0h1m67 0h1m67 0h1m66 0h2m66 0h1m67 0h1m-544 1h1m66 0h2m66 0h1m67 0h1m67 0h1m66 0h2m66 0h1m67 0h1m67 0h1m-545 1h2m66 0h1m67 0h1m67 0h1m66 0h2m66 0h1m67 0h1m67 0h1m66 0h2m-545 1h1m67 0h1m67 0h1m67 0h1m66 0h1m67 0h1m67 0h1m66 0h2m66 0h1m-544 1h1m67 0h1m67 0h1m66 0h2m66 0h1m67 0h1m67 0h1m66 0h1m67 0h1m-544 1h1m67 0h1m66 0h2m66 0h1m67 0h1m67 0h1m66 0h2m66 0h1m67 0h1m-544 1h1m66 0h2m66 0h1m67 0h1m67 0h1m66 0h2m66 0h1m67 0h1m67 0h1m-545 1h2m66 0h1m67 0h1m67 0h1m66 0h2m66 0h1m67 0h1m67 0h1m66 0h2m-545 1h1m67 0h1m67 0h1m66 0h2m66 0h1m67 0h1m67 0h1m66 0h2m66 0h1m-544 1h1m67 0h1m67 0h1m66 0h1m67 0h1m67 0h1m66 0h2m66 0h1m67 0h1m-544 1h1m67 0h1m66 0h2m66 0h1m67 0h1m67 0h1m66 0h1m67 0h1m67 0h1m-544 1h1m66 0h2m66 0h1m67 0h1m67 0h1m66 0h2m66 0h1m67 0h1m67 0h1m-545 1h2m66 0h1m67 0h1m67 0h1m66 0h2m66 0h1m67 0h1m67 0h1m66 0h2m-545 1h1m67 0h1m67 0h1m66 0h2m66 0h1m67 0h1m67 0h1m66 0h2m66 0h1m-544 1h1m67 0h1m66 0h2m66 0h1m67 0h1m67 0h1m66 0h2m66 0h1m67 0h1m-544 1h1m67 0h1m66 0h1m67 0h1m67 0h1m66 0h2m66 0h1m67 0h1m67 0h1m-544 1h1m66 0h2m66 0h1m67 0h1m67 0h1m66 0h1m67 0h1m67 0h1m67 0h1m66 0h1m-544 1h1m67 0h1m67 0h1m66 0h2m66 0h1m67 0h1m67 0h1m66 0h2m66 0h1m-544 1h1m67 0h1m66 0h2m66 0h1m67 0h1m67 0h1m66 0h2m66 0h1m67 0h1m-544 1h1m66 0h2m66 0h1m67 0h1m67 0h1m66 0h2m66 0h1m67 0h1m67 0h1m-545 1h2m66 0h1m67 0h1m67 0h1m66 0h2m66 0h1m67 0h1m67 0h1m66 0h2m-545 1h1m67 0h1m67 0h1m66 0h2m66 0h1m67 0h1m67 0h1m66 0h2m66 0h1m-544 1h1m67 0h1m67 0h1m66 0h1m67 0h1m67 0h1m67 0h1m66 0h1m67 0h1m-544 1h1m67 0h1m66 0h2m66 0h1m67 0h1m67 0h1m66 0h2m66 0h1m67 0h1m-544 1h1m66 0h2m66 0h1m67 0h1m67 0h1m66 0h2m66 0h1m67 0h1m67 0h1m-545 1h2m66 0h1m67 0h1m67 0h1m66 0h2m66 0h1m67 0h1m67 0h1m66 0h2m-545 1h1m67 0h1m67 0h1m66 0h2m66 0h1m67 0h1m67 0h1m66 0h2m66 0h1m-544 1h1m67 0h1m66 0h2m66 0h1m67 0h1m67 0h1m66 0h2m66 0h1m67 0h1m-544 1h1m67 0h1m66 0h1m67 0h1m67 0h1m67 0h1m66 0h1m67 0h1m67 0h1m-544 1h1m66 0h2m66 0h1m67 0h1m67 0h1m66 0h2m66 0h1m67 0h1m67 0h1m-545 1h2m66 0h1m67 0h1m67 0h1m66 0h2m66 0h1m67 0h1m67 0h1m66 0h2m-545 1h1m67 0h1m67 0h1m66 0h2m66 0h1m67 0h1m67 0h1m66 0h2m66 0h1m-544 1h1m67 0h1m66 0h2m66 0h1m67 0h1m67 0h1m66 0h2m66 0h1m67 0h1m-544 1h1m67 0h1m66 0h1m67 0h1m67 0h1m66 0h2m66 0h1m67 0h1m67 0h1m-544 1h1m66 0h2m66 0h1m67 0h1m67 0h1m66 0h1m67 0h1m67 0h1m67 0h1m-545 1h2m66 0h1m67 0h1m67 0h1m66 0h2m66 0h1m67 0h1m67 0h1m66 0h2m-545 1h1m67 0h1m67 0h1m66 0h2m66 0h1m67 0h1m67 0h1m66 0h2m66 0h1m-544 1h1m67 0h1m66 0h2m66 0h1m67 0h1m67 0h1m66 0h2m66 0h1m67 0h1m-544 1h1m66 0h2m66 0h1m67 0h1m67 0h1m66 0h2m66 0h1m67 0h1m67 0h1m-544 1h1m66 0h1m67 0h1m67 0h1m66 0h2m66 0h1m67 0h1m67 0h1m66 0h2m-545 1h2m66 0h1m67 0h1m67 0h1m66 0h1m67 0h1m67 0h1m67 0h1m66 0h1m-544 1h1m67 0h1m67 0h1m66 0h2m66 0h1m67 0h1m67 0h1m66 0h2m66 0h1m-544 1h1m67 0h1m66 0h2m66 0h1m67 0h1m67 0h1m66 0h2m66 0h1m67 0h1m-544 1h1m66 0h2m66 0h1m67 0h1m67 0h1m66 0h2m66 0h1m67 0h1m67 0h1m-545 1h2m66 0h1m67 0h1m67 0h1m66 0h2m66 0h1m67 0h1m67 0h1m66 0h2m-545 1h1m67 0h1m67 0h1m66 0h2m66 0h1m67 0h1m67 0h1m66 0h2m66 0h1m-544 1h1m67 0h1m67 0h1m66 0h1m67 0h1m67 0h1m67 0h1m66 0h1m67 0h1m-544 1h1m67 0h1m66 0h2m66 0h1m67 0h1m67 0h1m66 0h2m66 0h1m67 0h1m-544 1h1m66 0h2m66 0h1m67 0h1m67 0h1m66 0h2m66 0h1m67 0h1m67 0h1m-545 1h2m66 0h1m67 0h1m67 0h1m66 0h2m66 0h1m67 0h1m67 0h1m66 0h2m-545 1h1m67 0h1m67 0h1m66 0h2m66 0h1m67 0h1m67 0h1m66 0h2m66 0h1m-544 1h1m67 0h1m66 0h2m66 0h1m67 0h1m67 0h1m66 0h2m66 0h1m67 0h1m-544 1h1m67 0h1m66 0h1m67 0h1m67 0h1m67 0h1m66 0h1m67 0h1m67 0h1m-544 1h1m66 0h2m66 0h1m67 0h1m67 0h1m66 0h2m66 0h1m67 0h1m67 0h1m-545 1h2m66 0h1m67 0h1m67 0h1m66 0h2m66 0h1m67 0h1m67 0h1m66 0h2m-545 1h1m67 0h1m67 0h1m66 0h2m66 0h1m67 0h1m67 0h1m66 0h2m66 0h1m-544 1h1m67 0h1m66 0h2m66 0h1m67 0h1m67 0h1m66 0h2m66 0h1m67 0h1m-544 1h1m66 0h2m66 0h1m67 0h1m67 0h1m66 0h2m66 0h1m67 0h1m67 0h1m-544 1h1m66 0h1m67 0h1m67 0h1m67 0h1m66 0h1m67 0h1m67 0h1m66 0h2m-545 1h2m66 0h1m67 0h1m67 0h1m66 0h2m66 0h1m67 0h1m67 0h1m66 0h1m-544 1h1m67 0h1m67 0h1m66 0h2m66 0h1m67 0h1m67 0h1m66 0h2m66 0h1m-544 1h1m67 0h1m66 0h2m66 0h1m67 0h1m67 0h1m66 0h2m66 0h1m67 0h1m-544 1h1m66 0h2m66 0h1m67 0h1m67 0h1m66 0h2m66 0h1m67 0h1m67 0h1m-545 1h2m66 0h1m67 0h1m67 0h1m66 0h2m66 0h1m67 0h1m67 0h1m66 0h2m-545 1h1m67 0h1m67 0h1m67 0h1m66 0h1m67 0h1m67 0h1m66 0h2m66 0h1m-544 1h1m67 0h1m67 0h1m66 0h2m66 0h1m67 0h1m67 0h1m66 0h1m67 0h1m-544 1h1m67 0h1m66 0h2m66 0h1m67 0h1m67 0h1m66 0h2m66 0h1m67 0h1m-544 1h1m66 0h2m66 0h1m67 0h1m67 0h1m66 0h2m66 0h1m67 0h1m67 0h1m-545 1h2m66 0h1m67 0h1m67 0h1m66 0h2m66 0h1m67 0h1m67 0h1m66 0h2m-545 1h1m67 0h1m67 0h1m66 0h2m66 0h1m67 0h1m67 0h1m66 0h2m66 0h1m-544 1h1m67 0h1m67 0h1m66 0h1m67 0h1m67 0h1m66 0h2m66 0h1m67 0h1m-544 1h1m67 0h1m66 0h2m66 0h1m67 0h1m67 0h1m66 0h1m67 0h1m67 0h1m-544 1h1m66 0h2m66 0h1m67 0h1m67 0h1m66 0h2m66 0h1m67 0h1m67 0h1m66 0h1"/>
<path stroke="#0000ff" d="M361 74.5h1m-2 1h2m-2 1h1m-2 1h2m-2 1h1m-1 1h1m-2 1h2m-2 1h1m-1 1h1m-2 1h2m-2 1h1m-2 1h2m-2 1h1m-1 1h1m-2 1h2m-2 1h1m-1 1h1m-2 1h2m-2 1h1m-2 1h2m-2 1h1m-1 1h1m-2 1h2m-2 1h1m-2 1h2m-2 1h2m-2 1h1m-2 1h2m-2 1h1m-1 1h1m-2 1h2m-2 1h1m-1 1h1m-2 1h2m-2 1h1m-1 1h1m-2 1h2m-2 1h1m-1 1h1m-2 1h2m-2 1h1m-1 1h1m-2 1h2m-2 1h1m-2 1h2m-2 1h1m-1 1h1m-2 1h2m-2 1h1m-1 1h1m-2 1h2m-2 1h1m-1 1h1m-2 1h2m-2 1h1m-2 1h2m-2 1h1m-1 1h1m-2 1h2m-2 1h1m-1 1h1m-2 1h2m-2 1h1m-2 1h2m-2 1h1m-1 1h1m-2 1h2m-2 1h1m-2 1h2m-2 1h1m-1 1h1m-2 1h2m-2 1h1m-1 1h1m-1 1h1m-1 1h1m-1 1h1m-1 1h2m-1 1h1m-1 1h1m-1 1h2m-1 1h1m-1 1h1m-1 1h1m-1 1h2m-1 1h1m-1 1h1m-1 1h2m-1 1h1m-1 1h1m-1 1h1m-1 1h2m-1 1h1m-1 1h1m-1 1h2m-1 1h1m-1 1h1m-1 1h1m-1 1h2m-1 1h1m-1 1h1m-1 1h2m-1 1h1m-1 1h1m-1 1h1m-1 1h2m-1 1h1m-1 1h1m-1 1h2m-1 1h1m-1 1h1m-1 1h1m-1 1h2m-1 1h1m-1 1h1m-1 1h2m-1 1h1m-1 1h1m-1 1h1m-1 1h2m-1 1h1m-1 1h1m-1 1h2m-1 1h1m-1 1h1m-1 1h2m-1 1h1m-1 1h1m-1 1h2m-1 1h1m-1 1h2m-1 1h2m-1 1h1m-1 1h2m-1 1h1m-1 1h2m-1 1h1m-1 1h2m-1 1h1m-1 1h2m-1 1h2m-1 1h1m-1 1h2m-1 1h1m-1 1h2m-1 1h2m-2 1h2m-1 1h2m-1 1h1m-1 1h2m-1 1h1m-1 1h2m-1 1h1m-1 1h2m-1 1h1m-1 1h2m-1 1h2m-1 1h1m-1 1h2m-1 1h1m-1 1h2m-1 1h1m-1 1h2m-1 1h1m-1 1h2m-1 1h2m-1 1h1m-1 1h2m-1 1h1m-1 1h1m-1 1h2m-1 1h1m-1 1h1m-1 1h1m-1 1h1m-1 1h2m-1 1h1m-1 1h1m-1 1h1m-1 1h1m-1 1h1m-1 1h2m-1 1h1m-1 1h1m-1 1h1m-1 1h1m-1 1h1m-1 1h2m-1 1h1m-1 1h1m-1 1h1m-1 1h1m-1 1h2m-1 1h1m-1 1h1m-1 1h1m-1 1h1m-1 1h2m-1 1h1m-1 1h1m-1 1h1m-1 1h2m-1 1h1m-1 1h1m-1 1h1m-1 1h1m-1 1h1m-1 1h2m-1 1h1m-1 1h1m-1 1h1m-1 1h1m-1 1h2m-1 1h1m-1 1h1m-1 1h1m-1 1h1m-1 1h2m-1 1h1m-1 1h1m-1 1h1m-1 1h1m-1 1h2m-1 1h1m-1 1h1m-1 1h1m-1 1h1m-1 1h1m-1 1h2m-1 1h1m-1 1h1m-1 1h1m-1 1h1m-1 1h2m-1 1h1m-1 1h1m-1 1h1m-1 1h1m-1 1h2m-1 1h1m-1 1h1m-1 1h1m-1 1h1m-1 1h2m-1 1h1m-1 1h1m-1 1h1m-1 1h1m-1 1h2m-1 1h1m-1 1h1m-1 1h1m-1 1h1m-1 1h1m-1 1h1m-1 1h1m-1 1h2m-1 1h1m-1 1h1m-1 1h1m-1 1h1m-1 1h1m-1 1h1m-1 1h1m-1 1h1m-1 1h1m-1 1h1m-1 1h1m-1 1h1m-1 1h1m-1 1h2m-1 1h1m-1 1h1m-1 1h1m-1 1h1m-1 1h1m-1 1h1m-1 1h1m-1 1h1m-1 1h1m-1 1h1m-1 1h1m-1 1h1m-1 1h1m-1 1h1m-1 1h1m-1 1h1m-1 1h1m-1 1h1m-1 1h1m-1 1h1m-1 1h1m-1 1h1m-1 1h1m-1 1h1m-1 1h1m-1 1h1m-1 1h1m-1 1h1m-1 1h1m-1 1h1m-1 1h1m-1 1h1m-1 1h1m-1 1h1m-2 1h2m-2 1h1m-1 1h1m-1 1h1m-1 1h1m-1 1h1m-1 1h1m-1 1h1m-1 1h1m-1 1h1m-1 1h1m-1 1h1m-1 1h1m-1 1h1m-1 1h1m-1 1h1m-1 1h1m-1 1h1m-2 1h2m-2 1h1m-1 1h1m-1 1h1m-1 1h2m-1 1h1m-1 1h2m-1 1h2m-1 1h1m-1 1h2m-1 1h2m-1 1h1m-1 1h2m-1 1h2m-1 1h1m-1 1h2m-1 1h2m-1 1h1m-1 1h2m-1 1h2m-1 1h1m-1 1h2m-1 1h1m-1 1h2m-1 1h2m-1 1h1m-1 1h2m-1 1h1m-1 1h2m-1 1h2m-1 1h1m-1 1h2m-1 1h2m-1 1h2m-1 1h2m-1 1h2m-1 1h2m-1 1h2m-1 1h2m-1 1h2m-1 1h2m-1 1h3m-2 1h3m-1 1h2m-1 1h2m-1 1h2m-1 1h2m-1 1h2m-1 1h2m-1 1h2m-1 1h3m-2 1h3m-1 1h2m-1 1h2m-1 1h3m-2 1h3m-1 1h2m-1 1h2m-1 1h2m-1 1h3m-2 1h3m-1 1h2m-1 1h2m-1 1h2m-1 1h2m-1 1h2m-1 1h3m-2 1h3m-2 1h3m-1 1h3m-2 1h3m-1 1h3m-2 1h3m-1 1h2m-1 1h3m-2 1h3m-1 1h3m-2 1h3m-1 1h2m-1 1h2m-1 1h3m-2 1h3m-1 1h2m-1 1h3m-2 1h2m-2 1h2m-2 1h1m-1 1h1m-1 1h1m-2 1h2m-2 1h1m-1 1h1m-1 1h1m-1 1h1m-1 1h1m-1 1h1m-1 1h1m-1 1h1m-2 1h2m-2 1h1m-1 1h1m-1 1h1"/>
<path stroke="#ff0000" d="M584 74.5h1m-1 1h1m-2 1h2m-2 1h1m-2 1h2m-3 1h2m-2 1h1m-2 1h2m-3 1h2m-2 1h1m-2 1h2m-3 1h2m-3 1h2m-3 1h2m-2 1h1m-2 1h2m-3 1h2m-3 1h2m-3 1h2m-2 1h1m-2 1h2m-3 1h2m-3 1h2m-3 1h2m-2 1h1m-2 1h2m-3 1h2m-3 1h2m-3 1h2m-3 1h2m-3 1h2m-2 1h1m-2 1h2m-3 1h2m-3 1h2m-3 1h2m-3 1h2m-3 1h2m-2 1h1m-2 1h2m-3 1h2m-3 1h2m-3 1h2m-3 1h2m-2 1h1m-2 1h2m-3 1h2m-3 1h2m-3 1h2m-2 1h1m-2 1h2m-3 1h2m-3 1h2m-3 1h2m-2 1h1m-2 1h2m-3 1h2m-3 1h2m-2 1h1m-2 1h2m-3 1h2m-3 1h2m-3 1h2m-3 1h2m-2 1h1m-2 1h2m-3 1h2m-3 1h2m-3 1h2m-2 1h1m-2 1h2m-3 1h2m-3 1h2m-3 1h2m-3 1h2m-3 1h2m-3 1h2m-4 1h3m-4 1h3m-4 1h2m-3 1h2m-4 1h3m-4 1h3m-4 1h2m-3 1h2m-3 1h2m-4 1h3m-4 1h3m-4 1h2m-3 1h2m-4 1h3m-4 1h3m-4 1h2m-3 1h2m-3 1h2m-4 1h3m-4 1h3m-4 1h2m-3 1h2m-4 1h3m-4 1h3m-4 1h2m-4 1h3m-4 1h3m-4 1h2m-4 1h3m-4 1h3m-4 1h2m-3 1h2m-4 1h3m-4 1h3m-4 1h2m-4 1h3m-4 1h3m-4 1h2m-4 1h3m-4 1h3m-4 1h2m-4 1h3m-4 1h3m-4 1h2m-3 1h2m-4 1h3m-4 1h3m-4 1h2m-4 1h3m-4 1h3m-5 1h3m-4 1h3m-4 1h3m-4 1h2m-4 1h3m-4 1h3m-5 1h3m-4 1h3m-4 1h2m-4 1h3m-4 1h3m-4 1h2m-4 1h3m-4 1h3m-5 1h3m-4 1h3m-4 1h2m-4 1h3m-4 1h3m-4 1h3m-5 1h3m-4 1h3m-4 1h2m-4 1h3m-4 1h3m-4 1h2m-3 1h2m-4 1h3m-4 1h3m-4 1h2m-4 1h3m-4 1h3m-4 1h2m-4 1h3m-4 1h3m-4 1h2m-3 1h2m-4 1h3m-4 1h3m-4 1h3m-3 1h3m-3 1h3m-3 1h3m-3 1h3m-3 1h3m-3 1h3m-3 1h3m-3 1h3m-3 1h3m-3 1h3m-3 1h3m-3 1h3m-3 1h3m-3 1h3m-3 1h3m-3 1h3m-3 1h3m-3 1h3m-3 1h3m-3 1h3m-3 1h3m-3 1h3m-3 1h3m-3 1h3m-3 1h3m-3 1h3m-3 1h3m-3 1h3m-3 1h3m-3 1h3m-3 1h3m-3 1h3m-3 1h3m-3 1h3m-3 1h3m-3 1h3m-1 1h2m-1 1h1m-1 1h2m-1 1h2m-1 1h2m-1 1h2m-1 1h2m-1 1h1m-1 1h2m-1 1h2m-1 1h2m-1 1h2m-1 1h2m-1 1h2m-1 1h1m-1 1h2m-1 1h2m-1 1h2m-1 1h2m-1 1h2m-1 1h1m-1 1h2m-1 1h2m-1 1h2m-1 1h2m-1 1h2m-1 1h2m-1 1h2m-1 1h2m-1 1h1m-1 1h2m-1 1h2m-1 1h2m-1 1h2m-1 1h2m-1 1h2m-1 1h2m-1 1h2m-1 1h1m-1 1h2m-1 1h3m-2 1h2m-1 1h2m-1 1h2m-1 1h2m-1 1h2m-1 1h1m-1 1h2m-1 1h2m-1 1h2m-1 1h2m-1 1h2m-1 1h2m-1 1h2m-1 1h2m-1 1h2m-1 1h2m-1 1h1m-1 1h2m-1 1h2m-1 1h2m-1 1h2m-1 1h2m-1 1h2m-1 1h2m-1 1h2m-1 1h2m-1 1h2m-1 1h2m-1 1h2m-1 1h2m-1 1h2m-1 1h2m-1 1h2m-1 1h1m-1 1h2m-1 1h2m-1 1h2m-1 1h2m-1 1h2m-1 1h2m-1 1h2m-1 1h2m-1 1h2m-1 1h2m-1 1h2m-1 1h2m-1 1h2m-1 1h2m-1 1h2m-1 1h2m-1 1h1m-1 1h2m-1 1h2m-1 1h1m-1 1h2m-1 1h2m-1 1h2m-1 1h1m-1 1h2m-1 1h2m-1 1h2m-1 1h1m-1 1h2m-1 1h2m-1 1h2m-2 1h2m-1 1h2m-1 1h2m-1 1h1m-1 1h2m-1 1h2m-1 1h1m-1 1h2m-1 1h2m-1 1h1m-1 1h2m-1 1h2m-1 1h2m-1 1h1m-1 1h2m-1 1h2m-1 1h1m-1 1h2m-1 1h1m-1 1h2m-1 1h1m-1 1h1m-1 1h2m-1 1h1m-1 1h1m-1 1h2m-1 1h1m-1 1h1m-1 1h1m-1 1h2m-1 1h1m-1 1h1m-1 1h2m-1 1h1m-1 1h1m-1 1h2m-1 1h1m-1 1h1m-1 1h2m-1 1h1m-1 1h1m-1 1h2m-1 1h1m-1 1h1m-1 1h2m-1 1h1m-1 1h1m-1 1h2m-1 1h2m-1 1h1m-1 1h2m-1 1h2m-1 1h1m-1 1h2m-1 1h2m-1 1h1m-1 1h2m-1 1h2m-1 1h2m-1 1h1m-1 1h2m-1 1h2m-1 1h1m-1 1h2m-1 1h1m-1 1h2m-1 1h2m-1 1h1m-1 1h2m-1 1h1m-1 1h2m-1 1h1m-1 1h2m-1 1h1m-1 1h2m-1 1h1m-1 1h2m-1 1h1m-1 1h2m-1 1h2m-1 1h1m-1 1h1m-1 1h1m-1 1h1m-1 1h1m-1 1h1m-1 1h2m-1 1h1m-1 1h1m-1 1h1m-1 1h1m-1 1h1m-1 1h1m-1 1h1m-1 1h2m-2 1h3m-3 1h3m-3 1h3m-5 1h3m-5 1h4m-5 1h3m-5 1h3m-5 1h4m-5 1h3m-5 1h3m-4 1h3m-5 1h3m-5 1h4m-5 1h3m-5 1h3m-5 1h4m-5 1h3m-5 1h3m-5 1h4m-5 1h3m-3 1h1"/>
<path stroke="#000" d="M87 74.5h1m-1 1h1m-1 1h1m-1 1h1m-1 1h1m-1 1h1m-1 1h1m-1 1h1m-1 1h1m-1 1h1m-1 1h1m-1 1h1m-1 1h1m-1 1h1m-1 1h1m-1 1h1m-1 1h1m-1 1h1m-1 1h1m-1 1h1m-1 1h1m-1 1h1m-1 1h1m-1 1h1m-1 1h1m-1 1h1m-1 1h1m-1 1h1m-1 1h1m-1 1h1m-1 1h1m-1 1h1m-1 1h1m-1 1h1m-1 1h1m-1 1h1m-1 1h1m-1 1h1m-1 1h1m-1 1h1m-1 1h1m-1 1h1m-1 1h1m-1 1h1m-1 1h1m-1 1h1m-1 1h1m-1 1h1m-1 1h1m-1 1h1m-1 1h1m-1 1h1m-1 1h1m-1 1h1m-1 1h1m-1 1h1m-1 1h1m-1 1h1m-1 1h1m-1 1h1m-1 1h1m-1 1h1m-1 1h1m-1 1h1m-1 1h1m-1 1h1m-1 1h1m-1 1h1m-1 1h1m-1 1h1m-1 1h1m-1 1h1m-1 1h1m-1 1h1m-1 1h1m-1 1h1m-1 1h1m-1 1h1m-1 1h1m-1 1h1m-1 1h1m-1 1h1m-1 1h1m-1 1h1m-1 1h1m-1 1h1m-1 1h1m-1 1h1m-1 1h1m-1 1h1m-1 1h1m-1 1h1m-1 1h1m-1 1h1m-1 1h1m-1 1h1m-1 1h1m-1 1h1m-1 1h1m-1 1h1m-1 1h1m-1 1h1m-1 1h1m-1 1h1m-1 1h1m-1 1h1m-1 1h1m-1 1h1m-1 1h1m-1 1h1m-1 1h1m-1 1h1m-1 1h1m-1 1h1m-1 1h1m-1 1h1m-1 1h1m-1 1h1m-1 1h1m-1 1h1m-1 1h1m-1 1h1m-1 1h1m-1 1h1m-1 1h1m-1 1h1m-1 1h1m-1 1h1m-1 1h1m-1 1h1m-1 1h1m-1 1h1m-1 1h1m-1 1h1m-1 1h1m-1 1h1m-1 1h1m-1 1h1m-1 1h1m-1 1h1m-1 1h1m-1 1h1m-1 1h1m-1 1h1m-1 1h1m-1 1h1m-1 1h1m-1 1h1m-1 1h1m-1 1h1m-1 1h1m-1 1h1m-1 1h1m-1 1h1m-1 1h1m-1 1h1m-1 1h1m-1 1h1m-1 1h1m-1 1h1m-1 1h1m-1 1h1m-1 1h1m-1 1h1m-1 1h1m-1 1h1m-1 1h1m-1 1h1m-1 1h1m-1 1h1m-1 1h1m-1 1h1m-1 1h1m-1 1h1m-1 1h1m-1 1h1m-1 1h1m-1 1h1m-1 1h1m-1 1h1m-1 1h1m-1 1h1m-1 1h1m-1 1h1m-1 1h1m-1 1h1m-1 1h1m-1 1h1m-1 1h1m-1 1h1m-1 1h1m-1 1h1m-1 1h1m-1 1h1m-1 1h1m-1 1h1m-1 1h1m-1 1h1m-1 1h1m-1 1h1m-1 1h1m-1 1h1m-1 1h1m-1 1h1m-1 1h1m-1 1h1m-1 1h1m-1 1h1m-1 1h1m-1 1h1m-1 1h1m-1 1h1m-1 1h1m-1 1h1m-1 1h1m-1 1h1m-1 1h1m-1 1h1m-1 1h1m-1 1h1m-1 1h1m-1 1h1m-1 1h1m-1 1h1m-1 1h1m-1 1h1m-1 1h1m-1 1h1m-1 1h1m-1 1h1m-1 1h1m-1 1h1m-1 1h1m-1 1h1m-1 1h1m-1 1h1m-1 1h1m-1 1h1m-1 1h1m-1 1h1m-1 1h1m-1 1h1m-1 1h1m-1 1h1m-1 1h1m-1 1h1m-1 1h1m-1 1h1m-1 1h1m-1 1h1m-1 1h1m-1 1h1m-1 1h1m-1 1h1m-1 1h1m-1 1h1m-1 1h1m-1 1h1m-1 1h1m-1 1h1m-1 1h1m-1 1h1m-1 1h1m-1 1h1m-1 1h1m-1 1h1m-1 1h1m-1 1h1m-1 1h1m-1 1h1m-1 1h1m-1 1h1m-1 1h1m-1 1h1m-1 1h1m-1 1h1m-1 1h1m-1 1h1m-1 1h1m-1 1h1m-1 1h1m-1 1h1m-1 1h1m-1 1h1m-1 1h1m-1 1h1m-1 1h1m-1 1h1m-1 1h1m-1 1h1m-1 1h1m-1 1h1m-1 1h1m-1 1h1m-1 1h1m-1 1h1m-1 1h1m-1 1h1m-1 1h1m-1 1h1m-1 1h1m-1 1h1m-1 1h1m-1 1h1m-1 1h1m-1 1h1m-1 1h1m-1 1h1m-1 1h1m-1 1h1m-1 1h1m-1 1h1m-1 1h1m-1 1h1m-1 1h1m-1 1h1m-1 1h1m-1 1h1m-1 1h1m-1 1h1m-1 1h1m-1 1h1m-1 1h1m-1 1h1m-1 1h1m-1 1h1m-1 1h1m-1 1h1m-1 1h1m-1 1h1m-1 1h1m-1 1h1m-1 1h1m-1 1h1m-1 1h1m-1 1h1m-1 1h1m-1 1h1m-1 1h1m-1 1h1m-1 1h1m-1 1h1m-1 1h1m-1 1h1m-1 1h1m-1 1h1m-1 1h1m-1 1h1m-1 1h1m-1 1h1m-1 1h1m-1 1h1m-1 1h1m-1 1h1m-1 1h1m-1 1h1m-1 1h1m-1 1h1m-1 1h1m-1 1h1m-1 1h1m-1 1h1m-1 1h1m-1 1h1m-1 1h1m-1 1h1m-1 1h1m-1 1h1m-1 1h1m-1 1h1m-1 1h1m-1 1h1m-1 1h1m-1 1h1m-1 1h1m-1 1h1m-1 1h1m-1 1h1m-1 1h1m-1 1h1m-1 1h1m-1 1h1m-1 1h1m-1 1h1m-1 1h1m-1 1h1m-1 1h1m-1 1h1m-1 1h1m-1 1h1m-1 1h1m-1 1h1m-1 1h1m-1 1h1m-1 1h1m-1 1h1m-1 1h1m-1 1h1m-1 1h1m-1 1h1m-1 1h1m-1 1h1m-1 1h1m-1 1h1m-1 1h1m-1 1h1m-1 1h1m-1 1h1m-1 1h1m-1 1h1m-1 1h1m-1 1h1m-1 1h1m-1 1h1m-1 1h1m-1 1h1m-1 1h1m-1 1h1m-1 1h1m-1 1h1m-1 1h1m-1 1h1m-1 1h1m-1 1h1m-1 1h1m-1 1h1m-1 1h1m-1 1h1m-1 1h1m-1 1h1"/>
</g>

<g opacity="0.999">
<text x="85.6" y="51.5" font-size="15.3" fill="#000" stroke="#fff" stroke-width="0.25" textLength="34.9" lengthAdjust="spacingAndGlyphs">AIRS</text>
<text x="126.8" y="51.5" font-size="15.3" fill="#000" stroke="#fff" stroke-width="0.25" textLength="45.5" lengthAdjust="spacingAndGlyphs">SkewT</text>
<text x="183.7" y="51.5" font-size="15.3" fill="#000" stroke="#fff" stroke-width="0.25" textLength="62.7" lengthAdjust="spacingAndGlyphs">Diagram</text>
<text x="257.0" y="51.5" font-size="15.3" fill="#000" stroke="#fff" stroke-width="0.25" textLength="212.0" lengthAdjust="spacingAndGlyphs">2010-08-10/15:40:29.00</text>
<text x="478.4" y="51.5" font-size="15.3" fill="#000" stroke="#fff" stroke-width="0.25" textLength="69.7" lengthAdjust="spacingAndGlyphs">(Lat/Lon</text>
<text x="556.4" y="51.5" font-size="15.3" fill="#000" stroke="#fff" stroke-width="0.25" textLength="111.8" lengthAdjust="spacingAndGlyphs">48.92/157.53</text>
<text x="677.6" y="51.5" font-size="15.3" fill="#000" stroke="#fff" stroke-width="0.25" textLength="32.3" lengthAdjust="spacingAndGlyphs">deg)</text>
<text x="117.0" y="116.8" font-size="18.8" fill="#ff0000" stroke="#fff" stroke-width="0.35" textLength="72.7" lengthAdjust="spacingAndGlyphs">Ambient</text>
<text x="200.0" y="116.8" font-size="18.8" fill="#ff0000" stroke="#fff" stroke-width="0.35" textLength="24.7" lengthAdjust="spacingAndGlyphs">Air</text>
<text x="233.9" y="116.8" font-size="18.8" fill="#ff0000" stroke="#fff" stroke-width="0.35" textLength="46.9" lengthAdjust="spacingAndGlyphs">Temp</text>
<text x="118.5" y="137.6" font-size="18.2" fill="#0000ff" stroke="#fff" stroke-width="0.35" textLength="33.5" lengthAdjust="spacingAndGlyphs">Dew</text>
<text x="164.4" y="137.6" font-size="18.2" fill="#0000ff" stroke="#fff" stroke-width="0.35" textLength="43.2" lengthAdjust="spacingAndGlyphs">Point</text>
<text x="220.3" y="137.6" font-size="18.2" fill="#0000ff" stroke="#fff" stroke-width="0.35" textLength="46.7" lengthAdjust="spacingAndGlyphs">Temp</text>
<text x="114.2" y="65.4" font-size="10.5" fill="#ff0000" textLength="28.6" lengthAdjust="spacingAndGlyphs">-120</text>
<text x="181.7" y="65.4" font-size="10.5" fill="#ff0000" textLength="27.3" lengthAdjust="spacingAndGlyphs">-110</text>
<text x="249.5" y="65.4" font-size="10.5" fill="#ff0000" textLength="27.8" lengthAdjust="spacingAndGlyphs">-100</text>
<text x="324.2" y="65.4" font-size="10.5" fill="#ff0000" textLength="21.5" lengthAdjust="spacingAndGlyphs">-90</text>
<text x="391.7" y="65.4" font-size="10.5" fill="#ff0000" textLength="21.5" lengthAdjust="spacingAndGlyphs">-80</text>
<text x="459.5" y="65.4" font-size="10.5" fill="#ff0000" textLength="20.9" lengthAdjust="spacingAndGlyphs">-70</text>
<text x="527.4" y="65.4" font-size="10.5" fill="#ff0000" textLength="21.2" lengthAdjust="spacingAndGlyphs">-60</text>
<text x="594.9" y="65.4" font-size="10.5" fill="#ff0000" textLength="21.5" lengthAdjust="spacingAndGlyphs">-50</text>
<text x="662.4" y="65.4" font-size="10.5" fill="#ff0000" textLength="21.0" lengthAdjust="spacingAndGlyphs">-40</text>
<text x="88.1" y="517.2" font-size="10.5" fill="#ff0000" textLength="21.0" lengthAdjust="spacingAndGlyphs">-50</text>
<text x="155.3" y="517.2" font-size="10.5" fill="#ff0000" textLength="21.3" lengthAdjust="spacingAndGlyphs">-40</text>
<text x="223.4" y="517.2" font-size="10.5" fill="#ff0000" textLength="21.0" lengthAdjust="spacingAndGlyphs">-30</text>
<text x="291.4" y="517.2" font-size="10.5" fill="#ff0000" textLength="21.0" lengthAdjust="spacingAndGlyphs">-20</text>
<text x="359.1" y="517.2" font-size="10.5" fill="#ff0000" textLength="21.3" lengthAdjust="spacingAndGlyphs">-10</text>
<text x="433.5" y="517.2" font-size="10.5" fill="#ff0000" textLength="6.5" lengthAdjust="spacingAndGlyphs">0</text>
<text x="498.8" y="517.2" font-size="10.5" fill="#ff0000" textLength="12.7" lengthAdjust="spacingAndGlyphs">10</text>
<text x="565.9" y="517.2" font-size="10.5" fill="#ff0000" textLength="13.1" lengthAdjust="spacingAndGlyphs">20</text>
<text x="633.6" y="517.2" font-size="10.5" fill="#ff0000" textLength="13.2" lengthAdjust="spacingAndGlyphs">30</text>
<text x="677.1" y="517.2" font-size="10.5" fill="#ff0000" textLength="21.5" lengthAdjust="spacingAndGlyphs">T(C)</text>
<text x="48.7" y="75.3" font-size="10.5" fill="#000" textLength="18.3" lengthAdjust="spacingAndGlyphs">100</text>
<text x="47.8" y="202.0" font-size="10.5" fill="#000" textLength="18.8" lengthAdjust="spacingAndGlyphs">200</text>
<text x="47.8" y="275.8" font-size="10.5" fill="#000" textLength="19.0" lengthAdjust="spacingAndGlyphs">300</text>
<text x="47.8" y="328.2" font-size="10.5" fill="#000" textLength="19.0" lengthAdjust="spacingAndGlyphs">400</text>
<text x="47.8" y="369.2" font-size="10.5" fill="#000" textLength="19.0" lengthAdjust="spacingAndGlyphs">500</text>
<text x="47.4" y="402.5" font-size="10.5" fill="#000" textLength="19.4" lengthAdjust="spacingAndGlyphs">600</text>
<text x="47.4" y="430.6" font-size="10.5" fill="#000" textLength="19.4" lengthAdjust="spacingAndGlyphs">700</text>
<text x="47.4" y="454.5" font-size="10.5" fill="#000" textLength="19.4" lengthAdjust="spacingAndGlyphs">800</text>
<text x="47.4" y="476.6" font-size="10.5" fill="#000" textLength="19.4" lengthAdjust="spacingAndGlyphs">900</text>
<text x="42.4" y="495.4" font-size="10.5" fill="#000" textLength="25.6" lengthAdjust="spacingAndGlyphs">1000</text>
<g font-size="14.3" fill="#000" stroke="#fff" stroke-width="0.2"><text transform="translate(82.1,332) rotate(-90) scale(0.8594,1)">PRESSURE</text><text transform="translate(82.1,256.6) rotate(-90) scale(0.9526,1)">(MB)</text></g>
<text x="700.9" y="84.9" font-size="13.6" fill="#000" textLength="44.6" lengthAdjust="spacingAndGlyphs">TP:100</text>
<text x="700.5" y="100.6" font-size="13.6" fill="#000" textLength="50.7" lengthAdjust="spacingAndGlyphs">MW:N/A</text>
<text x="700.5" y="116.3" font-size="13.6" fill="#000" textLength="53.1" lengthAdjust="spacingAndGlyphs">FRZ:680</text>
<text x="700.0" y="132.0" font-size="13.6" fill="#000" textLength="56.0" lengthAdjust="spacingAndGlyphs">WB0:907</text>
<text x="699.7" y="147.7" font-size="13.6" fill="#000" textLength="59.8" lengthAdjust="spacingAndGlyphs">PW:10.08</text>
<text x="700.5" y="163.4" font-size="13.6" fill="#000" textLength="51.0" lengthAdjust="spacingAndGlyphs">RH:34.0</text>
<text x="700.0" y="179.0" font-size="13.6" fill="#000" textLength="64.3" lengthAdjust="spacingAndGlyphs">MAXT:24.5</text>
<text x="700.5" y="194.7" font-size="13.6" fill="#000" textLength="53.1" lengthAdjust="spacingAndGlyphs">TH:5463</text>
<text x="700.9" y="210.4" font-size="13.6" fill="#000" textLength="48.3" lengthAdjust="spacingAndGlyphs">L57:6.2</text>
<text x="700.9" y="226.1" font-size="13.6" fill="#000" textLength="51.1" lengthAdjust="spacingAndGlyphs">LCL:907</text>
<text x="701.3" y="241.8" font-size="13.6" fill="#000" textLength="43.4" lengthAdjust="spacingAndGlyphs">LI:15.3</text>
<text x="701.3" y="257.5" font-size="13.6" fill="#000" textLength="37.0" lengthAdjust="spacingAndGlyphs">SI:9.3</text>
<text x="700.0" y="273.2" font-size="13.6" fill="#000" textLength="47.1" lengthAdjust="spacingAndGlyphs">TT:36.0</text>
<text x="701.3" y="288.9" font-size="13.6" fill="#000" textLength="41.0" lengthAdjust="spacingAndGlyphs">KI:277</text>
<text x="700.5" y="304.6" font-size="13.6" fill="#000" textLength="48.7" lengthAdjust="spacingAndGlyphs">SW:N/A</text>
<text x="702.9" y="320.2" font-size="13.6" fill="#000" textLength="34.6" lengthAdjust="spacingAndGlyphs">EI:0.2</text>
<text x="699.3" y="335.9" font-size="13.6" fill="#000" textLength="68.7" lengthAdjust="spacingAndGlyphs">-PARCEL-</text>
<text x="700.9" y="351.6" font-size="13.6" fill="#000" textLength="45.4" lengthAdjust="spacingAndGlyphs">CAPE:0</text>
<text x="698.0" y="367.3" font-size="13.6" fill="#000" textLength="76.0" lengthAdjust="spacingAndGlyphs">CINH:20294</text>
<text x="700.9" y="383.0" font-size="13.6" fill="#000" textLength="51.1" lengthAdjust="spacingAndGlyphs">LCL:907</text>
<text x="700.0" y="398.7" font-size="13.6" fill="#000" textLength="56.0" lengthAdjust="spacingAndGlyphs">CAP:10.1</text>
<text x="700.9" y="414.4" font-size="13.6" fill="#000" textLength="53.5" lengthAdjust="spacingAndGlyphs">LFC:N/A</text>
<text x="701.6" y="430.1" font-size="13.6" fill="#000" textLength="44.7" lengthAdjust="spacingAndGlyphs">EL:N/A</text>
<text x="700.5" y="445.8" font-size="13.6" fill="#000" textLength="55.5" lengthAdjust="spacingAndGlyphs">MPL:N/A</text>
<text x="700.9" y="461.5" font-size="13.6" fill="#000" textLength="51.1" lengthAdjust="spacingAndGlyphs">-WIND-</text>
<text x="703.7" y="477.1" font-size="13.6" fill="#000" textLength="24.0" lengthAdjust="spacingAndGlyphs">NOT</text>
<text x="702.4" y="492.8" font-size="13.6" fill="#000" textLength="31.6" lengthAdjust="spacingAndGlyphs">AVAIL</text>
<text transform="translate(142.0,523.3) rotate(-45)" x="-8.2" y="3.8" font-size="10.5" fill="#5c1c9e" stroke="#5c1c9e" stroke-width="0.3" textLength="16.5" lengthAdjust="spacingAndGlyphs">0.1</text>
<text transform="translate(188.7,523.3) rotate(-45)" x="-8.2" y="3.8" font-size="10.5" fill="#5c1c9e" stroke="#5c1c9e" stroke-width="0.3" textLength="16.5" lengthAdjust="spacingAndGlyphs">0.2</text>
<text transform="translate(254.5,523.3) rotate(-45)" x="-8.2" y="3.8" font-size="10.5" fill="#5c1c9e" stroke="#5c1c9e" stroke-width="0.3" textLength="16.5" lengthAdjust="spacingAndGlyphs">0.5</text>
<text transform="translate(307.8,522.8) rotate(-45)" x="-3.3" y="3.8" font-size="10.5" fill="#5c1c9e" stroke="#5c1c9e" stroke-width="0.3" textLength="6.6" lengthAdjust="spacingAndGlyphs">1</text>
<text transform="translate(341.4,522.0) rotate(-45)" x="-8.2" y="3.8" font-size="10.5" fill="#5c1c9e" stroke="#5c1c9e" stroke-width="0.3" textLength="16.5" lengthAdjust="spacingAndGlyphs">1.5</text>
<text transform="translate(365.5,522.8) rotate(-45)" x="-3.3" y="3.8" font-size="10.5" fill="#5c1c9e" stroke="#5c1c9e" stroke-width="0.3" textLength="6.6" lengthAdjust="spacingAndGlyphs">2</text>
<text transform="translate(400.9,522.8) rotate(-45)" x="-3.3" y="3.8" font-size="10.5" fill="#5c1c9e" stroke="#5c1c9e" stroke-width="0.3" textLength="6.6" lengthAdjust="spacingAndGlyphs">3</text>
<text transform="translate(427.9,522.8) rotate(-45)" x="-3.3" y="3.8" font-size="10.5" fill="#5c1c9e" stroke="#5c1c9e" stroke-width="0.3" textLength="6.6" lengthAdjust="spacingAndGlyphs">4</text>
<text transform="translate(465.3,522.8) rotate(-45)" x="-3.3" y="3.8" font-size="10.5" fill="#5c1c9e" stroke="#5c1c9e" stroke-width="0.3" textLength="6.6" lengthAdjust="spacingAndGlyphs">6</text>
<text transform="translate(493.7,522.8) rotate(-45)" x="-3.3" y="3.8" font-size="10.5" fill="#5c1c9e" stroke="#5c1c9e" stroke-width="0.3" textLength="6.6" lengthAdjust="spacingAndGlyphs">8</text>
<text transform="translate(516.5,522.5) rotate(-45)" x="-6.6" y="3.8" font-size="10.5" fill="#5c1c9e" stroke="#5c1c9e" stroke-width="0.3" textLength="13.2" lengthAdjust="spacingAndGlyphs">10</text>
<text transform="translate(536.0,522.5) rotate(-45)" x="-6.6" y="3.8" font-size="10.5" fill="#5c1c9e" stroke="#5c1c9e" stroke-width="0.3" textLength="13.2" lengthAdjust="spacingAndGlyphs">12</text>
<text transform="translate(558.8,522.0) rotate(-45)" x="-6.6" y="3.8" font-size="10.5" fill="#5c1c9e" stroke="#5c1c9e" stroke-width="0.3" textLength="13.2" lengthAdjust="spacingAndGlyphs">15</text>
<text transform="translate(589.9,522.5) rotate(-45)" x="-6.6" y="3.8" font-size="10.5" fill="#5c1c9e" stroke="#5c1c9e" stroke-width="0.3" textLength="13.2" lengthAdjust="spacingAndGlyphs">20</text>
<text transform="translate(613.9,522.5) rotate(-45)" x="-6.6" y="3.8" font-size="10.5" fill="#5c1c9e" stroke="#5c1c9e" stroke-width="0.3" textLength="13.2" lengthAdjust="spacingAndGlyphs">25</text>
<text transform="translate(635.9,522.0) rotate(-45)" x="-6.6" y="3.8" font-size="10.5" fill="#5c1c9e" stroke="#5c1c9e" stroke-width="0.3" textLength="13.2" lengthAdjust="spacingAndGlyphs">30</text>
<text transform="translate(666.5,523.3) rotate(-45)" x="-6.6" y="3.8" font-size="10.5" fill="#5c1c9e" stroke="#5c1c9e" stroke-width="0.3" textLength="13.2" lengthAdjust="spacingAndGlyphs">35</text>
<text transform="translate(668.5,523.3) rotate(-45)" x="-6.6" y="3.8" font-size="10.5" fill="#5c1c9e" stroke="#5c1c9e" stroke-width="0.3" textLength="13.2" lengthAdjust="spacingAndGlyphs">40</text>
<text x="675.1" y="526.5" font-size="11.0" fill="#5c1c9e" textLength="32.3" lengthAdjust="spacingAndGlyphs" stroke="#5c1c9e" stroke-width="0.3">(g/kg)</text>
</g>
</svg></body></html>
